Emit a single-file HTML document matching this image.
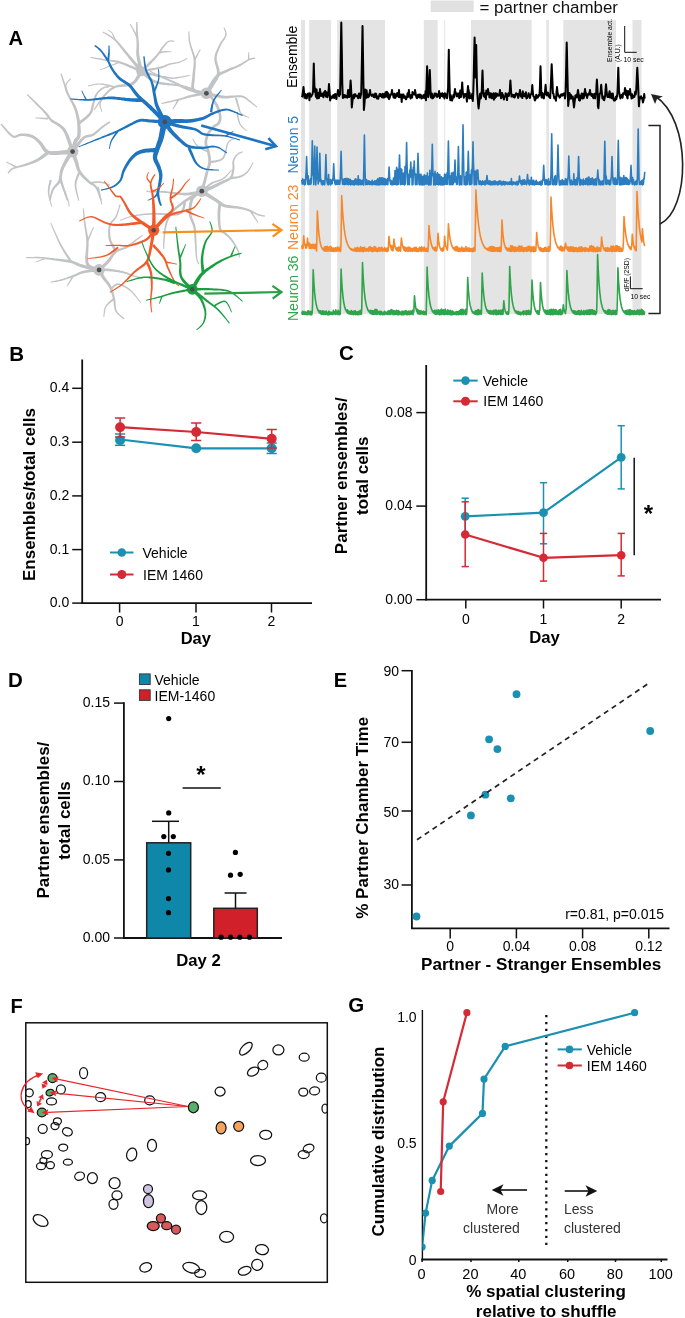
<!DOCTYPE html>
<html><head><meta charset="utf-8"><style>
html,body{margin:0;padding:0;background:#fff;width:685px;height:1318px;overflow:hidden}
svg{display:block;will-change:transform}
text{font-family:"Liberation Sans", sans-serif}
</style></head><body>
<svg width="685" height="1318" viewBox="0 0 685 1318" font-family='"Liberation Sans", sans-serif'>
<rect width="685" height="1318" fill="#fff"/>
<text x="8.6" y="44.9" font-size="20.2" text-anchor="start" font-weight="bold" fill="#000">A</text>
<rect x="301" y="20" width="4.0" height="294" fill="#e4e4e4"/>
<rect x="309.2" y="20" width="21.9" height="294" fill="#e4e4e4"/>
<rect x="337.2" y="20" width="47.9" height="294" fill="#e4e4e4"/>
<rect x="423.8" y="20" width="13.9" height="294" fill="#e4e4e4"/>
<rect x="444.2" y="20" width="1.0" height="294" fill="#e4e4e4"/>
<rect x="471" y="20" width="60.7" height="294" fill="#e4e4e4"/>
<rect x="546.3" y="20" width="2.6" height="294" fill="#e4e4e4"/>
<rect x="563.3" y="20" width="52.7" height="294" fill="#e4e4e4"/>
<rect x="632.5" y="20" width="9.0" height="294" fill="#e4e4e4"/>
<rect x="430.7" y="0.5" width="43" height="11.5" fill="#e1e1e1"/>
<text x="479.5" y="13" font-size="16.9" fill="#111">= partner chamber</text>
<polyline points="301.8,97.3 302.2,96.6 302.7,93.1 303.1,90.5 303.5,87.0 303.6,88.0 304.1,92.5 304.5,97.8 304.9,93.8 305.4,94.5 305.9,98.2 306.3,95.3 306.8,98.4 307.2,96.0 307.6,93.8 308.1,93.5 308.6,94.2 309.0,93.5 309.4,100.2 309.9,93.3 310.4,95.2 310.8,95.8 311.2,96.7 311.7,95.4 312.1,94.8 312.6,93.9 313.1,90.6 313.5,74.3 313.8,63.4 313.9,68.8 314.4,85.1 314.9,92.0 315.3,88.4 315.8,96.3 316.2,97.0 316.6,89.6 317.1,98.4 317.6,96.8 318.0,93.2 318.4,93.1 318.9,98.2 319.4,94.1 319.8,90.6 320.0,89.0 320.2,90.9 320.7,93.7 321.1,96.1 321.6,95.1 322.1,95.5 322.5,93.4 322.9,96.2 323.4,97.3 323.9,93.2 324.3,92.1 324.8,91.3 325.2,90.9 325.6,96.0 326.1,96.7 326.6,92.3 327.0,94.9 327.4,97.2 327.9,95.3 328.4,92.7 328.8,86.7 329.0,84.0 329.2,87.3 329.7,93.3 330.1,100.4 330.6,98.5 331.1,96.6 331.5,98.0 331.9,96.8 332.4,96.2 332.9,97.7 333.3,95.0 333.8,96.1 334.2,97.9 334.6,97.6 335.1,94.0 335.6,97.1 336.0,95.1 336.4,99.1 336.9,94.2 337.4,94.3 337.8,91.3 338.0,90.0 338.2,91.7 338.7,93.8 339.1,96.2 339.6,93.5 340.1,94.5 340.5,71.5 340.9,44.0 341.3,22.6 341.4,28.7 341.9,56.2 342.3,83.8 342.8,97.9 343.2,96.0 343.6,97.7 344.1,95.0 344.6,96.3 345.0,95.2 345.4,97.2 345.9,96.0 346.4,96.7 346.8,95.7 347.2,97.7 347.7,93.5 348.1,89.9 348.6,90.9 349.1,97.1 349.5,96.3 349.9,91.7 350.4,83.9 350.6,80.5 350.9,84.8 351.3,92.6 351.8,107.5 352.2,104.0 352.6,99.5 353.1,97.9 353.6,94.7 354.0,98.2 354.4,96.5 354.9,94.3 355.4,94.2 355.8,96.2 356.2,95.9 356.7,96.3 357.1,96.1 357.6,95.7 358.1,98.2 358.5,96.3 358.9,93.4 359.4,93.7 359.9,97.2 360.3,97.9 360.8,95.0 361.2,94.2 361.6,75.6 362.1,49.3 362.5,26.0 362.6,28.9 363.0,55.2 363.4,81.4 363.9,110.0 364.4,104.7 364.8,99.5 365.2,89.5 365.7,95.8 366.1,98.0 366.6,90.3 367.1,95.5 367.5,97.3 367.9,97.2 368.4,94.5 368.9,96.6 369.3,94.7 369.8,91.7 370.0,90.0 370.2,91.3 370.6,94.3 371.1,94.9 371.6,95.9 372.0,95.5 372.4,94.5 372.9,95.8 373.4,94.6 373.8,97.1 374.2,95.4 374.7,97.3 375.1,93.4 375.6,94.7 376.1,93.9 376.5,97.1 376.9,98.5 377.4,96.5 377.9,96.6 378.3,98.8 378.8,96.0 379.2,96.0 379.6,94.1 380.1,96.0 380.6,93.9 381.0,94.6 381.4,96.0 381.9,97.3 382.4,94.9 382.8,93.9 383.2,97.6 383.7,97.6 384.1,93.9 384.6,97.2 385.1,96.9 385.5,92.3 385.9,94.0 386.4,96.6 386.9,91.7 387.3,96.2 387.8,97.4 388.2,93.3 388.6,97.9 389.1,99.1 389.6,97.9 390.0,96.5 390.4,94.4 390.9,94.9 391.4,94.2 391.8,91.3 392.0,90.0 392.2,91.7 392.7,94.7 393.1,94.9 393.6,97.6 394.1,95.1 394.5,93.7 394.9,97.9 395.4,97.8 395.9,94.6 396.3,95.5 396.8,96.1 397.2,93.1 397.6,94.5 398.1,94.5 398.6,97.1 399.0,90.0 399.4,97.2 399.9,96.7 400.4,96.4 400.8,94.4 401.2,96.3 401.7,101.9 402.1,94.6 402.6,97.6 403.1,94.5 403.5,94.5 403.9,97.8 404.4,97.5 404.9,96.2 405.3,97.7 405.8,99.2 406.2,99.3 406.6,97.8 407.1,96.3 407.6,93.2 408.0,97.0 408.4,95.9 408.9,89.9 409.4,95.0 409.8,95.7 410.2,97.5 410.7,98.4 411.1,95.0 411.6,95.5 412.1,97.6 412.5,91.9 412.9,93.4 413.4,93.5 413.9,93.8 414.3,94.7 414.8,91.7 415.0,90.0 415.2,91.3 415.6,93.5 416.1,96.2 416.6,97.6 417.0,98.2 417.4,97.7 417.9,94.8 418.4,96.3 418.8,96.9 419.2,94.4 419.7,97.6 420.1,94.6 420.6,96.6 421.1,95.3 421.5,98.6 421.9,97.2 422.4,97.5 422.9,97.7 423.3,95.3 423.8,97.7 424.2,94.7 424.6,96.4 425.1,98.3 425.6,91.0 426.0,100.3 426.4,87.7 426.9,72.8 427.1,66.2 427.4,74.5 427.8,89.4 428.2,97.2 428.7,94.1 429.1,88.8 429.6,75.8 429.8,70.0 430.1,77.2 430.5,90.2 430.9,97.5 431.4,96.0 431.9,93.6 432.3,98.4 432.8,95.3 433.2,98.1 433.6,96.6 434.1,96.8 434.6,93.5 435.0,94.5 435.4,94.0 435.9,93.5 436.4,96.3 436.8,94.3 437.2,97.1 437.7,94.6 438.1,94.7 438.6,95.9 439.1,91.1 439.5,94.4 439.9,98.1 440.4,94.0 440.9,93.8 441.3,96.1 441.8,94.6 442.2,93.2 442.6,96.6 443.1,93.7 443.6,94.7 444.0,95.1 444.4,98.5 444.9,93.3 445.4,95.5 445.8,94.3 446.2,94.3 446.7,97.6 447.1,98.2 447.6,92.6 448.1,88.3 448.5,65.1 448.8,49.7 448.9,57.4 449.4,80.6 449.9,96.7 450.3,100.2 450.8,95.3 451.2,97.7 451.6,99.5 452.1,100.6 452.6,98.7 453.0,96.8 453.4,95.0 453.9,97.4 454.4,93.1 454.8,90.6 455.0,89.0 455.2,90.9 455.7,93.2 456.1,93.5 456.6,96.3 457.1,93.6 457.5,95.9 457.9,96.4 458.4,93.5 458.9,93.5 459.3,98.1 459.8,97.0 460.2,90.5 460.6,97.1 461.1,96.7 461.6,92.2 462.0,85.4 462.2,82.4 462.4,86.2 462.9,93.0 463.4,93.8 463.8,97.7 464.2,96.1 464.7,95.6 465.1,93.9 465.6,96.1 466.1,94.2 466.5,97.3 466.9,101.6 467.4,92.7 467.9,87.7 468.0,86.0 468.3,89.3 468.8,90.6 469.2,98.5 469.6,92.8 470.1,98.1 470.6,97.2 471.0,96.3 471.4,98.4 471.9,95.1 472.4,93.6 472.8,101.0 473.2,94.3 473.7,77.4 474.1,57.4 474.6,37.4 475.1,57.4 475.5,77.4 475.9,59.2 476.2,45.0 476.4,56.3 476.9,81.8 477.3,93.1 477.8,99.8 478.2,104.7 478.6,108.5 479.1,103.6 479.6,98.7 480.0,93.9 480.4,93.5 480.9,98.4 481.4,95.6 481.8,90.3 482.2,77.5 482.5,70.4 482.7,76.1 483.1,88.9 483.6,93.5 484.1,96.5 484.5,96.9 484.9,93.4 485.4,96.9 485.9,99.3 486.3,90.4 486.8,93.7 487.2,94.5 487.6,91.7 488.0,89.0 488.1,89.8 488.6,93.3 489.0,92.8 489.4,97.5 489.9,97.6 490.4,94.9 490.8,93.2 491.2,97.6 491.7,94.1 492.1,98.3 492.6,95.7 493.1,98.0 493.5,93.2 493.9,99.8 494.4,96.7 494.9,98.2 495.3,93.4 495.8,93.2 496.2,96.7 496.6,95.9 497.1,93.7 497.6,94.5 498.0,95.5 498.4,95.6 498.9,95.7 499.4,94.3 499.8,91.3 500.0,90.0 500.2,91.7 500.7,94.7 501.1,98.3 501.6,96.3 502.1,92.9 502.5,94.2 502.9,94.8 503.4,97.5 503.9,99.5 504.3,96.8 504.8,96.5 505.2,96.6 505.6,93.2 506.1,93.9 506.6,97.0 507.0,100.1 507.4,94.6 507.9,95.1 508.4,93.3 508.8,96.0 509.2,93.8 509.7,92.6 510.1,84.8 510.4,80.5 510.6,83.9 511.1,91.7 511.5,96.6 511.9,95.6 512.4,96.2 512.9,94.7 513.3,96.9 513.8,96.4 514.2,95.0 514.6,97.5 515.1,96.6 515.5,94.7 516.0,93.2 516.5,93.5 516.9,94.5 517.4,94.0 517.8,96.2 518.2,97.9 518.7,96.5 519.1,93.7 519.6,92.7 520.0,90.0 520.0,90.3 520.5,93.3 521.0,96.5 521.4,96.2 521.9,95.0 522.3,98.1 522.8,91.3 523.2,94.5 523.6,94.6 524.1,96.3 524.5,94.1 525.0,96.3 525.5,93.7 525.9,92.2 526.4,98.5 526.8,95.7 527.2,98.1 527.7,96.0 528.1,95.6 528.6,93.2 529.0,95.7 529.5,97.0 530.0,97.9 530.4,95.2 530.9,94.4 531.3,93.9 531.8,91.7 532.2,86.2 532.3,85.0 532.6,89.3 533.1,94.8 533.5,96.4 534.0,96.8 534.5,98.7 534.9,100.6 535.4,99.5 535.8,97.7 536.2,94.8 536.7,98.0 537.1,96.2 537.6,97.2 538.0,97.4 538.5,95.2 539.0,94.5 539.4,95.6 539.9,87.7 540.3,72.8 540.5,66.2 540.8,74.5 541.2,89.4 541.6,97.4 542.1,93.2 542.5,93.1 543.0,97.6 543.5,96.7 543.9,98.5 544.4,93.9 544.8,94.8 545.2,89.2 545.6,84.8 545.7,86.0 546.1,91.6 546.6,93.7 547.0,95.6 547.5,94.0 548.0,92.6 548.4,94.6 548.9,96.0 549.3,97.2 549.8,95.5 550.2,98.0 550.6,89.5 551.1,78.7 551.5,67.9 551.7,64.3 552.0,71.5 552.5,82.3 552.9,93.1 553.4,93.5 553.8,95.8 554.2,98.2 554.7,96.9 555.1,98.0 555.6,99.3 556.0,100.8 556.5,92.0 557.0,87.5 557.0,87.0 557.4,91.0 557.9,95.5 558.3,94.5 558.8,96.1 559.2,96.8 559.6,97.7 560.1,97.1 560.5,96.6 561.0,94.5 561.5,94.8 561.9,94.2 562.4,95.6 562.8,93.9 563.2,95.1 563.7,94.4 564.1,93.4 564.6,94.6 565.0,98.4 565.5,94.5 566.0,75.9 566.4,55.9 566.7,42.5 566.9,49.2 567.3,69.2 567.8,89.3 568.2,106.0 568.6,101.5 569.1,97.0 569.5,93.1 570.0,97.2 570.5,98.6 570.9,94.8 571.4,98.4 571.8,96.8 572.2,98.0 572.7,96.5 573.1,99.5 573.6,104.0 574.0,107.5 574.5,103.0 575.0,98.8 575.4,95.4 575.9,95.3 576.3,95.3 576.8,97.5 577.2,95.3 577.6,92.3 578.0,90.0 578.1,90.7 578.5,93.7 579.0,100.1 579.5,95.4 579.9,100.7 580.4,97.7 580.8,96.1 581.2,96.0 581.7,93.5 582.1,98.5 582.6,98.6 583.0,93.8 583.5,98.3 584.0,96.9 584.4,93.7 584.9,90.2 585.0,89.0 585.3,91.3 585.8,92.9 586.2,95.7 586.6,95.8 587.1,98.1 587.5,95.8 588.0,94.2 588.5,93.5 588.9,94.7 589.4,94.3 589.8,91.3 590.0,90.0 590.2,91.7 590.7,94.7 591.1,94.5 591.6,96.0 592.0,93.9 592.5,95.4 593.0,97.3 593.4,98.1 593.9,95.8 594.3,93.7 594.8,96.7 595.2,98.4 595.6,94.5 596.1,94.2 596.5,85.9 596.9,79.5 597.0,81.3 597.5,89.6 597.9,106.5 598.4,108.3 598.8,103.0 599.2,97.8 599.7,93.6 600.1,93.7 600.6,92.3 601.0,86.7 601.2,84.8 601.5,88.5 602.0,93.9 602.4,98.4 602.9,96.2 603.3,98.1 603.8,100.0 604.2,100.2 604.6,98.3 605.1,96.0 605.5,90.2 606.0,84.3 606.5,90.2 606.9,93.6 607.4,96.9 607.8,95.6 608.2,96.4 608.7,97.0 609.1,93.5 609.6,91.2 610.0,97.5 610.5,93.3 611.0,93.6 611.4,98.0 611.9,98.3 612.3,97.1 612.8,93.4 613.2,97.7 613.6,99.5 614.1,100.6 614.5,98.7 615.0,100.4 615.5,98.5 615.9,96.7 616.4,99.2 616.8,95.6 617.2,96.8 617.7,86.6 618.1,72.5 618.3,67.8 618.6,77.2 619.0,91.3 619.5,93.9 620.0,96.6 620.4,98.5 620.9,96.0 621.3,96.1 621.8,94.7 622.2,97.3 622.6,97.6 623.1,93.3 623.5,94.0 624.0,93.8 624.5,92.9 624.9,88.9 625.0,88.0 625.4,91.1 625.8,94.9 626.2,90.5 626.7,93.2 627.1,97.1 627.6,98.4 628.0,90.9 628.5,93.4 629.0,94.7 629.4,93.7 629.9,90.2 630.0,89.0 630.3,91.3 630.8,94.8 631.2,96.2 631.6,98.6 632.1,94.2 632.5,97.1 633.0,97.7 633.5,96.2 633.9,95.7 634.4,96.9 634.8,94.4 635.2,91.7 635.7,94.6 636.1,92.4 636.6,82.8 637.0,73.1 637.3,67.8 637.5,72.1 638.0,81.7 638.4,91.3 638.9,106.3 639.3,101.4 639.8,97.5 640.2,97.0 640.6,98.2 641.1,96.2 641.5,97.5 642.0,97.9 642.5,99.8 642.9,102.4 643.4,101.0 643.8,98.3 644.2,94.1 644.7,98.6" fill="none" stroke="#000" stroke-width="2.0" stroke-linejoin="round"/>
<polyline points="301.8,179.9 302.2,184.0 302.6,178.9 303.0,183.9 303.4,181.7 303.8,183.9 304.2,179.7 304.6,184.9 305.0,180.2 305.4,184.3 305.8,176.9 306.2,169.2 306.6,156.5 307.0,169.2 307.4,178.9 307.8,184.3 308.2,175.7 308.6,184.7 309.0,180.8 309.4,184.0 309.8,180.4 310.2,184.4 310.6,178.8 311.0,183.9 311.4,178.5 311.8,165.3 312.2,145.6 312.3,140.7 312.6,155.5 313.0,175.2 313.4,173.7 313.8,184.6 314.2,167.7 314.6,150.3 314.7,146.0 315.0,159.0 315.4,176.3 315.8,185.0 316.2,178.4 316.6,163.9 317.0,147.0 317.4,163.9 317.8,178.8 318.2,183.9 318.6,181.1 319.0,181.5 319.4,167.4 319.8,153.3 320.2,167.4 320.6,181.5 321.0,179.4 321.4,184.0 321.8,181.7 322.2,184.9 322.6,180.7 323.0,183.9 323.4,180.7 323.8,184.3 324.2,180.7 324.6,184.8 325.0,181.5 325.4,171.5 325.8,158.0 325.9,154.6 326.2,164.7 326.6,178.2 327.0,180.9 327.4,184.0 327.8,180.2 328.2,184.9 328.6,174.6 329.0,184.0 329.4,181.2 329.8,183.9 330.2,179.5 330.6,184.9 331.0,180.1 331.4,184.0 331.8,180.6 332.2,183.8 332.6,178.7 333.0,180.3 333.4,170.8 333.7,163.7 333.8,166.1 334.2,175.5 334.6,180.8 335.0,183.8 335.4,180.3 335.8,184.6 336.2,182.0 336.6,184.1 337.0,180.0 337.4,184.1 337.8,180.4 338.2,184.2 338.6,180.3 339.0,184.2 339.4,181.5 339.8,184.1 340.2,180.2 340.6,170.1 341.0,155.1 341.1,151.4 341.4,162.6 341.8,177.5 342.2,180.4 342.6,184.2 343.0,179.2 343.4,184.2 343.8,179.3 344.2,184.6 344.6,178.9 345.0,184.2 345.4,178.5 345.8,184.4 346.2,179.9 346.6,184.0 347.0,178.4 347.4,184.2 347.8,179.1 348.2,184.8 348.6,178.8 349.0,184.2 349.4,180.0 349.8,184.1 350.2,179.2 350.6,185.0 351.0,180.9 351.4,184.2 351.8,180.6 352.2,184.2 352.6,181.2 353.0,184.7 353.4,181.1 353.8,184.6 354.2,180.5 354.6,185.0 355.0,179.4 355.4,184.3 355.8,178.9 356.2,183.9 356.6,181.2 357.0,184.7 357.4,179.9 357.8,184.0 358.2,175.9 358.6,184.9 359.0,180.3 359.4,184.3 359.8,179.5 360.2,184.5 360.6,180.3 361.0,184.6 361.4,182.2 361.8,184.3 362.2,180.2 362.6,184.3 363.0,181.7 363.4,185.0 363.8,168.3 364.2,146.1 364.4,135.0 364.6,146.1 365.0,168.3 365.4,184.7 365.8,181.4 366.2,184.5 366.6,179.5 367.0,184.3 367.4,181.4 367.8,184.4 368.2,181.0 368.6,183.8 369.0,180.8 369.4,184.4 369.8,181.9 370.2,184.5 370.6,181.6 371.0,184.0 371.4,182.4 371.8,184.7 372.2,180.2 372.6,184.7 373.0,181.9 373.4,183.8 373.8,181.9 374.2,184.4 374.6,180.9 375.0,184.1 375.4,182.0 375.8,184.6 376.2,180.5 376.6,184.6 377.0,180.1 377.4,184.6 377.8,178.9 378.2,185.0 378.6,180.3 379.0,183.9 379.4,177.7 379.8,185.0 380.2,178.1 380.6,184.3 381.0,178.4 381.4,184.4 381.8,177.7 382.2,184.5 382.6,178.0 383.0,184.6 383.4,178.2 383.8,184.0 384.2,178.8 384.6,184.7 385.0,178.5 385.4,184.8 385.8,179.6 386.2,184.4 386.6,180.2 387.0,184.3 387.4,178.8 387.8,184.7 388.2,179.2 388.6,177.0 389.0,169.0 389.1,167.0 389.4,173.0 389.8,181.0 390.2,180.3 390.6,184.2 391.0,180.3 391.4,184.8 391.8,182.0 392.2,184.8 392.6,181.1 393.0,184.8 393.4,178.3 393.8,184.5 394.2,177.5 394.6,184.1 395.0,170.5 395.4,184.5 395.8,173.8 396.2,184.4 396.6,167.4 397.0,184.9 397.4,169.1 397.8,184.2 398.2,170.8 398.6,184.3 399.0,169.7 399.4,158.3 399.5,155.0 399.8,165.0 400.2,174.3 400.6,184.6 401.0,168.7 401.4,184.1 401.8,169.5 402.2,184.2 402.6,174.8 403.0,184.3 403.4,173.4 403.8,184.4 404.2,172.6 404.6,185.0 405.0,166.5 405.4,183.9 405.8,169.8 406.2,161.4 406.6,142.6 407.0,161.4 407.4,175.3 407.8,184.6 408.2,174.7 408.6,184.3 409.0,174.0 409.4,184.8 409.8,170.1 410.2,177.3 410.6,167.1 410.8,162.0 411.0,167.1 411.4,177.3 411.8,173.7 412.2,185.0 412.6,169.8 413.0,184.4 413.4,167.0 413.8,171.7 414.2,161.0 414.6,171.7 415.0,176.2 415.4,184.8 415.8,174.1 416.2,183.9 416.6,175.9 417.0,184.7 417.4,174.4 417.8,160.3 418.0,153.3 418.2,160.3 418.6,171.2 419.0,184.2 419.4,175.0 419.8,184.9 420.2,174.3 420.6,184.2 421.0,174.3 421.4,184.8 421.8,178.7 422.2,184.9 422.6,176.4 423.0,184.6 423.4,177.1 423.8,184.7 424.2,174.7 424.6,184.8 425.0,177.8 425.4,183.9 425.8,175.6 426.2,183.8 426.6,179.4 427.0,184.1 427.4,173.0 427.8,183.8 428.2,176.5 428.6,184.9 429.0,178.8 429.4,184.4 429.8,170.3 430.2,184.9 430.6,175.9 431.0,184.7 431.4,175.3 431.8,166.9 432.2,148.7 432.3,144.2 432.6,157.8 433.0,175.9 433.4,176.8 433.8,184.9 434.2,173.3 434.6,184.3 435.0,171.2 435.4,185.0 435.8,174.0 436.2,184.3 436.6,175.7 437.0,184.1 437.4,172.8 437.8,184.5 438.2,174.0 438.6,184.9 439.0,177.4 439.4,184.1 439.8,174.6 440.2,184.8 440.6,178.8 441.0,184.9 441.4,176.7 441.8,184.7 442.2,178.7 442.6,184.9 443.0,177.8 443.4,184.6 443.8,178.3 444.2,184.6 444.6,174.1 445.0,183.9 445.4,174.7 445.8,184.3 446.2,176.0 446.6,184.2 447.0,172.7 447.4,184.2 447.8,170.3 448.2,150.8 448.4,141.0 448.6,150.8 449.0,170.3 449.4,184.7 449.8,178.2 450.2,184.3 450.6,175.9 451.0,184.6 451.4,173.0 451.8,184.3 452.2,177.0 452.6,184.6 453.0,172.2 453.4,184.0 453.8,174.2 454.2,182.2 454.6,171.1 455.0,160.0 455.4,171.1 455.8,182.2 456.2,177.4 456.6,184.4 457.0,176.9 457.4,184.1 457.8,172.2 458.2,155.1 458.4,146.6 458.6,155.1 459.0,170.9 459.4,185.0 459.8,175.5 460.2,183.9 460.6,176.1 461.0,184.7 461.4,176.9 461.8,184.6 462.2,172.6 462.6,151.6 463.0,124.8 463.4,151.6 463.8,171.4 464.2,184.5 464.6,176.6 465.0,184.4 465.4,177.4 465.8,184.9 466.2,172.4 466.6,184.8 467.0,171.9 467.4,184.2 467.8,170.1 468.2,155.1 468.3,151.4 468.6,162.6 469.0,176.4 469.4,184.6 469.8,177.5 470.2,184.5 470.6,174.2 471.0,184.5 471.4,170.1 471.8,183.9 472.2,171.8 472.6,161.1 473.0,141.9 473.4,161.1 473.8,170.8 474.2,184.7 474.6,175.6 475.0,184.6 475.4,171.0 475.8,184.1 476.2,173.4 476.6,184.7 477.0,170.0 477.4,176.7 477.8,170.0 478.2,176.7 478.6,181.0 479.0,184.1 479.4,181.3 479.8,184.4 480.2,180.8 480.6,183.8 481.0,181.7 481.4,185.0 481.8,182.0 482.2,184.2 482.6,180.9 483.0,184.3 483.4,182.0 483.8,184.2 484.2,181.6 484.6,184.6 485.0,180.8 485.4,184.6 485.8,182.1 486.2,183.9 486.6,179.7 487.0,175.5 487.4,179.7 487.8,183.9 488.2,180.8 488.6,184.1 489.0,181.8 489.4,184.4 489.8,180.7 490.2,184.7 490.6,181.4 491.0,184.8 491.4,182.7 491.8,184.3 492.2,181.5 492.6,184.8 493.0,181.6 493.4,184.2 493.8,181.3 494.2,184.4 494.6,181.1 495.0,184.6 495.4,181.0 495.8,183.9 496.2,182.3 496.6,184.0 497.0,181.7 497.4,184.8 497.8,182.4 498.2,184.8 498.6,181.3 499.0,184.1 499.4,181.0 499.8,184.0 500.2,181.0 500.6,183.9 501.0,181.3 501.4,184.9 501.8,182.5 502.2,184.8 502.6,182.0 503.0,184.2 503.4,181.2 503.8,184.5 504.2,181.7 504.6,184.9 505.0,181.7 505.4,184.2 505.8,181.9 506.2,183.9 506.6,182.8 507.0,184.1 507.4,182.4 507.8,184.4 508.2,182.3 508.6,183.9 509.0,182.3 509.4,184.4 509.8,181.8 510.2,184.3 510.6,182.6 511.0,184.0 511.4,178.5 511.8,184.7 512.2,181.9 512.6,184.7 513.0,182.9 513.4,183.8 513.8,181.8 514.2,183.9 514.6,182.5 515.0,184.0 515.4,182.6 515.8,184.6 516.2,182.4 516.6,184.5 517.0,181.3 517.4,184.9 517.8,181.7 518.2,184.5 518.6,181.0 519.0,181.0 519.4,177.0 519.5,176.0 519.8,179.0 520.2,183.0 520.6,181.1 521.0,183.9 521.4,180.5 521.8,185.0 522.2,182.2 522.6,184.5 523.0,179.9 523.4,183.9 523.8,181.2 524.2,184.1 524.6,179.8 525.0,184.1 525.4,181.1 525.8,183.8 526.2,181.7 526.6,184.7 527.0,180.3 527.4,175.7 527.5,174.5 527.8,178.0 528.2,182.2 528.6,183.9 529.0,180.2 529.4,185.0 529.8,180.3 530.2,184.3 530.6,182.1 531.0,183.9 531.4,177.4 531.8,184.5 532.2,181.8 532.6,184.6 533.0,180.6 533.4,184.4 533.8,180.2 534.2,184.9 534.6,182.3 535.0,184.6 535.4,181.7 535.8,184.3 536.2,180.3 536.6,184.3 537.0,182.0 537.4,184.1 537.8,182.4 538.2,184.2 538.6,182.8 539.0,184.5 539.4,181.9 539.8,184.0 540.2,181.8 540.6,185.0 541.0,181.0 541.4,185.0 541.8,181.3 542.2,184.2 542.6,179.5 543.0,180.6 543.4,171.9 543.7,165.4 543.8,167.6 544.2,176.3 544.6,179.6 545.0,184.5 545.4,180.2 545.8,184.5 546.2,179.7 546.6,184.3 547.0,180.0 547.4,184.6 547.8,181.0 548.2,184.8 548.6,178.7 549.0,184.6 549.4,181.9 549.8,184.7 550.2,181.5 550.6,184.1 551.0,173.6 551.4,150.8 551.7,133.7 551.8,139.4 552.2,162.2 552.6,184.5 553.0,179.6 553.4,184.8 553.8,182.0 554.2,184.3 554.6,176.9 555.0,184.4 555.4,175.5 555.8,184.9 556.2,180.4 556.6,184.3 557.0,181.8 557.4,171.7 557.8,153.9 558.0,145.0 558.2,153.9 558.6,171.7 559.0,180.4 559.4,184.9 559.8,181.1 560.2,184.9 560.6,180.7 561.0,184.6 561.4,182.4 561.8,184.4 562.2,179.5 562.6,184.8 563.0,181.2 563.4,183.9 563.8,180.9 564.2,184.6 564.6,181.1 565.0,184.3 565.4,178.8 565.8,184.8 566.2,179.4 566.6,184.5 567.0,179.2 567.4,184.8 567.8,180.4 568.2,175.3 568.6,162.4 568.8,156.0 569.0,162.4 569.4,175.3 569.8,180.8 570.2,184.7 570.6,180.8 571.0,184.7 571.4,180.0 571.8,183.9 572.2,181.6 572.6,184.6 573.0,181.5 573.4,184.0 573.8,173.9 574.2,184.5 574.6,179.4 575.0,184.7 575.4,179.9 575.8,184.9 576.2,181.0 576.6,184.5 577.0,177.7 577.4,184.6 577.8,180.3 578.2,169.2 578.6,156.5 579.0,169.2 579.4,179.6 579.8,185.0 580.2,179.3 580.6,184.9 581.0,179.8 581.4,183.9 581.8,180.2 582.2,184.1 582.6,181.5 583.0,184.9 583.4,179.0 583.8,184.5 584.2,181.1 584.6,183.8 585.0,180.5 585.4,184.4 585.8,178.7 586.2,184.2 586.6,178.2 587.0,184.0 587.4,179.2 587.8,184.9 588.2,177.3 588.6,184.5 589.0,177.1 589.4,184.4 589.8,179.7 590.2,184.7 590.6,178.9 591.0,184.3 591.4,180.3 591.8,184.2 592.2,177.9 592.6,183.8 593.0,180.4 593.4,184.9 593.8,179.2 594.2,184.0 594.6,180.4 595.0,184.9 595.4,178.8 595.8,184.6 596.2,180.9 596.6,184.9 597.0,178.3 597.4,176.7 597.8,170.0 598.2,176.7 598.6,178.9 599.0,184.6 599.4,179.7 599.8,184.5 600.2,181.4 600.6,184.8 601.0,181.2 601.4,184.1 601.8,182.7 602.2,184.6 602.6,180.8 603.0,184.5 603.4,180.7 603.8,184.6 604.2,170.4 604.6,151.0 604.8,141.3 605.0,151.0 605.4,170.4 605.8,184.1 606.2,176.1 606.6,184.4 607.0,182.0 607.4,183.8 607.8,180.1 608.2,184.0 608.6,180.5 609.0,184.2 609.4,181.4 609.8,185.0 610.2,179.8 610.6,184.1 611.0,179.8 611.4,175.5 611.8,162.8 612.0,156.5 612.2,162.8 612.6,175.5 613.0,180.7 613.4,184.0 613.8,178.3 614.2,184.1 614.6,180.5 615.0,184.5 615.4,177.9 615.8,184.4 616.2,181.1 616.6,184.1 617.0,179.2 617.4,184.3 617.8,165.2 618.2,145.4 618.3,140.4 618.6,155.3 619.0,175.1 619.4,184.6 619.8,181.5 620.2,184.9 620.6,177.3 621.0,184.6 621.4,179.2 621.8,184.8 622.2,178.1 622.6,184.2 623.0,180.4 623.4,184.5 623.8,175.6 624.2,184.1 624.6,178.0 625.0,184.2 625.4,177.6 625.8,183.9 626.2,177.5 626.6,184.2 627.0,178.2 627.4,184.1 627.8,179.3 628.2,184.6 628.6,180.4 629.0,184.1 629.4,180.9 629.8,184.0 630.2,180.6 630.6,174.1 631.0,165.4 631.4,174.1 631.8,181.9 632.2,184.5 632.6,177.5 633.0,183.9 633.4,179.6 633.8,183.9 634.2,182.0 634.6,185.0 635.0,182.2 635.4,184.1 635.8,181.2 636.2,184.5 636.6,180.3 637.0,184.4 637.4,178.8 637.8,153.9 638.2,129.0 638.6,153.9 639.0,178.8 639.4,184.4 639.8,181.7 640.2,184.3 640.6,181.8 641.0,184.5 641.4,180.9 641.8,184.1 642.2,180.6 642.6,184.9 643.0,179.7 643.4,184.2 643.8,178.3 644.2,179.1 644.6,173.2 644.7,171.7" fill="none" stroke="#2b7dc0" stroke-width="1.6" stroke-linejoin="round"/>
<polyline points="301.8,245.7 302.2,248.4 302.6,245.0 303.0,248.5 303.4,241.3 303.7,235.7 303.8,236.9 304.2,240.8 304.6,243.6 305.0,245.6 305.4,245.6 305.8,248.1 306.2,244.6 306.6,247.8 307.0,245.3 307.4,239.7 307.5,238.1 307.8,240.9 308.2,243.7 308.6,245.7 309.0,243.3 309.4,248.1 309.8,243.6 310.2,248.3 310.6,245.3 311.0,248.5 311.4,244.9 311.8,247.8 312.2,245.2 312.6,248.0 313.0,244.2 313.4,248.2 313.8,244.5 314.2,248.5 314.6,245.7 315.0,248.4 315.4,244.3 315.8,248.2 316.2,248.2 316.6,251.0 317.0,230.5 317.4,211.1 317.8,218.4 318.2,225.5 318.6,230.0 319.0,234.8 319.4,237.4 319.8,240.7 320.2,242.2 320.6,244.7 321.0,245.2 321.4,247.2 321.8,247.2 322.2,248.6 322.6,248.5 323.0,249.8 323.4,249.0 323.8,250.4 324.2,247.2 324.6,250.9 325.0,246.6 325.4,251.1 325.8,246.8 326.2,251.0 326.6,247.0 327.0,251.1 327.4,246.3 327.8,250.7 328.2,247.2 328.6,250.9 329.0,248.3 329.4,250.9 329.8,246.8 330.2,250.6 330.6,246.3 331.0,251.3 331.4,247.4 331.8,250.9 332.2,248.4 332.6,251.1 333.0,248.1 333.4,251.5 333.8,248.4 334.2,250.8 334.6,248.4 335.0,251.4 335.4,247.9 335.8,250.7 336.2,248.6 336.6,251.2 337.0,247.6 337.4,250.7 337.8,247.0 338.2,250.7 338.6,248.2 339.0,251.2 339.4,248.0 339.8,250.7 340.2,246.7 340.6,251.4 341.0,243.8 341.4,217.0 341.7,195.5 341.8,198.2 342.2,204.5 342.6,211.5 343.0,216.1 343.4,221.4 343.8,224.6 344.2,228.8 344.6,231.1 345.0,234.4 345.4,236.0 345.8,238.7 346.2,239.6 346.6,242.0 347.0,242.4 347.4,244.2 347.8,244.5 348.2,245.9 348.6,246.0 349.0,247.4 349.4,247.3 349.8,248.4 350.2,248.3 350.6,249.3 351.0,249.1 351.4,249.9 351.8,248.9 352.2,250.3 352.6,249.5 353.0,250.6 353.4,249.2 353.8,250.9 354.2,249.2 354.6,250.7 355.0,247.9 355.4,251.2 355.8,248.5 356.2,251.3 356.6,248.3 357.0,251.4 357.4,247.2 357.8,250.6 358.2,248.0 358.6,251.1 359.0,248.7 359.4,251.5 359.8,248.1 360.2,251.3 360.6,246.9 361.0,251.4 361.4,248.7 361.8,250.6 362.2,247.5 362.6,251.5 363.0,247.6 363.4,251.6 363.8,247.8 364.2,250.6 364.6,247.4 365.0,250.9 365.4,248.8 365.8,251.2 366.2,249.1 366.6,250.8 367.0,248.5 367.4,250.8 367.8,248.7 368.2,251.4 368.6,247.5 369.0,250.6 369.4,247.0 369.8,250.8 370.2,246.7 370.6,250.9 371.0,248.0 371.4,251.1 371.8,247.5 372.2,251.6 372.6,248.4 373.0,251.3 373.4,248.0 373.8,250.9 374.2,246.6 374.6,251.2 375.0,247.0 375.4,250.6 375.8,247.2 376.2,251.2 376.6,248.8 377.0,251.4 377.4,248.8 377.8,251.4 378.2,248.0 378.6,250.7 379.0,247.6 379.4,251.1 379.8,247.9 380.2,250.8 380.6,249.0 381.0,250.9 381.4,247.4 381.8,250.8 382.2,247.7 382.6,251.1 383.0,248.9 383.4,250.8 383.8,248.7 384.2,250.8 384.6,247.6 385.0,251.2 385.4,248.7 385.8,250.7 386.2,248.2 386.6,251.4 387.0,249.2 387.4,251.4 387.8,247.7 388.2,250.8 388.6,243.3 389.0,236.4 389.4,240.0 389.8,243.7 390.2,245.2 390.6,247.5 391.0,247.9 391.4,249.6 391.8,245.5 392.2,250.6 392.6,246.8 393.0,250.7 393.4,246.3 393.8,241.2 393.9,239.1 394.2,242.5 394.6,244.2 395.0,246.9 395.4,247.4 395.8,249.0 396.2,247.9 396.6,250.4 397.0,248.2 397.4,250.7 397.8,247.6 398.2,251.1 398.6,247.0 399.0,250.7 399.4,247.4 399.8,250.7 400.2,247.1 400.6,251.1 401.0,243.9 401.4,238.0 401.8,241.0 402.2,244.6 402.6,245.7 403.0,247.8 403.4,248.0 403.8,249.8 404.2,246.7 404.6,250.7 405.0,247.8 405.4,251.1 405.8,247.3 406.2,250.8 406.6,248.4 407.0,251.0 407.4,248.1 407.8,251.3 408.2,247.1 408.6,251.1 409.0,247.8 409.4,250.8 409.8,247.4 410.2,251.2 410.6,248.2 411.0,251.1 411.4,248.6 411.8,250.9 412.2,248.7 412.6,251.1 413.0,248.6 413.4,250.7 413.8,248.0 414.2,250.7 414.6,247.4 415.0,251.3 415.4,248.0 415.8,250.7 416.2,247.4 416.6,251.5 417.0,248.8 417.4,251.2 417.8,248.9 418.2,251.4 418.6,248.9 419.0,250.9 419.4,247.3 419.8,250.7 420.2,248.6 420.6,250.9 421.0,247.4 421.4,251.5 421.8,246.9 422.2,250.6 422.6,248.4 423.0,250.6 423.4,248.1 423.8,251.1 424.2,247.1 424.6,250.8 425.0,248.9 425.4,251.2 425.8,248.3 426.2,251.3 426.6,249.0 427.0,251.3 427.4,248.0 427.8,251.6 428.2,248.0 428.6,238.9 429.0,225.6 429.4,231.3 429.8,234.5 430.2,238.5 430.6,240.3 431.0,243.0 431.4,244.1 431.8,246.0 432.2,246.4 432.6,248.1 433.0,248.0 433.4,249.2 433.8,247.8 434.2,250.2 434.6,247.7 435.0,250.7 435.4,247.1 435.8,251.0 436.2,248.7 436.6,250.7 437.0,247.8 437.4,246.8 437.8,237.1 438.0,233.4 438.2,235.3 438.6,240.4 439.0,242.9 439.4,245.7 439.8,246.6 440.2,248.4 440.6,248.8 441.0,250.1 441.4,249.2 441.8,250.7 442.2,248.4 442.6,251.2 443.0,248.1 443.4,250.7 443.8,248.4 444.2,244.4 444.6,236.3 445.0,241.2 445.4,243.3 445.8,246.3 446.2,246.9 446.6,248.8 447.0,247.6 447.4,250.2 447.8,244.0 448.2,231.4 448.4,223.9 448.6,227.1 449.0,230.3 449.4,234.6 449.8,236.5 450.2,239.8 450.6,240.8 451.0,243.2 451.4,244.0 451.8,245.7 452.2,245.9 452.6,247.6 453.0,247.4 453.4,248.7 453.8,247.9 454.2,249.7 454.6,247.8 455.0,250.3 455.4,246.7 455.8,250.6 456.2,247.4 456.6,250.8 457.0,246.4 457.4,251.0 457.8,247.3 458.2,251.3 458.6,248.3 459.0,251.4 459.4,248.4 459.8,250.9 460.2,248.2 460.6,251.4 461.0,248.7 461.4,250.8 461.8,247.0 462.2,250.9 462.6,248.3 463.0,251.4 463.4,248.2 463.8,251.1 464.2,248.5 464.6,251.2 465.0,248.2 465.4,250.6 465.8,246.6 466.2,251.1 466.6,248.2 467.0,250.6 467.4,248.1 467.8,251.2 468.2,248.8 468.6,251.2 469.0,247.8 469.4,251.1 469.8,248.5 470.2,251.1 470.6,249.0 471.0,251.3 471.4,248.9 471.8,251.2 472.2,249.0 472.6,251.6 473.0,248.4 473.4,251.4 473.8,247.7 474.2,251.1 474.6,247.3 475.0,250.9 475.4,228.0 475.8,198.3 475.9,190.1 476.2,196.3 476.6,202.0 477.0,208.6 477.4,212.8 477.8,217.9 478.2,221.2 478.6,225.3 479.0,227.7 479.4,231.1 479.8,232.8 480.2,235.5 480.6,236.9 481.0,239.1 481.4,239.8 481.8,241.8 482.2,242.2 482.6,243.9 483.0,244.1 483.4,245.5 483.8,245.6 484.2,246.9 484.6,246.8 485.0,248.1 485.4,247.8 485.8,248.7 486.2,248.5 486.6,249.2 487.0,248.5 487.4,249.9 487.8,248.2 488.2,250.3 488.6,248.2 489.0,250.6 489.4,247.1 489.8,250.8 490.2,247.4 490.6,251.0 491.0,246.7 491.4,251.1 491.8,246.4 492.2,251.2 492.6,248.2 493.0,251.3 493.4,246.7 493.8,251.4 494.2,247.0 494.6,250.6 495.0,247.9 495.4,251.2 495.8,248.1 496.2,250.9 496.6,247.7 497.0,251.0 497.4,247.9 497.8,251.5 498.2,248.8 498.6,251.3 499.0,247.3 499.4,251.3 499.8,247.4 500.2,251.6 500.6,248.4 501.0,251.3 501.4,243.1 501.8,228.4 502.0,220.1 502.2,224.5 502.6,229.7 503.0,235.1 503.4,237.9 503.8,241.6 504.2,243.0 504.6,245.5 505.0,246.0 505.4,247.7 505.8,248.0 506.2,249.2 506.6,247.6 507.0,250.3 507.4,248.3 507.8,250.8 508.2,248.6 508.6,250.7 509.0,248.3 509.4,251.0 509.8,248.2 510.2,251.1 510.6,245.8 511.0,251.5 511.4,246.0 511.8,251.1 512.2,245.8 512.6,250.9 513.0,247.6 513.4,250.7 513.8,246.9 514.2,251.6 514.6,248.3 515.0,251.1 515.4,247.1 515.8,251.3 516.2,247.9 516.6,251.3 517.0,247.5 517.4,250.8 517.8,248.3 518.2,250.8 518.6,246.2 519.0,251.5 519.4,246.0 519.8,250.9 520.2,246.2 520.6,251.3 521.0,247.6 521.4,251.2 521.8,246.0 522.2,251.0 522.6,247.6 523.0,251.2 523.4,247.8 523.8,251.6 524.2,248.3 524.6,250.8 525.0,247.8 525.4,250.7 525.8,247.9 526.2,251.3 526.6,247.2 527.0,251.4 527.4,247.6 527.8,250.6 528.2,246.3 528.6,250.8 529.0,247.1 529.4,250.7 529.8,246.4 530.2,251.1 530.6,247.0 531.0,251.6 531.4,247.0 531.8,251.1 532.2,247.0 532.6,251.0 533.0,248.0 533.4,251.6 533.8,246.5 534.2,251.5 534.6,247.5 535.0,251.3 535.4,247.8 535.8,250.9 536.2,243.9 536.6,235.6 536.7,232.5 537.0,237.3 537.4,240.5 537.8,244.2 538.2,245.5 538.6,247.8 539.0,248.0 539.4,249.7 539.8,248.0 540.2,250.6 540.6,247.5 541.0,250.6 541.4,248.5 541.8,251.3 542.2,249.0 542.6,251.5 543.0,248.6 543.4,251.5 543.8,248.7 544.2,251.3 544.6,247.9 545.0,250.7 545.4,247.4 545.8,251.2 546.2,248.0 546.6,251.1 547.0,248.0 547.4,251.3 547.8,248.7 548.2,251.3 548.6,246.5 549.0,251.5 549.4,247.4 549.8,251.0 550.2,246.4 550.6,224.7 551.0,197.0 551.4,205.5 551.8,211.2 552.2,217.6 552.6,221.7 553.0,226.5 553.4,229.4 553.8,233.3 554.2,235.1 554.6,237.9 555.0,239.2 555.4,241.6 555.8,242.2 556.2,244.3 556.6,244.5 557.0,246.0 557.4,246.1 557.8,247.4 558.2,247.1 558.6,248.6 559.0,248.2 559.4,249.4 559.8,247.3 560.2,250.0 560.6,246.0 561.0,250.5 561.4,246.6 561.8,250.8 562.2,247.1 562.6,251.0 563.0,248.2 563.4,250.8 563.8,247.7 564.2,250.7 564.6,246.6 565.0,248.4 565.4,243.5 565.5,243.3 565.8,244.3 566.2,246.8 566.6,247.4 567.0,249.2 567.4,247.0 567.8,250.4 568.2,247.5 568.6,251.0 569.0,247.1 569.4,251.3 569.8,248.0 570.2,251.1 570.6,246.8 571.0,251.0 571.4,247.1 571.8,251.1 572.2,248.5 572.6,251.4 573.0,246.9 573.4,250.9 573.8,248.3 574.2,251.6 574.6,247.9 575.0,250.9 575.4,248.1 575.8,251.3 576.2,247.6 576.6,250.7 577.0,248.6 577.4,251.6 577.8,248.3 578.2,251.2 578.6,247.5 579.0,251.4 579.4,247.3 579.8,250.9 580.2,247.8 580.6,251.4 581.0,246.8 581.4,251.3 581.8,247.1 582.2,251.4 582.6,248.4 583.0,250.8 583.4,248.3 583.8,250.6 584.2,247.9 584.6,251.4 585.0,248.5 585.4,251.2 585.8,247.6 586.2,250.7 586.6,248.7 587.0,251.2 587.4,248.5 587.8,250.6 588.2,248.5 588.6,251.5 589.0,248.5 589.4,251.2 589.8,246.2 590.2,250.7 590.6,246.3 591.0,250.6 591.4,245.6 591.8,251.3 592.2,247.7 592.6,250.7 593.0,246.3 593.4,251.6 593.8,246.8 594.2,251.2 594.6,247.8 595.0,251.3 595.4,248.5 595.8,251.6 596.2,248.4 596.6,251.2 597.0,247.0 597.4,251.5 597.8,247.0 598.2,251.4 598.6,248.4 599.0,250.8 599.4,247.7 599.8,251.2 600.2,249.3 600.6,251.1 601.0,247.3 601.4,241.0 601.6,237.1 601.8,239.8 602.2,242.3 602.6,245.6 603.0,246.4 603.4,248.3 603.8,248.1 604.2,250.0 604.6,249.4 605.0,250.8 605.4,247.7 605.8,251.2 606.2,248.0 606.6,250.7 607.0,248.8 607.4,251.3 607.8,247.5 608.2,251.0 608.6,248.6 609.0,250.9 609.4,248.3 609.8,251.3 610.2,248.7 610.6,250.8 611.0,246.4 611.4,251.0 611.8,246.2 612.2,251.6 612.6,248.0 613.0,251.1 613.4,246.0 613.8,250.6 614.2,247.4 614.6,251.3 615.0,247.1 615.4,251.1 615.8,245.7 616.2,251.4 616.6,246.0 617.0,250.9 617.4,245.9 617.8,250.8 618.2,246.7 618.6,251.3 619.0,247.6 619.4,251.2 619.8,246.7 620.2,251.5 620.6,248.3 621.0,250.8 621.4,248.3 621.8,251.5 622.2,248.8 622.6,251.0 623.0,248.1 623.4,242.6 623.8,224.7 624.0,216.6 624.2,218.8 624.6,224.6 625.0,227.8 625.4,232.1 625.8,234.3 626.2,237.6 626.6,239.0 627.0,241.5 627.4,242.3 627.8,244.3 628.2,244.7 628.6,246.2 629.0,246.4 629.4,247.9 629.8,246.9 630.2,248.9 630.6,247.5 631.0,249.7 631.4,247.1 631.8,245.1 632.2,235.6 632.3,234.2 632.6,237.2 633.0,241.7 633.4,243.8 633.8,246.5 634.2,247.1 634.6,248.8 635.0,247.4 635.4,250.3 635.8,246.5 636.2,250.9 636.6,220.7 637.0,191.6 637.4,199.3 637.8,207.2 638.2,212.9 638.6,218.9 639.0,222.9 639.4,227.7 639.8,230.3 640.2,234.0 640.6,235.7 641.0,238.5 641.4,239.7 641.8,242.0 642.2,233.7 642.4,228.9 642.6,230.9 643.0,236.2 643.4,239.1 643.8,242.7 644.2,243.9 644.6,246.2" fill="none" stroke="#f6882b" stroke-width="1.6" stroke-linejoin="round"/>
<polyline points="301.8,312.1 302.2,314.2 302.6,311.3 303.0,314.3 303.4,311.9 303.8,314.2 304.2,312.4 304.6,314.3 305.0,311.6 305.4,314.0 305.8,312.5 306.2,314.5 306.6,312.5 307.0,314.0 307.4,311.4 307.8,314.8 308.2,310.8 308.6,313.8 309.0,311.3 309.4,314.2 309.8,312.1 310.2,314.8 310.6,311.3 311.0,314.7 311.4,311.9 311.8,314.6 312.2,312.2 312.6,303.5 313.0,280.3 313.2,269.7 313.4,273.4 313.8,281.4 314.2,286.7 314.6,292.4 315.0,295.7 315.4,299.8 315.8,301.7 316.2,304.5 316.6,305.7 317.0,307.9 317.4,308.4 317.8,310.2 318.2,310.2 318.6,311.8 319.0,310.6 319.4,312.7 319.8,310.7 320.2,313.4 320.6,310.8 321.0,313.9 321.4,312.6 321.8,314.2 322.2,311.0 322.6,314.3 323.0,310.9 323.4,314.4 323.8,312.5 324.2,314.2 324.6,311.3 325.0,314.5 325.4,312.5 325.8,314.5 326.2,311.0 326.6,314.0 327.0,312.5 327.4,314.6 327.8,312.5 328.2,314.7 328.6,311.2 329.0,314.6 329.4,311.6 329.8,314.4 330.2,312.2 330.6,314.1 331.0,312.3 331.4,314.2 331.8,312.3 332.2,314.4 332.6,312.1 333.0,314.5 333.4,310.4 333.8,314.0 334.2,311.5 334.6,313.9 335.0,311.5 335.4,314.4 335.8,309.8 336.2,314.2 336.6,311.6 337.0,313.8 337.4,311.3 337.8,314.5 338.2,310.2 338.6,314.5 339.0,311.5 339.4,314.7 339.8,312.2 340.2,314.2 340.6,297.2 341.0,275.4 341.1,269.1 341.4,276.1 341.8,282.3 342.2,288.8 342.6,292.7 343.0,297.2 343.4,299.8 343.8,303.1 344.2,304.4 344.6,306.8 345.0,307.5 345.4,309.5 345.8,309.6 346.2,311.0 346.6,311.0 347.0,312.2 347.4,309.7 347.8,313.2 348.2,310.8 348.6,313.7 349.0,311.8 349.4,313.8 349.8,311.3 350.2,314.1 350.6,311.3 351.0,314.0 351.4,310.6 351.8,314.5 352.2,311.5 352.6,314.1 353.0,311.9 353.4,314.6 353.8,311.0 354.2,313.9 354.6,311.1 355.0,314.5 355.4,310.8 355.8,314.6 356.2,312.6 356.6,314.5 357.0,311.8 357.4,314.7 357.8,312.3 358.2,314.4 358.6,311.4 359.0,314.7 359.4,311.6 359.8,313.9 360.2,310.2 360.6,314.1 361.0,310.6 361.4,314.2 361.8,307.5 362.2,282.6 362.5,262.5 362.6,265.3 363.0,272.9 363.4,280.3 363.8,285.5 364.2,290.8 364.6,294.1 365.0,298.1 365.4,300.1 365.8,303.0 366.2,304.4 366.6,306.6 367.0,307.2 367.4,309.0 367.8,309.3 368.2,310.7 368.6,310.6 369.0,311.8 369.4,311.5 369.8,312.9 370.2,310.4 370.6,313.5 371.0,311.4 371.4,313.9 371.8,310.5 372.2,314.2 372.6,310.9 373.0,314.4 373.4,310.8 373.8,314.2 374.2,311.7 374.6,314.2 375.0,309.2 375.4,313.9 375.8,309.7 376.2,314.4 376.6,309.5 377.0,314.2 377.4,310.4 377.8,314.0 378.2,311.5 378.6,314.0 379.0,311.9 379.4,314.2 379.8,311.3 380.2,314.6 380.6,311.2 381.0,314.3 381.4,311.6 381.8,313.9 382.2,312.3 382.6,314.8 383.0,312.2 383.4,314.1 383.8,312.4 384.2,314.6 384.6,311.2 385.0,314.1 385.4,312.0 385.8,313.9 386.2,312.3 386.6,314.1 387.0,312.5 387.4,314.4 387.8,311.3 388.2,313.9 388.6,310.7 389.0,314.4 389.4,310.9 389.8,314.5 390.2,311.5 390.6,314.3 391.0,309.5 391.4,314.0 391.8,309.7 392.2,313.8 392.6,310.9 393.0,314.6 393.4,310.6 393.8,314.5 394.2,311.4 394.6,314.4 395.0,310.7 395.4,314.3 395.8,311.6 396.2,314.0 396.6,310.3 397.0,314.3 397.4,312.1 397.8,314.8 398.2,310.6 398.6,314.8 399.0,311.0 399.4,314.2 399.8,311.9 400.2,314.0 400.6,312.5 401.0,314.7 401.4,311.7 401.8,314.8 402.2,311.0 402.6,314.6 403.0,312.3 403.4,314.8 403.8,311.3 404.2,314.4 404.6,311.2 405.0,314.1 405.4,310.8 405.8,313.8 406.2,311.0 406.6,314.6 407.0,311.4 407.4,314.6 407.8,312.4 408.2,314.3 408.6,311.0 409.0,314.6 409.4,311.8 409.8,314.5 410.2,311.0 410.6,314.3 411.0,311.1 411.4,314.0 411.8,311.5 412.2,314.0 412.6,310.4 413.0,314.7 413.4,310.1 413.8,312.2 414.2,302.2 414.5,295.9 414.6,296.6 415.0,302.1 415.4,305.0 415.8,308.3 416.2,309.3 416.6,311.3 417.0,309.1 417.4,313.1 417.8,310.0 418.2,313.9 418.6,310.1 419.0,314.0 419.4,310.7 419.8,314.1 420.2,311.9 420.6,313.9 421.0,310.6 421.4,313.8 421.8,311.6 422.2,314.0 422.6,311.9 423.0,313.9 423.4,311.0 423.8,314.5 424.2,312.4 424.6,314.4 425.0,311.5 425.4,314.0 425.8,311.6 426.2,314.8 426.6,296.4 427.0,273.8 427.1,267.1 427.4,274.5 427.8,280.9 428.2,287.6 428.6,291.9 429.0,296.7 429.4,299.1 429.8,302.5 430.2,304.0 430.6,306.5 431.0,307.2 431.4,309.2 431.8,309.4 432.2,311.1 432.6,310.9 433.0,312.2 433.4,311.4 433.8,313.2 434.2,310.6 434.6,313.7 435.0,310.2 435.4,314.1 435.8,311.4 436.2,314.3 436.6,310.2 437.0,313.9 437.4,311.6 437.8,313.9 438.2,309.8 438.6,314.3 439.0,310.5 439.4,314.6 439.8,310.4 440.2,314.3 440.6,310.1 441.0,314.8 441.4,309.0 441.8,314.3 442.2,310.5 442.6,314.0 443.0,310.1 443.4,314.3 443.8,309.8 444.2,314.7 444.6,310.3 445.0,314.4 445.4,309.2 445.8,313.9 446.2,311.0 446.6,314.3 447.0,311.4 447.4,314.4 447.8,309.8 448.2,313.9 448.6,310.8 449.0,314.5 449.4,311.6 449.8,314.2 450.2,310.2 450.6,314.7 451.0,310.7 451.4,314.8 451.8,312.0 452.2,314.6 452.6,311.0 453.0,314.5 453.4,311.7 453.8,314.2 454.2,312.2 454.6,314.1 455.0,312.3 455.4,314.3 455.8,312.1 456.2,314.6 456.6,311.6 457.0,314.4 457.4,311.8 457.8,314.4 458.2,311.4 458.6,314.6 459.0,311.8 459.4,314.2 459.8,310.5 460.2,314.3 460.6,309.8 461.0,314.2 461.4,309.6 461.8,314.6 462.2,309.8 462.6,314.0 463.0,309.4 463.4,314.5 463.8,310.8 464.2,313.9 464.6,311.0 465.0,313.8 465.4,309.2 465.8,314.7 466.2,310.9 466.6,314.1 467.0,309.4 467.4,292.1 467.7,277.6 467.8,280.3 468.2,286.4 468.6,292.7 469.0,296.3 469.4,300.5 469.8,302.7 470.2,305.7 470.6,306.7 471.0,308.7 471.4,309.3 471.8,311.0 472.2,311.0 472.6,312.2 473.0,311.8 473.4,313.3 473.8,312.1 474.2,313.8 474.6,312.0 475.0,314.2 475.4,310.8 475.8,314.3 476.2,310.5 476.6,314.5 477.0,311.4 477.4,314.6 477.8,309.8 478.2,313.8 478.6,309.5 479.0,314.7 479.4,311.6 479.8,313.8 480.2,310.5 480.6,314.0 481.0,310.9 481.4,314.3 481.8,293.0 482.2,273.0 482.6,279.8 483.0,286.8 483.4,291.0 483.8,295.8 484.2,298.6 484.6,302.1 485.0,303.6 485.4,306.3 485.8,307.0 486.2,309.1 486.6,309.3 487.0,311.0 487.4,309.9 487.8,312.0 488.2,310.5 488.6,313.1 489.0,310.8 489.4,313.7 489.8,311.1 490.2,314.0 490.6,310.6 491.0,314.0 491.4,312.0 491.8,313.9 492.2,311.1 492.6,314.0 493.0,310.8 493.4,314.4 493.8,310.4 494.2,313.9 494.6,310.5 495.0,314.0 495.4,310.1 495.8,314.4 496.2,310.0 496.6,314.7 497.0,310.9 497.4,314.3 497.8,311.8 498.2,314.4 498.6,310.2 499.0,314.2 499.4,311.2 499.8,313.9 500.2,310.2 500.6,314.5 501.0,310.3 501.4,314.2 501.8,310.6 502.2,314.4 502.6,309.5 503.0,314.2 503.4,307.0 503.8,300.7 504.2,304.6 504.6,308.5 505.0,309.7 505.4,311.8 505.8,312.0 506.2,313.5 506.6,312.5 507.0,314.2 507.4,311.8 507.8,314.5 508.2,312.0 508.6,313.9 509.0,308.0 509.4,285.1 509.7,266.6 509.8,269.6 510.2,277.1 510.6,284.4 511.0,289.2 511.4,294.6 511.8,297.3 512.2,301.0 512.6,302.8 513.0,305.4 513.4,306.5 513.8,308.6 514.2,308.9 514.6,310.6 515.0,310.6 515.4,312.0 515.8,310.7 516.2,313.0 516.6,311.5 517.0,313.6 517.4,311.9 517.8,314.0 518.2,311.4 518.6,314.2 519.0,312.1 519.4,314.1 519.8,312.2 520.2,314.6 520.6,312.3 521.0,314.6 521.4,312.5 521.8,314.0 522.2,312.1 522.6,313.9 523.0,311.4 523.4,314.7 523.8,310.9 524.2,313.9 524.6,312.4 525.0,313.9 525.4,311.6 525.8,314.3 526.2,310.5 526.6,314.6 527.0,311.3 527.4,313.9 527.8,310.9 528.2,314.3 528.6,310.4 529.0,314.0 529.4,311.2 529.8,314.7 530.2,311.1 530.6,314.3 531.0,312.0 531.4,306.1 531.8,287.8 532.0,280.0 532.2,283.2 532.6,290.7 533.0,295.3 533.4,300.2 533.8,302.6 534.2,305.9 534.6,307.0 535.0,309.3 535.4,309.7 535.8,311.3 536.2,310.8 536.6,312.8 537.0,312.1 537.4,313.6 537.8,310.6 538.2,314.1 538.6,311.4 539.0,314.4 539.4,310.6 539.8,310.6 540.2,293.9 540.5,282.6 540.6,283.8 541.0,291.3 541.4,295.7 541.8,300.3 542.2,302.8 542.6,305.9 543.0,307.2 543.4,309.6 543.8,309.8 544.2,311.5 544.6,310.3 545.0,312.9 545.4,310.4 545.8,313.6 546.2,311.5 546.6,314.1 547.0,310.3 547.4,314.2 547.8,310.8 548.2,314.3 548.6,311.1 549.0,314.5 549.4,309.7 549.8,314.0 550.2,311.4 550.6,314.7 551.0,309.4 551.4,314.2 551.8,309.5 552.2,314.6 552.6,310.4 553.0,314.5 553.4,309.4 553.8,314.4 554.2,309.8 554.6,313.8 555.0,310.7 555.4,314.3 555.8,309.5 556.2,313.9 556.6,310.4 557.0,314.4 557.4,311.3 557.8,313.9 558.2,311.3 558.6,314.7 559.0,310.0 559.4,314.3 559.8,309.7 560.2,314.5 560.6,309.4 561.0,314.7 561.4,310.9 561.8,314.1 562.2,311.3 562.6,313.6 563.0,307.8 563.3,304.8 563.4,305.0 563.8,308.8 564.2,309.9 564.6,311.9 565.0,310.8 565.4,313.6 565.8,310.0 566.2,309.1 566.6,286.5 566.9,270.6 567.0,272.1 567.4,280.5 567.8,285.9 568.2,291.8 568.6,295.1 569.0,299.3 569.4,301.3 569.8,304.2 570.2,305.5 570.6,307.8 571.0,308.2 571.4,310.1 571.8,310.1 572.2,311.6 572.6,311.4 573.0,312.6 573.4,310.9 573.8,313.4 574.2,310.9 574.6,313.9 575.0,312.2 575.4,314.0 575.8,311.0 576.2,314.4 576.6,312.5 577.0,314.3 577.4,311.6 577.8,314.2 578.2,310.6 578.6,314.1 579.0,310.7 579.4,314.7 579.8,311.0 580.2,314.0 580.6,311.9 581.0,314.7 581.4,310.3 581.8,313.9 582.2,311.8 582.6,314.2 583.0,311.7 583.4,314.1 583.8,310.6 584.2,314.6 584.6,311.6 585.0,314.0 585.4,310.9 585.8,314.0 586.2,311.2 586.6,314.5 587.0,310.0 587.4,314.1 587.8,311.0 588.2,314.3 588.6,310.4 589.0,314.1 589.4,309.9 589.8,314.4 590.2,310.1 590.6,314.1 591.0,309.9 591.4,314.0 591.8,310.0 592.2,313.9 592.6,309.8 593.0,314.2 593.4,311.0 593.8,314.1 594.2,310.6 594.6,314.4 595.0,311.7 595.4,314.7 595.8,311.3 596.2,313.8 596.6,312.0 597.0,299.7 597.4,269.0 597.6,254.6 597.8,259.1 598.2,268.8 598.6,276.0 599.0,282.9 599.4,287.6 599.8,292.5 600.2,295.5 600.6,299.4 601.0,301.3 601.4,304.0 601.8,305.0 602.2,307.1 602.6,307.9 603.0,309.6 603.4,309.6 603.8,311.1 604.2,310.9 604.6,312.1 605.0,310.5 605.4,313.1 605.8,311.2 606.2,313.6 606.6,311.2 607.0,314.0 607.4,310.8 607.8,314.2 608.2,309.6 608.6,314.3 609.0,311.1 609.4,313.9 609.8,309.7 610.2,314.5 610.6,310.7 611.0,313.8 611.4,310.9 611.8,314.6 612.2,311.9 612.6,313.9 613.0,310.2 613.4,314.4 613.8,310.8 614.2,314.3 614.6,311.3 615.0,313.8 615.4,310.4 615.8,314.6 616.2,311.9 616.6,314.3 617.0,311.0 617.4,297.0 617.8,273.0 617.9,267.8 618.2,273.6 618.6,281.8 619.0,286.9 619.4,292.6 619.8,295.8 620.2,299.8 620.6,301.8 621.0,304.6 621.4,305.9 621.8,308.0 622.2,308.6 622.6,310.1 623.0,310.5 623.4,311.6 623.8,311.0 624.2,312.5 624.6,312.3 625.0,313.5 625.4,310.9 625.8,313.9 626.2,311.3 626.6,314.2 627.0,310.3 627.4,314.2 627.8,310.4 628.2,314.5 628.6,310.4 629.0,314.4 629.4,309.8 629.8,314.7 630.2,309.7 630.6,314.6 631.0,310.3 631.4,314.3 631.8,311.2 632.2,314.0 632.6,310.8 633.0,314.5 633.4,311.5 633.8,314.5 634.2,310.6 634.6,314.1 635.0,311.0 635.4,314.1 635.8,311.7 636.2,314.4 636.6,310.9 637.0,313.8 637.4,310.0 637.8,314.1 638.2,311.9 638.6,314.4 639.0,310.0 639.4,314.6 639.8,310.2 640.2,314.3 640.6,311.5 641.0,313.8 641.4,309.4 641.8,314.6 642.2,309.9 642.6,314.5 643.0,310.7 643.4,314.3 643.8,311.2 644.2,314.5 644.6,311.3" fill="none" stroke="#2fa44a" stroke-width="1.6" stroke-linejoin="round"/>
<path d="M143.1,70.9 L142.9,70.0 L142.6,68.8 L142.3,67.4 L141.9,65.9 L141.4,64.3 L141.0,62.5 L140.6,60.8 L140.1,59.1 L139.8,57.5 L139.5,56.1 L139.3,54.8 L139.0,52.9 L139.0,51.4 L139.0,50.0 L139.0,48.5 L139.1,46.9 L139.0,45.0 L138.9,43.6 L138.8,42.1 L138.7,40.6 L138.5,39.0 L138.4,37.3 L138.2,35.7 L138.1,34.1 L138.0,32.6 L137.8,31.2 L137.8,30.0 L137.6,27.8 L137.6,25.9 L137.6,24.2 L137.6,22.9 L137.6,21.9 L136.2,21.9 L136.2,22.9 L136.1,24.2 L136.1,25.9 L136.0,27.8 L136.0,30.0 L136.1,31.3 L136.1,32.7 L136.2,34.2 L136.2,35.8 L136.3,37.5 L136.4,39.1 L136.4,40.7 L136.5,42.3 L136.5,43.7 L136.6,45.0 L136.5,46.9 L136.4,48.4 L136.3,49.8 L136.2,51.4 L136.2,53.1 L136.3,55.2 L136.5,56.6 L136.8,58.1 L137.0,59.8 L137.4,61.5 L137.7,63.3 L138.1,65.0 L138.4,66.7 L138.8,68.3 L139.0,69.7 L139.3,70.8 L139.5,71.7Z" fill="#c2c3c5"/>
<path d="M138.3,37.6 L137.8,36.7 L137.1,35.3 L136.3,33.8 L135.4,32.1 L134.5,30.4 L133.7,28.9 L133.0,27.7 L131.8,25.8 L131.0,24.5 L130.4,23.7 L129.6,24.3 L130.1,25.1 L130.9,26.4 L132.0,28.3 L132.6,29.5 L133.3,31.0 L134.1,32.7 L134.9,34.4 L135.6,36.1 L136.3,37.4 L136.7,38.4Z" fill="#c2c3c5"/>
<path d="M142.6,70.2 L142.1,69.5 L141.4,68.7 L140.6,67.8 L139.7,66.7 L138.7,65.6 L137.6,64.3 L136.5,63.0 L135.3,61.7 L134.2,60.3 L133.0,59.0 L131.8,57.6 L130.6,56.2 L129.5,54.9 L128.4,53.7 L127.4,52.5 L126.5,51.4 L125.6,50.4 L124.2,48.8 L123.0,47.3 L121.9,46.0 L120.9,44.7 L119.9,43.5 L118.9,42.4 L117.9,41.3 L116.8,40.2 L115.6,39.1 L114.2,38.1 L112.7,37.0 L111.1,36.0 L109.5,35.0 L107.9,34.1 L106.4,33.3 L105.0,32.5 L103.9,31.9 L103.1,31.4 L102.5,32.4 L103.3,32.9 L104.4,33.6 L105.7,34.4 L107.2,35.3 L108.7,36.2 L110.3,37.3 L111.8,38.3 L113.2,39.4 L114.4,40.5 L115.5,41.5 L116.5,42.6 L117.4,43.7 L118.3,44.8 L119.2,46.0 L120.2,47.3 L121.3,48.7 L122.4,50.3 L123.8,52.0 L124.6,53.0 L125.5,54.1 L126.4,55.3 L127.5,56.6 L128.5,57.9 L129.6,59.3 L130.8,60.8 L131.9,62.2 L133.0,63.6 L134.1,65.0 L135.2,66.3 L136.2,67.6 L137.1,68.8 L138.0,69.9 L138.8,70.9 L139.4,71.7 L140.0,72.4Z" fill="#c2c3c5"/>
<path d="M115.7,39.5 L115.1,38.2 L114.3,36.3 L113.4,34.3 L112.4,32.7 L110.9,31.2 L109.3,30.3 L108.2,29.7 L107.8,30.3 L108.9,31.0 L110.3,32.0 L111.6,33.3 L112.4,34.8 L113.2,36.8 L113.8,38.7 L114.3,40.1Z" fill="#c2c3c5"/>
<path d="M141.9,70.0 L141.1,69.6 L140.1,69.2 L138.9,68.7 L137.6,68.2 L136.2,67.6 L134.7,66.9 L133.1,66.2 L131.4,65.5 L129.8,64.9 L128.1,64.2 L126.5,63.5 L124.9,62.9 L123.4,62.4 L121.9,61.9 L120.6,61.5 L118.8,61.0 L117.1,60.6 L115.4,60.3 L113.9,60.1 L112.4,59.9 L110.9,59.8 L109.4,59.7 L108.0,59.6 L106.6,59.4 L105.1,59.2 L103.4,58.9 L101.6,58.6 L99.7,58.3 L97.8,58.0 L96.0,57.7 L94.3,57.4 L92.8,57.1 L91.6,56.9 L90.6,56.7 L90.4,57.9 L91.4,58.1 L92.6,58.3 L94.1,58.6 L95.8,59.0 L97.6,59.3 L99.4,59.7 L101.3,60.1 L103.1,60.5 L104.9,60.8 L106.4,61.1 L107.8,61.3 L109.3,61.4 L110.7,61.6 L112.1,61.8 L113.6,62.0 L115.1,62.3 L116.7,62.6 L118.3,63.0 L120.0,63.5 L121.2,64.0 L122.6,64.5 L124.1,65.1 L125.6,65.7 L127.2,66.4 L128.8,67.1 L130.4,67.9 L132.0,68.6 L133.6,69.3 L135.1,70.0 L136.5,70.7 L137.8,71.3 L138.9,71.8 L139.9,72.3 L140.7,72.6Z" fill="#c2c3c5"/>
<path d="M142.3,72.4 L143.0,71.7 L143.8,70.9 L144.9,69.8 L146.1,68.7 L147.3,67.5 L148.5,66.2 L149.8,65.0 L150.9,63.9 L151.9,62.7 L153.0,61.6 L154.1,60.4 L155.2,59.2 L156.3,58.0 L157.3,56.8 L158.2,55.7 L159.1,54.6 L160.2,53.0 L161.2,51.5 L162.0,50.1 L162.8,48.8 L163.6,47.5 L164.7,46.2 L165.8,44.9 L167.0,43.6 L168.1,42.6 L169.0,41.9 L170.8,41.5 L172.7,41.7 L174.0,41.9 L174.2,40.7 L172.8,40.5 L170.8,40.2 L168.6,40.7 L167.2,41.5 L166.0,42.6 L164.7,43.8 L163.5,45.2 L162.4,46.5 L161.3,47.8 L160.5,49.1 L159.6,50.5 L158.7,51.9 L157.5,53.4 L156.7,54.4 L155.7,55.4 L154.7,56.5 L153.6,57.7 L152.5,58.8 L151.4,59.9 L150.2,61.1 L149.1,62.1 L148.0,63.2 L146.8,64.4 L145.5,65.6 L144.2,66.7 L143.0,67.8 L141.9,68.8 L141.0,69.6 L140.3,70.2Z" fill="#c2c3c5"/>
<path d="M159.2,53.8 L160.4,53.4 L162.1,52.9 L164.1,52.5 L165.5,52.4 L167.2,52.3 L168.9,52.3 L170.4,52.3 L171.5,52.3 L171.5,51.3 L170.5,51.3 L168.9,51.2 L167.2,51.1 L165.4,51.1 L163.9,51.1 L161.8,51.4 L160.0,51.8 L158.8,52.2Z" fill="#c2c3c5"/>
<path d="M141.5,72.6 L142.4,72.4 L143.6,72.2 L144.9,71.9 L146.4,71.6 L148.1,71.3 L149.8,70.9 L151.6,70.6 L153.4,70.2 L155.2,69.8 L156.9,69.4 L158.5,69.1 L159.9,68.7 L161.2,68.4 L163.3,67.8 L165.0,67.1 L166.5,66.4 L167.7,65.8 L168.9,65.2 L170.2,64.8 L171.7,64.4 L173.2,64.1 L174.8,63.9 L176.4,63.6 L178.0,63.3 L179.5,62.9 L181.3,62.1 L183.2,61.2 L184.9,60.2 L186.4,59.4 L187.4,58.8 L187.0,58.0 L185.9,58.5 L184.4,59.3 L182.7,60.2 L180.9,61.1 L179.1,61.7 L177.7,62.1 L176.2,62.3 L174.6,62.5 L173.0,62.7 L171.4,62.9 L169.8,63.2 L168.3,63.7 L167.0,64.3 L165.7,64.8 L164.4,65.4 L162.7,66.0 L160.6,66.6 L159.5,66.8 L158.1,67.1 L156.5,67.4 L154.8,67.7 L153.0,68.0 L151.2,68.3 L149.4,68.6 L147.7,68.9 L146.0,69.2 L144.5,69.5 L143.1,69.7 L142.0,69.9 L141.1,70.0Z" fill="#c2c3c5"/>
<path d="M140.9,72.6 L141.9,72.8 L143.3,73.2 L144.9,73.6 L146.7,74.1 L148.5,74.7 L150.4,75.2 L152.3,75.6 L154.0,76.1 L155.5,76.4 L157.3,76.8 L159.0,77.1 L160.5,77.3 L162.0,77.5 L163.4,77.7 L164.9,77.9 L166.3,78.1 L167.6,78.4 L169.0,78.6 L170.5,78.8 L172.2,78.9 L174.1,78.8 L175.6,78.7 L177.2,78.4 L178.9,78.1 L180.8,77.8 L182.6,77.4 L184.4,77.0 L186.1,76.7 L187.7,76.3 L188.9,76.1 L189.9,75.9 L189.7,74.9 L188.7,75.1 L187.5,75.3 L185.9,75.6 L184.2,75.9 L182.4,76.2 L180.5,76.5 L178.7,76.8 L177.0,77.1 L175.4,77.3 L174.1,77.4 L172.2,77.4 L170.7,77.2 L169.3,77.0 L168.0,76.7 L166.6,76.4 L165.1,76.1 L163.6,75.9 L162.2,75.7 L160.8,75.4 L159.4,75.2 L157.8,74.8 L155.9,74.4 L154.5,74.0 L152.9,73.5 L151.1,73.0 L149.2,72.4 L147.3,71.8 L145.6,71.3 L144.0,70.8 L142.7,70.4 L141.7,70.0Z" fill="#c2c3c5"/>
<path d="M140.3,72.5 L141.0,73.1 L141.8,73.8 L142.8,74.7 L144.0,75.8 L145.2,76.9 L146.6,78.0 L148.1,79.2 L149.7,80.3 L151.3,81.3 L153.1,82.3 L154.8,83.0 L156.2,83.5 L157.7,83.9 L159.2,84.2 L160.8,84.5 L162.4,84.7 L164.1,84.9 L165.8,85.1 L167.5,85.2 L169.2,85.4 L170.8,85.5 L172.4,85.6 L173.9,85.8 L175.3,85.9 L176.6,86.1 L177.8,86.2 L179.9,86.6 L181.6,86.9 L183.2,87.1 L184.6,87.4 L185.9,87.7 L187.2,88.0 L188.5,88.3 L189.8,88.7 L191.4,89.2 L193.0,89.9 L194.7,90.6 L196.3,91.2 L197.7,91.9 L198.9,92.4 L199.8,92.8 L200.2,91.8 L199.4,91.4 L198.2,90.8 L196.8,90.1 L195.2,89.4 L193.6,88.6 L191.9,87.9 L190.2,87.3 L188.9,86.9 L187.6,86.5 L186.3,86.1 L185.0,85.8 L183.5,85.5 L182.0,85.1 L180.2,84.8 L178.2,84.4 L176.9,84.2 L175.6,84.0 L174.1,83.8 L172.6,83.6 L171.0,83.4 L169.4,83.2 L167.7,83.0 L166.1,82.8 L164.4,82.6 L162.8,82.3 L161.2,82.1 L159.7,81.7 L158.3,81.4 L157.0,81.0 L155.8,80.6 L154.2,79.9 L152.7,79.0 L151.3,78.0 L149.9,76.9 L148.5,75.8 L147.2,74.6 L146.0,73.5 L144.9,72.5 L143.9,71.5 L143.0,70.7 L142.3,70.1Z" fill="#c2c3c5"/>
<path d="M139.8,70.4 L139.3,71.2 L138.7,72.3 L138.1,73.5 L137.4,74.9 L136.6,76.3 L135.7,77.8 L134.8,79.2 L133.8,80.4 L132.8,81.4 L131.7,82.2 L130.7,82.8 L129.4,83.2 L127.9,83.6 L126.3,83.8 L124.6,84.1 L122.9,84.2 L121.1,84.4 L119.4,84.7 L117.7,85.0 L116.1,85.4 L114.6,86.0 L113.0,86.8 L111.5,87.6 L110.2,88.6 L109.0,89.6 L107.8,90.6 L106.7,91.7 L105.6,92.9 L104.5,94.1 L103.3,95.4 L102.4,96.6 L101.3,97.9 L100.3,99.4 L99.3,100.9 L98.2,102.4 L97.2,103.9 L96.3,105.4 L95.5,106.7 L94.7,107.9 L94.0,108.9 L93.5,109.7 L94.5,110.3 L95.0,109.6 L95.7,108.6 L96.5,107.4 L97.4,106.1 L98.4,104.7 L99.4,103.2 L100.5,101.7 L101.6,100.3 L102.6,98.9 L103.7,97.7 L104.7,96.6 L105.8,95.4 L106.9,94.2 L108.0,93.1 L109.1,92.1 L110.3,91.1 L111.4,90.3 L112.7,89.4 L114.0,88.7 L115.4,88.0 L116.7,87.6 L118.1,87.3 L119.7,87.1 L121.4,86.9 L123.1,86.8 L124.9,86.7 L126.7,86.5 L128.4,86.3 L130.1,86.0 L131.7,85.5 L133.3,84.8 L134.7,83.7 L136.1,82.5 L137.3,81.0 L138.4,79.5 L139.4,78.0 L140.3,76.5 L141.1,75.1 L141.7,73.9 L142.3,72.9 L142.8,72.2Z" fill="#c2c3c5"/>
<path d="M115.2,86.2 L114.3,86.0 L113.1,85.7 L111.7,85.4 L110.1,85.0 L108.4,84.6 L106.7,84.3 L104.9,83.9 L103.2,83.6 L101.5,83.4 L100.0,83.4 L98.2,83.4 L96.4,83.6 L94.7,83.9 L92.9,84.3 L91.4,84.7 L90.0,85.0 L88.8,85.3 L87.9,85.5 L88.1,86.5 L89.0,86.3 L90.2,86.0 L91.6,85.7 L93.2,85.3 L94.9,85.0 L96.6,84.8 L98.3,84.6 L100.0,84.6 L101.4,84.8 L102.9,85.0 L104.6,85.3 L106.3,85.7 L108.1,86.1 L109.7,86.5 L111.3,87.0 L112.7,87.3 L113.9,87.6 L114.8,87.8Z" fill="#c2c3c5"/>
<path d="M103.3,95.6 L102.6,96.7 L101.7,98.2 L100.7,100.1 L99.8,102.0 L99.3,103.9 L99.4,105.8 L99.9,107.7 L100.6,109.6 L101.2,111.1 L101.6,112.2 L102.4,111.8 L102.1,110.7 L101.6,109.2 L101.0,107.4 L100.7,105.6 L100.7,104.1 L101.1,102.5 L102.0,100.8 L103.1,99.0 L104.1,97.5 L104.7,96.4Z" fill="#c2c3c5"/>
<path d="M119.7,61.3 L118.8,61.7 L117.6,62.2 L116.2,62.8 L114.6,63.5 L112.9,64.2 L111.3,64.9 L109.8,65.5 L108.3,66.1 L106.7,66.8 L105.0,67.5 L103.4,68.2 L102.0,68.8 L100.8,69.3 L99.9,69.6 L100.1,70.4 L101.0,70.0 L102.3,69.5 L103.7,69.0 L105.4,68.4 L107.0,67.7 L108.7,67.1 L110.2,66.5 L111.7,65.9 L113.4,65.3 L115.0,64.7 L116.7,64.0 L118.1,63.5 L119.4,63.0 L120.3,62.7Z" fill="#c2c3c5"/>
<circle cx="141.3" cy="71.3" r="5.0" fill="#c2c3c5"/>
<path d="M208.0,94.3 L208.5,93.4 L209.1,92.3 L209.8,91.0 L210.6,89.5 L211.4,87.9 L212.3,86.3 L213.2,84.7 L214.1,83.0 L215.0,81.5 L215.9,80.1 L216.8,78.9 L217.5,77.9 L218.7,76.6 L219.9,75.7 L221.0,74.9 L222.2,74.3 L223.4,73.8 L224.9,73.1 L226.4,72.4 L227.8,71.7 L229.2,71.1 L230.6,70.4 L232.2,69.7 L233.8,69.1 L235.3,68.4 L236.8,67.7 L238.3,67.1 L239.7,66.4 L241.3,65.5 L242.8,64.6 L244.2,63.6 L245.5,62.7 L246.8,61.9 L247.9,61.1 L249.0,60.5 L250.9,59.7 L252.8,59.2 L254.3,58.9 L255.4,58.6 L255.2,57.4 L254.0,57.6 L252.4,57.8 L250.5,58.3 L248.4,59.1 L247.1,59.7 L245.9,60.4 L244.6,61.2 L243.2,62.1 L241.8,63.0 L240.3,63.8 L238.7,64.6 L237.4,65.2 L236.0,65.8 L234.5,66.4 L232.9,67.0 L231.3,67.6 L229.7,68.2 L228.2,68.8 L226.7,69.4 L225.4,70.0 L223.8,70.7 L222.4,71.3 L221.0,71.8 L219.6,72.5 L218.2,73.3 L216.8,74.4 L215.3,75.9 L214.3,77.0 L213.4,78.3 L212.4,79.8 L211.3,81.3 L210.3,83.0 L209.3,84.6 L208.4,86.2 L207.5,87.8 L206.6,89.2 L205.9,90.5 L205.3,91.5 L204.8,92.3Z" fill="#c2c3c5"/>
<path d="M249.6,59.8 L249.5,58.7 L249.4,57.0 L249.3,55.1 L249.2,53.4 L249.2,52.3 L248.2,52.3 L248.2,53.4 L248.1,55.1 L248.0,57.0 L247.9,58.7 L247.8,59.8Z" fill="#c2c3c5"/>
<path d="M207.9,94.4 L208.5,93.6 L209.2,92.6 L210.1,91.4 L211.1,90.0 L212.1,88.5 L213.1,86.9 L214.0,85.4 L214.8,84.1 L215.6,82.8 L216.5,81.4 L217.4,80.0 L218.2,78.5 L218.9,76.8 L219.4,75.1 L219.7,73.3 L219.8,71.7 L219.5,70.1 L219.2,68.5 L218.7,66.9 L218.2,65.3 L217.7,63.7 L217.3,62.2 L216.9,60.8 L216.7,59.4 L216.7,58.1 L216.8,56.6 L217.1,55.1 L217.5,53.6 L218.0,52.1 L218.6,50.7 L219.2,49.2 L219.8,47.8 L220.4,46.4 L221.0,45.1 L221.8,43.6 L222.7,42.1 L223.6,40.7 L224.6,39.4 L225.4,38.1 L226.1,36.7 L226.6,35.3 L226.7,33.4 L226.2,31.5 L225.6,29.8 L224.9,28.4 L224.5,27.4 L223.5,27.8 L223.8,28.8 L224.4,30.2 L225.0,31.8 L225.3,33.5 L225.2,35.1 L224.8,36.1 L224.1,37.3 L223.3,38.5 L222.3,39.8 L221.3,41.2 L220.3,42.7 L219.4,44.3 L218.7,45.6 L218.1,47.0 L217.4,48.4 L216.7,49.9 L216.0,51.4 L215.4,53.0 L214.9,54.6 L214.6,56.2 L214.3,57.9 L214.3,59.5 L214.5,61.2 L214.8,62.8 L215.3,64.4 L215.7,66.0 L216.1,67.6 L216.5,69.1 L216.8,70.5 L216.9,71.8 L216.9,72.9 L216.6,74.4 L216.1,75.7 L215.4,77.1 L214.7,78.4 L213.8,79.7 L212.9,81.0 L212.0,82.3 L211.2,83.6 L210.2,85.0 L209.2,86.5 L208.2,87.9 L207.2,89.2 L206.3,90.4 L205.5,91.4 L204.9,92.2Z" fill="#c2c3c5"/>
<path d="M206.7,91.6 L205.5,91.4 L204.0,91.3 L202.2,91.2 L200.2,91.0 L198.4,90.7 L196.7,90.3 L195.5,89.8 L194.8,89.2 L194.4,88.5 L194.1,87.5 L194.1,86.2 L194.2,84.6 L194.4,82.8 L194.6,80.9 L194.8,78.9 L194.9,77.0 L195.0,75.6 L195.1,74.1 L195.2,72.6 L195.3,71.1 L195.5,69.5 L195.6,67.9 L195.8,66.3 L195.8,64.6 L195.8,63.0 L195.8,61.3 L195.6,59.7 L195.4,58.1 L195.0,56.4 L194.5,54.7 L194.0,53.1 L193.4,51.5 L192.9,49.9 L192.3,48.3 L191.8,46.8 L191.3,45.3 L190.9,43.9 L190.5,42.7 L190.2,40.7 L189.9,38.7 L189.7,36.9 L189.6,35.2 L189.6,33.6 L189.5,32.4 L189.5,31.4 L188.3,31.4 L188.4,32.4 L188.4,33.7 L188.4,35.2 L188.4,37.0 L188.6,38.9 L188.7,40.9 L189.1,42.9 L189.4,44.3 L189.8,45.8 L190.2,47.3 L190.7,48.8 L191.2,50.4 L191.7,52.0 L192.2,53.7 L192.7,55.3 L193.1,56.9 L193.4,58.4 L193.6,59.9 L193.7,61.4 L193.7,63.0 L193.6,64.5 L193.5,66.1 L193.3,67.7 L193.1,69.2 L192.9,70.8 L192.7,72.4 L192.5,73.9 L192.4,75.4 L192.3,76.8 L192.1,78.7 L191.9,80.6 L191.6,82.4 L191.3,84.3 L191.2,86.1 L191.2,87.9 L191.6,89.6 L192.4,91.2 L193.9,92.4 L195.7,93.3 L197.7,93.8 L199.8,94.2 L201.8,94.5 L203.6,94.7 L205.1,94.8 L206.1,95.0Z" fill="#c2c3c5"/>
<path d="M195.4,60.2 L195.9,59.2 L196.7,57.7 L197.6,55.9 L198.5,54.0 L199.4,52.2 L200.2,50.7 L200.7,49.6 L199.9,49.2 L199.3,50.2 L198.4,51.6 L197.4,53.4 L196.3,55.2 L195.3,56.9 L194.4,58.4 L193.8,59.4Z" fill="#c2c3c5"/>
<path d="M206.7,91.7 L205.8,91.6 L204.6,91.4 L203.3,91.1 L201.7,90.9 L200.1,90.6 L198.3,90.3 L196.5,90.0 L194.7,89.6 L193.0,89.3 L191.3,88.9 L189.8,88.5 L188.4,88.1 L186.8,87.5 L185.2,86.9 L183.7,86.2 L182.3,85.4 L180.9,84.7 L179.5,83.9 L178.1,83.1 L176.6,82.4 L175.1,81.7 L173.6,81.0 L172.1,80.4 L170.6,79.8 L169.0,79.2 L167.5,78.6 L166.0,78.0 L164.6,77.4 L163.1,76.8 L161.7,76.2 L160.1,75.5 L158.5,74.7 L156.8,73.9 L155.2,73.1 L153.6,72.4 L152.3,71.7 L151.1,71.1 L150.3,70.7 L149.7,71.7 L150.6,72.2 L151.7,72.8 L153.1,73.5 L154.6,74.3 L156.2,75.1 L157.8,76.0 L159.5,76.8 L161.1,77.6 L162.5,78.3 L163.9,78.9 L165.4,79.6 L166.8,80.2 L168.3,80.8 L169.8,81.5 L171.3,82.2 L172.8,82.8 L174.3,83.5 L175.7,84.3 L177.0,85.0 L178.4,85.8 L179.8,86.6 L181.2,87.5 L182.6,88.3 L184.2,89.1 L185.8,89.8 L187.6,90.5 L189.0,91.0 L190.7,91.5 L192.4,91.9 L194.1,92.3 L196.0,92.8 L197.8,93.1 L199.5,93.5 L201.2,93.8 L202.7,94.2 L204.1,94.4 L205.2,94.7 L206.1,94.9Z" fill="#c2c3c5"/>
<path d="M206.2,91.9 L205.2,92.1 L203.9,92.3 L202.3,92.6 L200.6,92.9 L198.7,93.2 L196.8,93.6 L194.9,94.0 L193.1,94.4 L191.4,94.8 L189.9,95.2 L188.4,95.6 L187.0,96.0 L185.6,96.5 L184.2,97.0 L182.8,97.4 L181.4,97.9 L179.9,98.4 L178.3,98.8 L176.8,99.2 L175.2,99.6 L173.5,100.1 L171.7,100.5 L169.9,100.9 L168.1,101.3 L166.4,101.7 L164.8,102.1 L163.4,102.4 L162.2,102.7 L161.3,102.9 L161.5,104.1 L162.5,103.9 L163.6,103.6 L165.1,103.4 L166.7,103.0 L168.4,102.7 L170.2,102.4 L172.0,102.0 L173.8,101.6 L175.6,101.3 L177.2,100.9 L178.7,100.6 L180.4,100.2 L181.9,99.8 L183.4,99.3 L184.9,98.9 L186.3,98.5 L187.6,98.1 L189.0,97.7 L190.5,97.4 L192.0,97.0 L193.6,96.7 L195.4,96.4 L197.3,96.1 L199.2,95.8 L201.0,95.5 L202.8,95.3 L204.3,95.1 L205.6,94.9 L206.6,94.7Z" fill="#c2c3c5"/>
<path d="M177.8,99.3 L177.2,100.2 L176.5,101.6 L175.6,103.2 L174.6,105.0 L173.7,106.6 L172.9,108.0 L172.4,109.0 L173.2,109.4 L173.8,108.5 L174.7,107.2 L175.7,105.6 L176.8,104.0 L177.8,102.4 L178.6,101.1 L179.2,100.1Z" fill="#c2c3c5"/>
<path d="M206.0,95.0 L206.9,95.2 L208.1,95.4 L209.5,95.8 L211.0,96.1 L212.7,96.5 L214.5,96.9 L216.3,97.3 L218.1,97.6 L219.8,97.9 L221.3,98.2 L222.7,98.4 L224.7,98.5 L226.4,98.5 L228.0,98.4 L229.4,98.2 L230.8,98.0 L232.1,97.8 L233.5,97.7 L235.1,97.6 L236.7,97.5 L238.2,97.3 L239.7,97.2 L241.0,97.3 L242.3,97.5 L243.6,98.0 L244.9,98.7 L246.2,99.6 L247.4,100.5 L248.7,101.5 L249.9,102.4 L251.5,103.5 L253.0,104.7 L254.5,105.8 L255.7,106.8 L256.6,107.5 L257.4,106.7 L256.5,105.9 L255.3,104.9 L253.9,103.7 L252.3,102.4 L250.9,101.2 L249.7,100.3 L248.4,99.2 L247.2,98.2 L245.8,97.2 L244.4,96.3 L242.9,95.7 L241.3,95.3 L239.7,95.2 L238.1,95.2 L236.5,95.3 L234.9,95.4 L233.3,95.5 L231.9,95.5 L230.5,95.6 L229.2,95.7 L227.8,95.8 L226.4,95.9 L224.8,95.8 L223.1,95.6 L221.8,95.4 L220.3,95.1 L218.7,94.7 L217.0,94.3 L215.2,93.9 L213.5,93.4 L211.8,93.0 L210.3,92.5 L208.9,92.2 L207.7,91.8 L206.8,91.6Z" fill="#c2c3c5"/>
<path d="M235.0,98.3 L235.3,99.3 L235.7,100.7 L236.2,102.4 L236.8,104.2 L237.3,105.9 L237.8,107.3 L238.4,109.2 L238.9,110.9 L239.6,112.6 L240.7,114.2 L242.2,115.2 L244.1,116.2 L246.1,116.9 L247.8,117.6 L248.9,118.0 L249.3,117.2 L248.1,116.7 L246.5,116.0 L244.6,115.1 L242.9,114.2 L241.7,113.2 L240.8,112.0 L240.3,110.5 L239.9,108.8 L239.4,106.9 L238.9,105.4 L238.5,103.7 L238.0,101.9 L237.6,100.2 L237.2,98.8 L237.0,97.7Z" fill="#c2c3c5"/>
<path d="M236.1,112.2 L236.4,113.1 L236.6,114.5 L237.0,116.1 L237.3,117.8 L237.8,119.7 L238.3,121.5 L238.8,123.1 L239.4,124.5 L240.5,126.1 L241.7,127.4 L243.1,128.6 L244.4,129.6 L245.4,130.4 L246.2,131.1 L246.8,130.3 L246.1,129.7 L245.0,128.8 L243.8,127.8 L242.6,126.6 L241.4,125.3 L240.6,123.9 L240.1,122.6 L239.6,121.1 L239.2,119.3 L238.8,117.5 L238.5,115.8 L238.3,114.2 L238.0,112.8 L237.9,111.8Z" fill="#c2c3c5"/>
<path d="M205.8,94.5 L207.1,95.1 L208.9,96.3 L209.7,97.2 L210.6,98.4 L211.6,99.8 L212.6,101.2 L213.4,102.4 L214.2,103.6 L215.0,104.9 L215.7,106.2 L216.4,107.6 L216.9,109.0 L217.5,110.5 L218.0,112.1 L218.4,113.6 L218.7,115.1 L218.9,116.4 L218.9,118.1 L218.7,119.7 L218.3,121.0 L217.8,122.1 L217.0,123.0 L215.9,123.7 L214.3,124.6 L212.8,125.8 L211.6,127.0 L210.5,128.2 L209.3,129.6 L208.2,131.1 L207.2,132.8 L206.5,134.2 L205.9,135.8 L205.3,137.4 L204.9,139.1 L204.5,140.9 L204.4,142.6 L204.6,144.4 L205.0,146.0 L205.6,147.6 L206.2,149.1 L206.7,150.6 L207.1,152.1 L207.3,153.5 L207.6,155.0 L207.9,156.5 L208.1,158.0 L208.3,159.5 L208.3,160.9 L208.3,162.2 L208.1,163.6 L207.8,165.0 L207.3,166.5 L206.8,167.9 L206.3,169.5 L205.8,171.1 L205.4,172.6 L205.0,174.1 L204.6,175.7 L204.3,177.2 L203.9,178.7 L203.5,180.2 L203.1,181.6 L202.7,183.3 L202.2,185.1 L201.6,186.9 L201.2,188.5 L200.7,189.8 L200.4,190.8 L203.2,191.6 L203.4,190.6 L203.9,189.3 L204.3,187.7 L204.9,185.9 L205.4,184.1 L205.9,182.4 L206.2,180.9 L206.6,179.4 L207.0,177.9 L207.4,176.3 L207.7,174.8 L208.1,173.3 L208.4,171.9 L208.9,170.3 L209.4,168.8 L210.0,167.3 L210.5,165.8 L210.9,164.1 L211.1,162.4 L211.1,160.8 L211.0,159.2 L210.9,157.6 L210.6,156.1 L210.3,154.5 L210.0,153.0 L209.7,151.5 L209.3,149.8 L208.7,148.2 L208.1,146.6 L207.6,145.2 L207.3,143.9 L207.2,142.6 L207.3,141.2 L207.5,139.7 L207.9,138.2 L208.4,136.8 L209.0,135.3 L209.6,134.0 L210.4,132.6 L211.4,131.3 L212.5,130.0 L213.6,128.8 L214.6,127.8 L215.9,126.8 L217.2,126.0 L218.7,125.0 L220.0,123.7 L220.8,122.0 L221.3,120.2 L221.6,118.3 L221.5,116.2 L221.3,114.7 L221.0,113.0 L220.5,111.3 L220.0,109.6 L219.4,108.1 L218.8,106.6 L218.1,105.0 L217.3,103.5 L216.4,102.2 L215.6,101.0 L214.8,99.8 L213.8,98.3 L212.7,96.8 L211.7,95.5 L210.5,94.3 L208.5,92.9 L207.0,92.1Z" fill="#c2c3c5"/>
<path d="M208.8,150.9 L207.8,150.4 L206.4,149.9 L204.7,149.2 L203.0,148.5 L201.2,147.6 L199.6,146.8 L198.4,146.0 L197.2,144.8 L196.1,143.4 L195.1,141.9 L194.3,140.5 L193.6,139.2 L193.0,138.4 L192.2,138.8 L192.7,139.7 L193.3,141.0 L194.1,142.5 L195.0,144.1 L196.1,145.7 L197.4,147.0 L198.8,148.1 L200.4,149.1 L202.2,150.0 L204.0,150.9 L205.6,151.6 L207.0,152.2 L208.0,152.7Z" fill="#c2c3c5"/>
<path d="M209.9,163.4 L210.8,163.2 L212.1,163.0 L213.6,162.8 L215.3,162.5 L217.1,162.1 L218.9,161.6 L220.6,160.9 L222.2,160.1 L223.6,158.9 L224.4,157.7 L225.1,156.3 L225.6,154.8 L226.1,153.2 L226.5,151.5 L226.8,149.8 L227.1,148.1 L227.5,146.5 L227.8,145.1 L228.2,143.9 L228.6,142.9 L229.8,141.4 L231.2,140.4 L232.6,139.8 L233.9,139.4 L234.9,139.0 L234.5,138.2 L233.6,138.5 L232.3,138.9 L230.7,139.5 L229.0,140.6 L227.6,142.3 L227.0,143.4 L226.5,144.7 L226.1,146.2 L225.7,147.8 L225.4,149.4 L225.0,151.1 L224.5,152.8 L224.1,154.3 L223.5,155.7 L222.9,156.8 L222.2,157.7 L221.2,158.5 L219.9,159.2 L218.3,159.7 L216.6,160.1 L214.9,160.4 L213.3,160.6 L211.7,160.8 L210.4,161.0 L209.5,161.2Z" fill="#c2c3c5"/>
<circle cx="206.4" cy="93.3" r="5.8" fill="#c2c3c5"/>
<circle cx="206.4" cy="93.3" r="2.4" fill="#4d4d4f"/>
<path d="M72.3,149.3 L71.3,149.4 L69.9,149.6 L68.3,149.9 L66.3,150.1 L64.1,150.2 L62.7,150.3 L61.2,150.5 L59.5,150.7 L57.8,150.9 L56.1,151.0 L54.4,151.1 L52.7,151.2 L51.2,151.1 L49.9,150.9 L48.9,150.7 L47.9,150.1 L46.9,149.3 L46.0,148.3 L45.1,147.1 L44.2,145.7 L43.3,144.3 L42.4,142.9 L41.3,141.7 L39.9,140.4 L38.6,139.1 L37.3,137.9 L35.9,136.9 L34.4,135.9 L32.7,135.1 L31.1,134.5 L29.3,134.1 L27.6,133.8 L25.8,133.6 L24.1,133.5 L22.4,133.5 L20.8,133.5 L18.8,133.9 L17.1,134.8 L15.8,135.5 L14.7,135.8 L13.2,135.4 L12.5,134.9 L11.4,134.1 L10.2,133.0 L9.0,131.8 L7.7,130.4 L6.4,129.0 L5.2,127.6 L4.1,126.3 L3.1,125.2 L2.2,124.2 L1.6,123.5 L0.4,124.5 L1.1,125.2 L1.9,126.2 L2.8,127.4 L3.9,128.7 L5.1,130.2 L6.3,131.6 L7.6,133.1 L8.8,134.4 L10.0,135.6 L11.2,136.6 L12.4,137.4 L14.6,138.0 L16.5,137.6 L18.1,136.8 L19.5,136.2 L21.0,135.9 L22.3,136.0 L23.9,136.1 L25.5,136.3 L27.2,136.5 L28.7,136.8 L30.2,137.2 L31.5,137.7 L32.9,138.4 L34.1,139.3 L35.3,140.3 L36.5,141.4 L37.7,142.6 L38.9,143.9 L39.7,144.9 L40.5,146.1 L41.3,147.5 L42.2,148.9 L43.2,150.4 L44.3,151.9 L45.8,153.1 L47.5,154.1 L49.1,154.6 L50.8,154.9 L52.6,155.1 L54.4,155.1 L56.3,155.1 L58.1,155.0 L59.9,154.8 L61.5,154.7 L63.0,154.6 L64.3,154.6 L66.7,154.5 L68.7,154.3 L70.5,154.2 L71.9,154.0 L72.9,153.9Z" fill="#c2c3c5"/>
<path d="M47.2,151.0 L46.4,151.6 L45.4,152.4 L44.3,153.3 L43.1,154.3 L41.7,155.3 L40.3,156.4 L38.9,157.4 L37.5,158.4 L36.2,159.2 L34.9,159.8 L33.6,160.5 L32.2,161.1 L30.8,161.7 L29.4,162.2 L27.9,162.8 L26.5,163.3 L25.1,163.8 L23.8,164.3 L22.1,164.8 L20.3,165.3 L18.6,165.8 L16.9,166.2 L15.3,166.7 L13.8,167.2 L12.4,167.8 L10.5,169.1 L9.1,170.6 L8.2,172.0 L7.5,172.9 L8.5,173.7 L9.3,172.8 L10.2,171.6 L11.5,170.3 L13.2,169.2 L14.4,168.8 L15.8,168.4 L17.3,168.0 L19.0,167.6 L20.8,167.3 L22.6,166.8 L24.4,166.3 L25.8,165.9 L27.2,165.5 L28.7,165.0 L30.2,164.6 L31.7,164.1 L33.2,163.5 L34.7,163.0 L36.1,162.3 L37.6,161.6 L39.0,160.8 L40.6,159.9 L42.1,158.9 L43.6,157.9 L45.0,156.9 L46.3,155.9 L47.5,155.0 L48.5,154.3 L49.2,153.8Z" fill="#c2c3c5"/>
<path d="M16.4,166.2 L15.4,165.8 L14.0,165.1 L12.4,164.3 L10.6,163.5 L9.0,162.7 L7.6,162.0 L6.6,161.6 L6.2,162.4 L7.1,162.9 L8.5,163.7 L10.1,164.6 L11.7,165.6 L13.3,166.5 L14.7,167.2 L15.6,167.8Z" fill="#c2c3c5"/>
<path d="M74.6,152.1 L74.8,151.1 L75.1,149.6 L75.5,148.0 L75.9,146.2 L76.4,144.4 L76.8,142.9 L77.1,141.9 L78.0,140.5 L79.3,139.3 L80.4,136.9 L80.6,135.4 L80.7,133.9 L80.8,132.3 L80.8,130.6 L80.7,128.8 L80.6,126.9 L80.4,125.1 L80.2,123.3 L80.0,121.8 L79.8,120.2 L79.5,118.6 L79.2,117.0 L78.8,115.3 L78.4,113.7 L77.9,112.0 L77.3,110.3 L76.7,108.5 L76.1,107.1 L75.4,105.6 L74.6,104.0 L73.8,102.5 L72.9,100.9 L72.0,99.4 L71.2,97.9 L70.3,96.4 L69.6,95.1 L68.9,93.8 L68.3,92.6 L67.5,90.7 L66.9,89.0 L66.4,87.5 L65.9,86.1 L65.5,84.7 L65.0,83.1 L64.4,81.4 L63.7,79.6 L63.1,77.7 L62.5,76.0 L62.0,74.5 L61.6,73.5 L60.4,73.9 L60.7,75.0 L61.2,76.4 L61.7,78.2 L62.3,80.1 L62.9,81.9 L63.4,83.7 L63.9,85.2 L64.2,86.6 L64.6,88.1 L65.1,89.6 L65.7,91.4 L66.5,93.4 L67.1,94.7 L67.7,96.0 L68.4,97.5 L69.2,98.9 L70.0,100.5 L70.9,102.0 L71.7,103.6 L72.4,105.1 L73.1,106.6 L73.8,108.1 L74.3,109.5 L74.8,111.1 L75.3,112.7 L75.7,114.3 L76.1,115.9 L76.4,117.5 L76.6,119.1 L76.8,120.6 L77.0,122.2 L77.2,123.7 L77.3,125.4 L77.4,127.1 L77.4,128.9 L77.4,130.6 L77.4,132.2 L77.3,133.7 L77.2,135.0 L77.0,135.9 L76.4,137.3 L75.3,138.1 L73.9,140.1 L73.3,141.7 L72.7,143.4 L72.2,145.2 L71.7,147.0 L71.3,148.7 L70.9,150.1 L70.6,151.1Z" fill="#c2c3c5"/>
<path d="M68.2,92.8 L67.9,91.6 L67.3,90.1 L66.8,88.3 L66.4,86.6 L66.5,85.1 L67.0,83.8 L68.0,82.3 L69.2,80.9 L70.3,79.7 L71.1,78.8 L70.3,78.2 L69.6,79.0 L68.4,80.2 L67.1,81.6 L65.9,83.2 L65.1,84.9 L65.0,86.7 L65.3,88.6 L65.8,90.5 L66.3,92.1 L66.6,93.2Z" fill="#c2c3c5"/>
<path d="M79.6,124.6 L80.4,124.0 L81.4,123.1 L82.7,122.1 L84.2,121.0 L85.7,119.7 L87.2,118.4 L88.6,117.2 L89.9,115.9 L90.9,114.6 L92.0,112.8 L92.7,111.0 L93.1,109.3 L93.4,107.7 L93.7,106.1 L94.1,104.5 L94.6,102.8 L95.0,101.1 L95.5,99.5 L96.0,97.9 L96.5,96.4 L97.2,95.1 L98.0,93.8 L98.9,92.6 L100.0,91.5 L101.1,90.5 L102.2,89.6 L103.2,88.9 L104.8,88.1 L106.5,87.7 L108.1,87.4 L109.3,87.3 L109.1,85.9 L108.0,86.1 L106.3,86.3 L104.3,86.7 L102.4,87.5 L101.2,88.3 L100.0,89.2 L98.8,90.3 L97.7,91.5 L96.6,92.8 L95.6,94.1 L94.8,95.6 L94.2,97.2 L93.6,98.9 L93.1,100.6 L92.6,102.3 L92.1,103.9 L91.6,105.6 L91.2,107.2 L90.9,108.8 L90.5,110.3 L89.8,111.7 L88.9,113.2 L88.0,114.2 L86.9,115.3 L85.5,116.5 L84.0,117.7 L82.5,118.8 L81.1,119.9 L79.7,120.9 L78.6,121.7 L77.8,122.4Z" fill="#c2c3c5"/>
<path d="M74.4,151.0 L74.1,150.1 L73.7,149.1 L73.3,147.9 L72.8,146.5 L72.3,145.0 L71.7,143.4 L71.1,141.7 L70.5,140.0 L69.8,138.2 L69.2,136.5 L68.5,134.9 L67.7,133.3 L67.0,131.8 L66.2,130.4 L65.4,129.1 L64.2,127.6 L62.8,126.2 L61.3,125.0 L59.9,124.0 L58.4,123.1 L56.9,122.3 L55.6,121.6 L54.3,120.9 L53.2,120.1 L52.2,119.4 L51.0,118.2 L50.2,117.2 L49.5,116.2 L48.7,115.0 L47.5,113.5 L45.8,111.6 L44.9,110.7 L43.9,109.7 L42.8,108.6 L41.6,107.5 L40.4,106.2 L39.1,104.9 L37.7,103.6 L36.4,102.3 L35.0,101.1 L33.7,99.8 L32.4,98.6 L31.3,97.5 L30.2,96.5 L29.2,95.5 L28.4,94.8 L27.8,94.1 L26.8,95.1 L27.5,95.7 L28.3,96.5 L29.2,97.5 L30.2,98.5 L31.4,99.7 L32.6,100.9 L33.8,102.2 L35.1,103.6 L36.5,104.9 L37.8,106.2 L39.0,107.6 L40.3,108.8 L41.4,110.0 L42.5,111.1 L43.4,112.2 L44.2,113.0 L45.8,114.9 L46.8,116.3 L47.5,117.4 L48.3,118.6 L49.2,119.8 L50.6,121.2 L51.7,122.2 L52.9,123.0 L54.2,123.8 L55.6,124.6 L57.0,125.5 L58.3,126.3 L59.6,127.3 L60.8,128.3 L62.0,129.5 L63.0,130.9 L63.6,131.9 L64.2,133.1 L64.9,134.6 L65.5,136.1 L66.1,137.7 L66.7,139.4 L67.3,141.1 L67.9,142.8 L68.4,144.5 L68.9,146.1 L69.4,147.6 L69.8,149.0 L70.2,150.3 L70.5,151.4 L70.8,152.2Z" fill="#c2c3c5"/>
<path d="M48.3,117.8 L47.2,117.8 L45.6,117.8 L43.8,117.7 L41.8,117.6 L39.8,117.6 L38.0,117.5 L36.4,117.5 L35.3,117.4 L35.3,118.4 L36.4,118.5 L37.9,118.6 L39.7,118.8 L41.7,119.0 L43.7,119.2 L45.5,119.3 L47.1,119.5 L48.1,119.6Z" fill="#c2c3c5"/>
<path d="M74.0,152.7 L74.6,151.9 L75.3,150.8 L76.2,149.6 L77.1,148.2 L78.2,146.7 L79.3,145.2 L80.4,143.7 L81.5,142.3 L82.5,141.0 L83.5,139.9 L84.3,139.1 L85.8,138.1 L87.2,137.6 L88.6,137.3 L90.2,137.0 L91.9,136.6 L93.7,135.7 L95.0,134.8 L96.3,133.8 L97.5,132.7 L98.8,131.6 L100.0,130.4 L101.2,129.3 L102.3,128.3 L103.4,127.4 L105.0,126.2 L106.7,125.0 L108.2,124.0 L109.5,123.2 L110.4,122.5 L109.6,121.3 L108.6,121.8 L107.3,122.6 L105.7,123.6 L104.0,124.7 L102.2,126.0 L101.1,126.8 L99.9,127.8 L98.7,128.9 L97.4,130.0 L96.1,131.1 L94.9,132.1 L93.7,133.0 L92.5,133.7 L91.1,134.2 L89.7,134.5 L88.2,134.7 L86.4,135.0 L84.6,135.7 L82.7,136.9 L81.5,137.9 L80.4,139.1 L79.2,140.4 L78.0,141.8 L76.8,143.3 L75.6,144.8 L74.5,146.3 L73.5,147.6 L72.6,148.8 L71.8,149.8 L71.2,150.5Z" fill="#c2c3c5"/>
<path d="M71.0,150.4 L70.3,151.3 L69.4,152.6 L68.2,154.1 L67.0,155.9 L65.8,157.8 L65.1,159.1 L64.4,160.5 L63.7,161.9 L62.9,163.4 L62.2,164.9 L61.5,166.4 L60.9,168.0 L60.3,169.5 L59.9,171.3 L59.6,173.1 L59.4,174.8 L59.2,176.5 L59.0,178.1 L58.7,179.5 L58.3,180.8 L57.5,182.1 L56.6,183.3 L55.4,184.5 L54.2,185.8 L53.1,187.2 L52.1,188.8 L51.4,190.5 L50.9,192.3 L50.4,194.3 L49.9,196.2 L49.6,197.9 L49.3,199.4 L49.1,200.4 L50.5,200.8 L50.8,199.7 L51.2,198.3 L51.6,196.6 L52.1,194.7 L52.7,192.9 L53.3,191.2 L53.9,189.8 L54.8,188.4 L55.9,187.3 L57.1,186.1 L58.3,184.9 L59.5,183.5 L60.5,181.8 L61.2,180.2 L61.6,178.6 L61.9,176.9 L62.2,175.2 L62.4,173.6 L62.8,172.0 L63.3,170.5 L63.8,169.2 L64.4,167.8 L65.2,166.3 L65.9,164.9 L66.7,163.5 L67.5,162.2 L68.3,160.9 L69.0,159.8 L70.1,158.0 L71.3,156.4 L72.5,155.0 L73.5,153.7 L74.2,152.8Z" fill="#c2c3c5"/>
<path d="M59.4,178.3 L59.7,179.2 L60.0,180.4 L60.4,181.8 L60.9,183.3 L61.4,185.0 L62.0,186.7 L62.5,188.3 L63.0,189.9 L63.4,191.2 L64.1,193.1 L64.7,195.0 L65.4,196.8 L66.0,198.4 L66.5,199.8 L66.9,200.8 L67.9,200.4 L67.6,199.4 L67.2,198.0 L66.7,196.4 L66.1,194.6 L65.5,192.7 L65.0,190.8 L64.6,189.4 L64.2,187.8 L63.8,186.2 L63.3,184.5 L62.9,182.8 L62.5,181.2 L62.1,179.8 L61.8,178.6 L61.6,177.7Z" fill="#c2c3c5"/>
<path d="M70.7,152.3 L71.0,153.2 L71.5,154.5 L72.1,156.0 L72.8,157.7 L73.4,159.4 L74.0,161.1 L74.6,162.5 L75.1,164.1 L75.5,165.7 L76.0,167.3 L76.5,169.0 L77.2,170.8 L78.2,172.5 L79.1,173.8 L80.2,175.1 L81.3,176.4 L82.6,177.7 L83.8,178.9 L85.1,180.1 L86.3,181.2 L87.5,182.3 L89.0,183.5 L90.5,184.4 L92.0,185.3 L93.3,186.1 L94.5,187.1 L95.5,188.3 L96.2,189.4 L96.9,190.8 L97.5,192.3 L98.2,194.0 L98.7,195.7 L99.3,197.3 L99.8,198.7 L100.2,199.9 L100.5,200.8 L101.9,200.4 L101.6,199.5 L101.3,198.2 L100.9,196.8 L100.4,195.1 L99.9,193.4 L99.3,191.7 L98.7,190.0 L98.0,188.4 L97.3,187.1 L96.0,185.5 L94.7,184.3 L93.2,183.3 L91.8,182.4 L90.5,181.5 L89.1,180.3 L88.1,179.3 L87.0,178.2 L85.8,177.0 L84.6,175.7 L83.5,174.5 L82.5,173.2 L81.6,172.0 L80.8,170.9 L80.1,169.4 L79.6,168.0 L79.2,166.5 L78.9,164.9 L78.5,163.2 L78.0,161.5 L77.5,159.9 L76.9,158.2 L76.3,156.4 L75.8,154.7 L75.3,153.2 L74.8,151.9 L74.5,150.9Z" fill="#c2c3c5"/>
<path d="M77.9,172.6 L77.6,173.4 L77.2,174.5 L76.6,175.8 L76.1,177.4 L75.5,179.0 L75.0,180.8 L74.7,182.6 L74.6,184.5 L74.7,186.1 L74.9,187.8 L75.3,189.6 L75.7,191.5 L76.2,193.4 L76.7,195.3 L77.1,197.0 L77.6,198.5 L77.9,199.8 L78.1,200.7 L79.3,200.5 L79.0,199.5 L78.8,198.2 L78.4,196.6 L78.0,194.9 L77.6,193.1 L77.2,191.2 L76.9,189.4 L76.6,187.6 L76.4,185.9 L76.4,184.5 L76.6,182.9 L76.9,181.3 L77.4,179.7 L78.0,178.1 L78.7,176.7 L79.2,175.4 L79.7,174.3 L80.1,173.4Z" fill="#c2c3c5"/>
<path d="M90.1,184.0 L91.2,183.8 L92.6,183.6 L94.3,183.3 L96.1,183.0 L97.9,182.8 L99.5,182.9 L101.0,183.0 L102.6,183.4 L104.4,183.8 L106.1,184.3 L107.6,184.8 L108.9,185.2 L109.9,185.4 L110.1,184.6 L109.2,184.2 L107.9,183.8 L106.4,183.2 L104.7,182.6 L103.0,182.1 L101.3,181.6 L99.7,181.3 L97.8,181.2 L95.9,181.3 L94.0,181.5 L92.3,181.7 L90.9,181.9 L89.9,182.0Z" fill="#c2c3c5"/>
<path d="M49.6,179.8 L49.5,180.7 L49.2,181.9 L48.9,183.4 L48.5,185.0 L48.2,186.8 L47.9,188.7 L47.8,190.5 L47.8,192.3 L48.0,194.0 L48.3,195.7 L48.7,197.6 L49.2,199.5 L49.7,201.3 L50.2,203.0 L50.6,204.5 L51.0,205.8 L51.2,206.7 L52.2,206.5 L51.9,205.5 L51.6,204.2 L51.2,202.7 L50.8,201.0 L50.4,199.2 L50.0,197.3 L49.7,195.5 L49.5,193.8 L49.4,192.3 L49.5,190.6 L49.7,188.9 L50.0,187.2 L50.4,185.5 L50.8,183.9 L51.2,182.4 L51.5,181.2 L51.8,180.2Z" fill="#c2c3c5"/>
<path d="M60.0,182.4 L60.3,183.2 L60.8,184.3 L61.3,185.6 L61.9,187.1 L62.6,188.6 L63.3,190.3 L64.0,192.0 L64.7,193.7 L65.4,195.3 L66.0,196.9 L66.5,198.3 L67.0,199.5 L67.4,200.6 L68.2,203.1 L68.4,204.7 L68.5,205.8 L68.5,206.6 L69.5,206.6 L69.5,205.8 L69.5,204.6 L69.2,202.8 L68.6,200.2 L68.3,199.1 L67.8,197.8 L67.3,196.4 L66.8,194.8 L66.2,193.1 L65.6,191.4 L64.9,189.6 L64.3,188.0 L63.7,186.4 L63.2,184.9 L62.7,183.6 L62.3,182.5 L62.0,181.6Z" fill="#c2c3c5"/>
<path d="M97.0,187.2 L97.3,188.2 L97.6,189.6 L98.0,191.2 L98.4,193.0 L98.9,194.9 L99.4,196.9 L99.9,198.8 L100.4,200.6 L100.8,202.3 L101.1,203.6 L101.3,204.6 L102.3,204.4 L102.1,203.4 L101.8,202.0 L101.5,200.4 L101.2,198.6 L100.8,196.6 L100.4,194.6 L100.1,192.6 L99.7,190.8 L99.4,189.2 L99.2,187.8 L99.0,186.8Z" fill="#c2c3c5"/>
<circle cx="72.6" cy="151.6" r="5.8" fill="#c2c3c5"/>
<circle cx="72.6" cy="151.6" r="2.4" fill="#4d4d4f"/>
<path d="M202.5,193.0 L203.4,192.6 L204.7,192.1 L206.2,191.5 L207.9,190.9 L209.6,190.2 L211.3,189.4 L213.0,188.7 L214.5,188.0 L216.1,187.2 L217.7,186.4 L219.2,185.6 L220.7,184.7 L222.2,184.0 L223.5,183.3 L225.2,182.5 L226.9,181.8 L228.6,181.1 L230.3,180.1 L231.6,178.8 L232.5,177.3 L233.2,175.6 L233.6,173.9 L234.0,172.2 L234.2,170.5 L234.4,168.9 L234.5,167.1 L234.4,165.4 L234.2,163.9 L234.1,162.5 L234.2,161.2 L234.7,159.9 L235.3,158.5 L236.1,157.1 L236.9,155.9 L237.7,154.9 L239.5,153.7 L241.4,152.9 L242.8,152.3 L242.4,151.3 L241.0,151.8 L238.9,152.6 L236.9,153.9 L235.8,155.0 L234.8,156.3 L233.9,157.7 L233.2,159.2 L232.6,160.8 L232.3,162.4 L232.3,164.0 L232.5,165.6 L232.5,167.1 L232.4,168.7 L232.1,170.1 L231.8,171.8 L231.5,173.4 L231.0,174.9 L230.4,176.2 L229.8,177.2 L228.8,178.1 L227.5,178.8 L226.0,179.3 L224.2,179.9 L222.3,180.7 L220.9,181.4 L219.4,182.1 L217.9,182.9 L216.3,183.6 L214.7,184.3 L213.2,185.0 L211.6,185.7 L210.1,186.3 L208.4,186.9 L206.6,187.6 L204.9,188.1 L203.4,188.7 L202.1,189.1 L201.1,189.4Z" fill="#c2c3c5"/>
<path d="M230.8,179.2 L231.8,179.0 L233.2,178.9 L235.0,178.7 L236.8,178.5 L238.6,178.1 L240.3,177.6 L241.8,176.9 L243.2,176.2 L244.6,175.3 L245.9,174.3 L247.2,173.2 L248.3,172.0 L249.3,170.7 L250.2,169.2 L251.1,167.6 L251.8,166.1 L252.5,164.6 L253.1,163.4 L253.5,162.5 L252.7,162.1 L252.2,162.9 L251.6,164.1 L250.8,165.6 L250.0,167.1 L249.1,168.6 L248.2,169.9 L247.3,171.0 L246.1,172.1 L245.0,173.0 L243.7,173.9 L242.4,174.6 L241.0,175.3 L239.7,175.8 L238.2,176.2 L236.5,176.5 L234.8,176.6 L233.1,176.7 L231.6,176.8 L230.6,176.8Z" fill="#c2c3c5"/>
<path d="M200.7,192.9 L201.5,193.4 L202.6,194.0 L203.8,194.8 L205.3,195.7 L206.8,196.6 L208.3,197.5 L209.9,198.5 L211.5,199.4 L212.9,200.3 L214.3,201.1 L215.4,201.8 L217.0,202.9 L218.4,203.9 L219.6,204.8 L220.9,205.6 L222.2,206.4 L223.7,207.0 L225.3,207.5 L226.9,207.8 L228.6,207.9 L230.2,208.1 L231.7,208.2 L233.2,208.3 L234.8,208.5 L236.4,208.6 L237.9,208.8 L239.5,209.0 L240.9,209.2 L242.3,209.4 L244.0,209.8 L245.5,210.2 L247.0,210.7 L248.5,211.2 L250.0,211.8 L251.6,212.5 L253.2,213.3 L254.8,214.1 L256.5,214.9 L258.0,215.5 L260.0,216.1 L262.0,216.4 L263.6,216.6 L264.8,216.8 L265.0,215.4 L263.8,215.3 L262.2,215.0 L260.4,214.6 L258.6,214.1 L257.2,213.4 L255.6,212.6 L254.0,211.7 L252.4,210.8 L250.8,210.0 L249.2,209.3 L247.7,208.7 L246.1,208.2 L244.5,207.7 L242.9,207.2 L241.4,206.9 L239.8,206.6 L238.2,206.4 L236.7,206.1 L235.1,205.9 L233.6,205.7 L232.0,205.5 L230.4,205.3 L228.9,205.1 L227.4,204.9 L226.0,204.6 L224.7,204.2 L223.6,203.6 L222.6,203.0 L221.5,202.2 L220.3,201.3 L218.9,200.2 L217.2,199.0 L216.1,198.2 L214.8,197.4 L213.4,196.4 L211.9,195.4 L210.3,194.4 L208.8,193.4 L207.3,192.4 L205.9,191.5 L204.7,190.7 L203.7,190.0 L202.9,189.5Z" fill="#c2c3c5"/>
<path d="M218.4,202.8 L218.3,203.8 L218.2,205.2 L218.0,206.9 L217.8,208.8 L217.6,210.8 L217.5,212.8 L217.5,214.8 L217.5,216.4 L217.6,218.1 L217.7,219.9 L217.8,221.7 L218.0,223.5 L218.2,225.3 L218.4,226.9 L218.7,228.4 L219.1,229.8 L220.3,231.7 L221.8,232.8 L223.1,233.5 L224.5,234.3 L225.4,235.2 L226.5,236.1 L227.6,237.0 L228.8,238.1 L229.9,239.2 L231.0,240.5 L231.8,241.7 L232.8,243.0 L233.7,244.4 L234.6,245.9 L235.5,247.4 L236.3,248.8 L237.0,250.1 L237.6,251.2 L238.3,253.3 L238.6,255.0 L238.6,256.5 L238.7,257.6 L239.9,257.6 L239.8,256.5 L239.8,254.9 L239.5,253.0 L238.8,250.8 L238.3,249.5 L237.6,248.1 L236.8,246.6 L236.0,245.1 L235.1,243.6 L234.2,242.1 L233.3,240.7 L232.4,239.5 L231.3,238.0 L230.1,236.7 L229.0,235.6 L227.8,234.6 L226.8,233.6 L225.7,232.7 L224.2,231.6 L222.9,231.0 L222.0,230.3 L221.3,228.8 L221.0,227.9 L220.8,226.5 L220.6,225.0 L220.5,223.3 L220.4,221.5 L220.3,219.8 L220.3,218.0 L220.3,216.3 L220.3,214.8 L220.4,212.9 L220.5,211.0 L220.7,209.1 L221.0,207.3 L221.2,205.6 L221.4,204.2 L221.6,203.2Z" fill="#c2c3c5"/>
<path d="M249.7,211.4 L250.2,212.2 L251.1,213.4 L252.0,214.7 L253.1,216.3 L254.2,217.9 L255.3,219.4 L256.2,220.8 L257.0,221.9 L257.6,222.8 L258.4,222.2 L257.9,221.4 L257.1,220.2 L256.2,218.7 L255.3,217.2 L254.3,215.5 L253.3,213.9 L252.4,212.5 L251.7,211.3 L251.1,210.4Z" fill="#c2c3c5"/>
<path d="M200.9,189.7 L200.0,190.3 L198.7,191.0 L197.2,192.0 L195.4,193.1 L193.7,194.4 L192.1,195.9 L191.0,197.7 L190.3,199.2 L189.8,200.6 L189.4,202.2 L189.1,203.9 L188.9,205.6 L188.7,207.3 L188.7,209.1 L188.6,210.7 L188.7,212.4 L188.8,213.9 L189.0,215.6 L189.4,217.2 L190.0,218.8 L190.6,220.2 L191.2,221.7 L191.9,223.1 L192.4,224.4 L192.9,225.8 L193.3,227.1 L193.6,228.7 L193.8,230.2 L194.0,231.7 L194.1,233.2 L194.2,234.8 L194.3,236.5 L194.4,238.2 L194.6,240.1 L194.7,241.5 L194.8,243.1 L194.9,244.8 L195.0,246.6 L195.1,248.4 L195.2,250.1 L195.4,251.9 L195.5,253.5 L195.6,255.1 L195.8,256.5 L195.9,257.7 L196.5,260.3 L197.2,262.2 L197.9,263.5 L198.3,264.4 L199.3,264.0 L198.9,263.0 L198.3,261.8 L197.7,260.0 L197.3,257.5 L197.1,256.3 L197.0,255.0 L196.9,253.4 L196.9,251.8 L196.8,250.0 L196.7,248.3 L196.7,246.5 L196.6,244.7 L196.6,243.0 L196.5,241.4 L196.4,239.9 L196.3,238.1 L196.3,236.4 L196.2,234.7 L196.2,233.1 L196.1,231.5 L196.0,229.9 L195.8,228.3 L195.5,226.7 L195.1,225.1 L194.6,223.6 L194.1,222.2 L193.5,220.7 L192.9,219.3 L192.4,217.9 L191.9,216.5 L191.6,215.1 L191.4,213.7 L191.4,212.3 L191.4,210.8 L191.4,209.2 L191.6,207.6 L191.8,206.0 L192.0,204.4 L192.4,202.9 L192.7,201.5 L193.2,200.3 L193.6,199.3 L194.6,198.0 L195.8,196.9 L197.3,195.8 L198.9,194.8 L200.4,194.0 L201.8,193.3 L202.7,192.7Z" fill="#c2c3c5"/>
<path d="M201.0,189.8 L200.2,190.3 L199.2,190.9 L198.1,191.5 L196.8,192.3 L195.3,193.1 L193.8,194.0 L192.3,194.9 L190.7,195.8 L189.2,196.8 L187.7,197.8 L186.2,198.7 L184.9,199.6 L183.6,200.6 L182.3,201.5 L181.0,202.5 L179.7,203.5 L178.4,204.5 L177.2,205.5 L176.0,206.5 L174.8,207.6 L173.7,208.7 L172.7,209.8 L171.7,210.9 L170.7,212.3 L169.7,213.7 L168.9,215.1 L168.1,216.6 L167.4,218.0 L166.7,219.6 L166.2,221.1 L165.6,222.8 L165.1,224.5 L164.8,226.0 L164.5,227.6 L164.2,229.4 L164.0,231.1 L163.8,232.9 L163.6,234.7 L163.5,236.5 L163.4,238.1 L163.3,239.7 L163.2,241.0 L163.1,242.3 L163.0,244.8 L163.1,246.7 L163.2,247.9 L163.2,248.8 L164.4,248.8 L164.3,247.9 L164.3,246.6 L164.3,244.9 L164.5,242.3 L164.6,241.2 L164.7,239.8 L164.8,238.2 L165.0,236.6 L165.2,234.9 L165.4,233.1 L165.6,231.3 L165.8,229.6 L166.1,227.9 L166.5,226.4 L166.9,224.9 L167.4,223.3 L167.9,221.8 L168.5,220.3 L169.2,218.9 L169.9,217.5 L170.6,216.2 L171.5,214.9 L172.4,213.6 L173.5,212.3 L174.4,211.3 L175.4,210.3 L176.4,209.3 L177.5,208.3 L178.7,207.4 L179.9,206.4 L181.2,205.5 L182.5,204.5 L183.8,203.6 L185.1,202.7 L186.5,201.8 L187.7,201.0 L189.1,200.1 L190.6,199.2 L192.2,198.3 L193.7,197.4 L195.3,196.6 L196.8,195.7 L198.3,194.9 L199.6,194.2 L200.8,193.6 L201.8,193.0 L202.6,192.6Z" fill="#c2c3c5"/>
<path d="M201.5,189.6 L200.5,189.9 L199.3,190.2 L198.0,190.5 L196.4,190.9 L194.8,191.4 L193.1,191.8 L191.2,192.1 L189.4,192.4 L187.5,192.7 L185.7,192.8 L184.3,192.8 L182.9,192.8 L181.3,192.7 L179.7,192.6 L178.1,192.5 L176.4,192.3 L174.7,192.1 L173.0,191.9 L171.3,191.7 L169.7,191.5 L168.1,191.4 L166.6,191.2 L165.2,191.1 L163.9,191.0 L161.7,191.0 L159.7,191.0 L157.8,191.0 L156.1,191.1 L154.6,191.2 L153.1,191.2 L151.9,191.3 L150.8,191.3 L148.6,191.0 L147.3,190.6 L146.5,190.3 L146.1,191.3 L146.9,191.7 L148.3,192.2 L150.6,192.5 L151.9,192.6 L153.2,192.6 L154.6,192.6 L156.2,192.6 L157.9,192.6 L159.7,192.6 L161.7,192.7 L163.7,192.8 L165.0,192.9 L166.4,193.1 L167.9,193.3 L169.5,193.5 L171.1,193.8 L172.7,194.0 L174.4,194.3 L176.1,194.5 L177.8,194.7 L179.5,195.0 L181.1,195.1 L182.7,195.3 L184.3,195.4 L185.7,195.4 L187.7,195.3 L189.7,195.2 L191.7,194.9 L193.6,194.6 L195.4,194.2 L197.1,193.9 L198.7,193.5 L200.1,193.2 L201.2,192.9 L202.1,192.8Z" fill="#c2c3c5"/>
<path d="M183.8,201.6 L183.4,202.7 L183.2,204.2 L182.9,205.8 L182.5,207.6 L182.0,209.2 L181.2,210.7 L180.1,211.9 L178.6,212.8 L177.8,213.0 L176.7,213.2 L175.5,213.4 L174.1,213.5 L172.7,213.5 L171.1,213.5 L169.4,213.5 L167.7,213.4 L166.0,213.3 L164.2,213.3 L162.5,213.2 L160.7,213.1 L159.0,213.0 L157.3,212.9 L155.7,212.9 L154.2,212.9 L152.8,212.9 L151.0,213.1 L149.3,213.2 L147.6,213.3 L146.0,213.5 L144.4,213.6 L142.8,213.8 L141.3,214.0 L139.8,214.2 L138.4,214.4 L137.0,214.6 L135.6,214.9 L134.3,215.1 L133.0,215.4 L131.1,215.8 L129.3,216.4 L127.6,216.9 L125.9,217.5 L124.4,218.1 L123.0,218.7 L121.7,219.2 L120.7,219.6 L119.8,220.0 L120.2,220.8 L121.0,220.5 L122.1,220.1 L123.3,219.7 L124.7,219.1 L126.3,218.6 L127.9,218.0 L129.7,217.5 L131.4,217.0 L133.2,216.6 L134.5,216.4 L135.8,216.2 L137.2,216.0 L138.6,215.8 L140.0,215.6 L141.5,215.4 L143.0,215.3 L144.5,215.1 L146.1,215.0 L147.7,214.9 L149.4,214.8 L151.1,214.7 L152.8,214.7 L154.2,214.6 L155.7,214.7 L157.3,214.7 L158.9,214.8 L160.6,214.9 L162.4,215.1 L164.1,215.2 L165.9,215.3 L167.6,215.5 L169.4,215.6 L171.0,215.6 L172.7,215.7 L174.2,215.7 L175.7,215.6 L177.1,215.4 L178.3,215.2 L179.6,214.8 L181.6,213.7 L183.1,212.1 L184.2,210.2 L184.9,208.2 L185.3,206.3 L185.7,204.6 L185.9,203.3 L186.2,202.4Z" fill="#c2c3c5"/>
<path d="M202.5,192.1 L203.3,191.4 L204.3,190.5 L205.6,189.4 L206.9,188.2 L208.3,187.0 L209.8,185.8 L211.2,184.8 L212.5,183.9 L213.9,183.1 L215.4,182.5 L217.0,182.0 L218.6,181.5 L220.2,181.0 L221.8,180.3 L223.3,179.4 L224.6,178.4 L225.9,177.2 L227.2,175.9 L228.4,174.5 L229.5,173.2 L230.6,172.0 L231.4,171.0 L232.0,170.3 L231.4,169.7 L230.7,170.4 L229.8,171.3 L228.7,172.5 L227.6,173.7 L226.3,175.0 L225.0,176.2 L223.7,177.3 L222.5,178.2 L221.1,179.0 L219.7,179.5 L218.1,180.0 L216.5,180.4 L214.8,180.9 L213.2,181.5 L211.5,182.3 L210.1,183.2 L208.6,184.3 L207.0,185.4 L205.5,186.6 L204.1,187.8 L202.9,188.8 L201.8,189.7 L201.1,190.3Z" fill="#c2c3c5"/>
<circle cx="201.8" cy="191.2" r="5.8" fill="#c2c3c5"/>
<circle cx="201.8" cy="191.2" r="2.4" fill="#4d4d4f"/>
<path d="M99.7,268.3 L98.6,267.9 L97.1,267.5 L95.5,267.2 L93.8,266.7 L92.1,266.1 L90.7,265.3 L89.6,264.4 L88.7,263.1 L88.5,262.4 L88.3,261.4 L88.1,260.2 L88.1,258.9 L88.0,257.5 L88.1,255.9 L88.1,254.4 L88.2,252.7 L88.3,251.0 L88.4,249.3 L88.5,247.7 L88.6,246.0 L88.6,244.3 L88.6,242.8 L88.5,241.2 L88.4,239.5 L88.1,237.8 L87.9,236.1 L87.6,234.5 L87.3,232.8 L87.0,231.1 L86.7,229.5 L86.4,227.9 L86.1,226.4 L85.9,224.9 L85.6,223.4 L85.4,222.1 L85.2,220.8 L84.9,218.8 L84.7,216.9 L84.5,215.1 L84.4,213.4 L84.2,211.9 L84.1,210.6 L84.0,209.5 L84.0,208.6 L82.8,208.6 L82.9,209.5 L82.9,210.7 L83.0,212.0 L83.1,213.5 L83.2,215.2 L83.3,217.0 L83.4,219.0 L83.6,221.0 L83.8,222.3 L84.0,223.7 L84.2,225.2 L84.4,226.7 L84.7,228.2 L84.9,229.8 L85.2,231.4 L85.4,233.1 L85.6,234.8 L85.8,236.4 L86.0,238.1 L86.2,239.7 L86.3,241.4 L86.3,242.8 L86.3,244.3 L86.2,245.9 L86.1,247.5 L85.9,249.2 L85.8,250.8 L85.6,252.5 L85.5,254.2 L85.3,255.8 L85.2,257.4 L85.2,258.9 L85.3,260.4 L85.4,261.8 L85.6,263.1 L86.1,264.5 L87.2,266.4 L88.9,267.9 L90.8,269.0 L92.7,269.8 L94.6,270.4 L96.3,270.8 L97.6,271.2 L98.5,271.5Z" fill="#c2c3c5"/>
<path d="M88.2,241.6 L88.6,240.7 L89.1,239.4 L89.7,237.9 L90.4,236.2 L91.1,234.4 L91.8,232.6 L92.5,230.9 L93.1,229.4 L93.7,228.1 L94.0,227.2 L93.2,226.8 L92.7,227.7 L92.2,229.0 L91.5,230.5 L90.7,232.1 L89.9,233.9 L89.1,235.6 L88.3,237.3 L87.6,238.8 L87.0,240.0 L86.6,241.0Z" fill="#c2c3c5"/>
<path d="M99.5,268.1 L98.6,267.9 L97.5,267.6 L96.1,267.4 L94.6,267.1 L92.9,266.8 L91.2,266.4 L89.5,266.1 L87.7,265.7 L86.0,265.3 L84.4,265.0 L83.0,264.6 L81.8,264.3 L80.0,263.8 L78.6,263.2 L77.3,262.6 L76.0,262.0 L74.7,261.4 L73.2,260.9 L71.4,260.4 L70.0,260.1 L68.5,259.8 L66.9,259.6 L65.3,259.4 L63.7,259.3 L62.0,259.1 L60.3,258.9 L58.6,258.8 L56.9,258.6 L55.5,258.4 L54.1,258.3 L52.6,258.1 L51.0,257.9 L49.5,257.7 L48.0,257.5 L46.4,257.4 L44.9,257.2 L43.4,257.1 L41.9,257.0 L40.4,256.9 L38.7,256.8 L36.8,256.8 L34.9,256.8 L33.1,256.9 L31.3,256.9 L29.7,257.0 L28.3,257.1 L27.0,257.1 L26.1,257.1 L26.1,258.3 L27.1,258.3 L28.3,258.3 L29.7,258.3 L31.4,258.2 L33.1,258.3 L34.9,258.3 L36.8,258.3 L38.6,258.4 L40.4,258.5 L41.7,258.6 L43.2,258.8 L44.7,259.0 L46.2,259.2 L47.7,259.4 L49.2,259.6 L50.8,259.9 L52.3,260.1 L53.8,260.4 L55.2,260.6 L56.7,260.8 L58.4,261.0 L60.1,261.3 L61.7,261.5 L63.4,261.7 L65.0,261.9 L66.5,262.2 L68.0,262.4 L69.4,262.7 L70.8,263.0 L72.3,263.5 L73.5,264.0 L74.7,264.6 L76.0,265.3 L77.3,265.9 L79.0,266.6 L80.8,267.3 L82.2,267.7 L83.6,268.1 L85.3,268.5 L87.0,268.9 L88.7,269.4 L90.5,269.8 L92.2,270.2 L93.8,270.6 L95.3,270.9 L96.7,271.3 L97.8,271.5 L98.7,271.7Z" fill="#c2c3c5"/>
<path d="M72.1,261.1 L71.6,260.3 L70.9,259.4 L70.2,258.3 L69.4,257.1 L68.5,255.8 L67.5,254.4 L66.5,252.9 L65.5,251.4 L64.5,249.8 L63.5,248.2 L62.6,246.6 L61.7,245.0 L61.0,243.7 L60.3,242.4 L59.6,240.9 L58.8,239.4 L58.0,237.8 L57.3,236.1 L56.5,234.5 L55.8,232.9 L55.0,231.3 L54.3,229.7 L53.7,228.3 L53.0,226.9 L52.5,225.6 L51.9,224.5 L51.5,223.5 L51.1,222.7 L50.3,223.1 L50.6,223.9 L51.0,224.9 L51.5,226.0 L52.0,227.3 L52.6,228.7 L53.2,230.2 L53.9,231.8 L54.6,233.4 L55.3,235.0 L56.0,236.7 L56.7,238.4 L57.4,240.0 L58.1,241.6 L58.8,243.1 L59.5,244.5 L60.1,245.8 L61.0,247.5 L61.9,249.1 L62.9,250.8 L63.8,252.4 L64.8,254.0 L65.8,255.5 L66.7,257.0 L67.6,258.3 L68.3,259.5 L69.1,260.6 L69.6,261.6 L70.1,262.3Z" fill="#c2c3c5"/>
<path d="M44.7,257.8 L43.7,258.3 L42.1,259.0 L40.3,259.7 L38.5,260.5 L36.9,261.2 L35.9,261.6 L36.1,262.4 L37.2,262.0 L38.8,261.4 L40.7,260.8 L42.6,260.1 L44.2,259.6 L45.3,259.2Z" fill="#c2c3c5"/>
<path d="M98.9,268.3 L98.0,268.5 L96.7,268.6 L95.2,268.8 L93.5,269.0 L91.7,269.3 L89.9,269.5 L88.0,269.8 L86.2,270.1 L84.6,270.4 L83.1,270.8 L81.3,271.3 L79.7,271.9 L78.2,272.6 L76.9,273.2 L75.6,273.9 L74.2,274.5 L72.7,275.1 L71.3,275.7 L69.8,276.2 L68.3,276.8 L66.7,277.4 L65.1,277.9 L63.6,278.4 L62.1,278.9 L60.7,279.3 L58.8,279.9 L56.8,280.3 L54.9,280.8 L53.2,281.1 L51.7,281.4 L50.6,281.6 L50.8,282.8 L51.9,282.6 L53.4,282.3 L55.2,282.0 L57.1,281.7 L59.1,281.3 L61.1,280.9 L62.6,280.5 L64.1,280.0 L65.7,279.6 L67.3,279.1 L68.9,278.6 L70.5,278.1 L72.0,277.6 L73.5,277.1 L75.0,276.5 L76.5,275.9 L77.8,275.3 L79.2,274.7 L80.6,274.1 L82.0,273.7 L83.7,273.2 L85.1,273.0 L86.7,272.7 L88.4,272.5 L90.2,272.3 L92.1,272.1 L93.9,272.0 L95.5,271.8 L97.0,271.7 L98.3,271.6 L99.3,271.5Z" fill="#c2c3c5"/>
<path d="M72.4,275.7 L71.8,276.7 L71.0,278.2 L70.0,279.9 L69.0,281.8 L68.0,283.5 L67.2,285.0 L66.6,286.1 L67.4,286.5 L68.0,285.6 L69.0,284.1 L70.1,282.4 L71.2,280.7 L72.3,279.0 L73.2,277.5 L73.8,276.5Z" fill="#c2c3c5"/>
<path d="M100.3,271.2 L100.9,270.6 L101.8,269.7 L102.9,268.8 L104.1,267.7 L105.3,266.5 L106.6,265.2 L107.9,263.9 L109.0,262.7 L110.1,261.4 L111.1,260.0 L112.0,258.5 L113.0,257.1 L113.9,255.7 L114.8,254.5 L115.8,253.4 L116.7,252.5 L117.9,251.7 L119.3,251.0 L120.7,250.5 L122.2,250.0 L123.8,249.5 L125.3,249.0 L126.8,248.3 L128.3,247.3 L129.7,246.2 L131.0,245.2 L132.3,244.1 L133.6,243.0 L134.9,241.9 L136.3,240.8 L137.8,239.6 L139.4,238.4 L140.8,237.3 L142.1,236.3 L142.9,235.7 L142.3,234.7 L141.4,235.4 L140.1,236.3 L138.6,237.3 L137.0,238.5 L135.4,239.6 L133.9,240.7 L132.6,241.7 L131.2,242.8 L129.9,243.8 L128.6,244.8 L127.3,245.7 L125.8,246.5 L124.5,247.1 L123.1,247.5 L121.6,247.9 L120.0,248.4 L118.4,248.9 L116.8,249.6 L115.3,250.5 L114.0,251.6 L112.9,252.8 L111.8,254.2 L110.7,255.6 L109.7,257.0 L108.8,258.3 L107.8,259.6 L106.8,260.7 L105.7,261.8 L104.5,263.0 L103.2,264.1 L101.9,265.2 L100.7,266.3 L99.6,267.2 L98.6,268.0 L97.9,268.6Z" fill="#c2c3c5"/>
<path d="M117.1,250.9 L116.7,250.0 L116.0,249.0 L115.3,247.8 L114.4,246.4 L113.6,245.0 L112.8,243.4 L112.0,241.9 L111.4,240.4 L111.0,239.0 L110.7,237.6 L110.4,236.0 L110.3,234.4 L110.2,232.7 L110.1,231.1 L110.2,229.5 L110.3,227.9 L110.5,226.5 L110.8,225.3 L111.4,223.7 L112.2,222.5 L113.3,221.4 L114.5,220.2 L115.7,218.8 L116.7,217.2 L117.3,215.7 L117.9,214.0 L118.5,212.2 L119.1,210.3 L119.5,208.6 L120.0,207.0 L120.4,205.6 L120.6,204.7 L119.6,204.3 L119.2,205.3 L118.8,206.6 L118.4,208.2 L117.8,209.9 L117.2,211.7 L116.6,213.5 L116.0,215.1 L115.3,216.4 L114.4,217.9 L113.3,219.1 L112.1,220.2 L110.9,221.4 L109.8,222.9 L109.0,224.7 L108.7,226.2 L108.4,227.7 L108.3,229.3 L108.2,231.0 L108.1,232.8 L108.2,234.5 L108.3,236.3 L108.5,237.9 L108.8,239.6 L109.3,241.2 L109.9,242.8 L110.7,244.5 L111.5,246.1 L112.3,247.6 L113.1,249.1 L113.8,250.3 L114.4,251.3 L114.9,252.1Z" fill="#c2c3c5"/>
<path d="M99.1,271.3 L100.3,271.3 L101.8,271.2 L103.6,271.1 L105.6,271.1 L107.8,271.2 L109.1,271.3 L110.6,271.4 L112.2,271.5 L113.8,271.7 L115.5,271.9 L117.2,272.1 L118.9,272.4 L120.5,272.7 L122.0,273.0 L123.6,273.3 L125.2,273.8 L126.8,274.3 L128.4,274.9 L129.9,275.4 L131.4,275.9 L132.8,276.4 L134.2,276.8 L136.3,277.3 L138.2,277.8 L140.0,278.1 L141.4,278.4 L142.5,278.7 L142.7,277.5 L141.7,277.3 L140.2,276.9 L138.5,276.5 L136.6,276.0 L134.6,275.4 L133.3,275.0 L132.0,274.4 L130.5,273.9 L129.0,273.3 L127.4,272.6 L125.8,272.1 L124.1,271.5 L122.4,271.0 L120.9,270.7 L119.2,270.3 L117.6,270.0 L115.8,269.7 L114.1,269.4 L112.5,269.2 L110.9,269.0 L109.4,268.8 L108.0,268.6 L105.7,268.4 L103.5,268.4 L101.7,268.4 L100.2,268.4 L99.1,268.5Z" fill="#c2c3c5"/>
<path d="M97.6,270.7 L98.1,271.6 L98.8,272.8 L99.6,274.3 L100.6,275.9 L101.5,277.5 L102.5,279.0 L103.6,280.3 L104.7,281.6 L105.8,282.9 L106.8,284.1 L107.8,285.4 L108.7,286.9 L109.3,288.2 L109.9,289.5 L110.5,291.0 L111.1,292.5 L111.6,294.1 L112.1,295.7 L112.5,297.2 L113.0,298.7 L113.3,300.2 L113.5,301.8 L113.7,303.4 L113.8,305.0 L114.0,306.6 L114.3,308.2 L114.7,309.7 L115.3,311.2 L116.3,312.7 L117.6,314.2 L119.0,315.5 L120.5,316.8 L121.9,317.9 L123.0,318.7 L123.8,319.4 L124.6,318.6 L123.8,317.8 L122.7,316.9 L121.4,315.8 L120.0,314.5 L118.7,313.2 L117.5,311.8 L116.7,310.4 L116.3,309.2 L116.0,307.8 L115.8,306.4 L115.7,304.8 L115.6,303.2 L115.5,301.6 L115.3,299.9 L115.0,298.3 L114.7,296.7 L114.3,295.0 L113.8,293.4 L113.3,291.8 L112.8,290.2 L112.3,288.6 L111.7,287.1 L111.1,285.7 L110.1,284.0 L109.1,282.4 L108.0,281.0 L106.9,279.7 L106.0,278.5 L105.1,277.2 L104.2,275.8 L103.4,274.3 L102.5,272.7 L101.7,271.2 L101.1,270.0 L100.6,269.1Z" fill="#c2c3c5"/>
<path d="M111.7,289.7 L112.6,288.9 L113.8,287.6 L115.1,286.3 L116.6,285.4 L118.1,285.1 L119.1,285.2 L120.3,285.5 L121.6,286.0 L123.0,286.6 L124.4,287.3 L125.9,288.1 L127.3,289.0 L128.7,290.0 L130.0,290.9 L131.1,291.9 L132.3,293.1 L133.5,294.4 L134.7,295.8 L135.8,297.2 L136.9,298.6 L137.9,300.0 L138.8,301.1 L139.6,302.1 L140.2,302.9 L141.0,302.3 L140.4,301.6 L139.6,300.5 L138.8,299.3 L137.8,298.0 L136.7,296.5 L135.6,295.1 L134.4,293.6 L133.2,292.2 L132.0,290.9 L130.8,289.9 L129.5,288.8 L128.1,287.8 L126.7,286.8 L125.2,285.9 L123.7,285.1 L122.2,284.5 L120.8,283.9 L119.4,283.5 L118.1,283.3 L115.9,283.7 L114.0,284.8 L112.4,286.2 L111.2,287.5 L110.3,288.3Z" fill="#c2c3c5"/>
<path d="M113.3,297.7 L112.6,298.5 L111.5,299.5 L110.1,300.7 L108.7,302.0 L107.3,303.4 L106.1,304.9 L105.2,306.4 L104.4,308.2 L104.0,310.2 L103.7,312.2 L103.6,314.1 L103.4,315.7 L103.3,316.8 L104.3,317.0 L104.4,315.8 L104.6,314.2 L104.9,312.4 L105.2,310.5 L105.7,308.6 L106.4,307.0 L107.3,305.8 L108.5,304.5 L109.9,303.2 L111.3,302.0 L112.7,300.9 L113.9,300.0 L114.7,299.3Z" fill="#c2c3c5"/>
<circle cx="99.1" cy="269.9" r="5.8" fill="#c2c3c5"/>
<circle cx="99.1" cy="269.9" r="2.4" fill="#4d4d4f"/>
<path d="M166.3,120.4 L165.7,119.8 L165.0,119.0 L164.1,118.1 L163.1,117.1 L162.0,116.0 L160.8,114.9 L159.6,113.7 L158.3,112.4 L157.1,111.2 L155.8,110.0 L154.6,108.8 L153.4,107.7 L152.3,106.6 L151.2,105.5 L150.0,104.5 L148.8,103.4 L147.6,102.3 L146.4,101.3 L145.2,100.2 L144.0,99.2 L142.9,98.2 L141.8,97.3 L140.8,96.3 L139.8,95.4 L138.9,94.5 L137.7,93.1 L136.6,91.8 L135.6,90.5 L134.7,89.3 L133.7,88.0 L132.8,86.7 L131.7,85.5 L130.5,84.3 L129.2,83.2 L127.8,82.2 L126.4,81.4 L125.1,80.5 L123.7,79.7 L122.5,79.0 L121.3,78.1 L120.2,77.2 L119.0,76.1 L117.9,74.9 L116.8,73.6 L115.8,72.2 L114.8,70.9 L113.9,69.6 L113.1,68.4 L112.3,67.1 L111.6,65.8 L111.0,64.6 L110.5,63.3 L109.8,61.9 L108.9,60.4 L108.1,59.2 L107.2,57.8 L106.3,56.5 L105.4,55.1 L104.4,53.7 L103.4,52.4 L102.5,51.2 L101.5,50.1 L100.1,48.6 L98.6,47.4 L97.2,46.3 L96.0,45.5 L95.2,44.9 L94.2,46.1 L95.1,46.7 L96.2,47.6 L97.5,48.6 L98.9,49.9 L100.3,51.3 L101.1,52.3 L102.0,53.5 L102.9,54.8 L103.8,56.2 L104.7,57.5 L105.6,58.9 L106.4,60.2 L107.1,61.4 L107.9,62.8 L108.5,64.2 L109.0,65.5 L109.6,66.8 L110.3,68.2 L111.1,69.6 L112.0,70.9 L112.9,72.3 L113.8,73.7 L114.9,75.1 L116.0,76.5 L117.1,77.9 L118.4,79.2 L119.6,80.2 L120.9,81.2 L122.3,82.1 L123.6,82.9 L124.9,83.8 L126.2,84.6 L127.4,85.5 L128.5,86.5 L129.5,87.5 L130.4,88.6 L131.3,89.8 L132.1,91.1 L133.1,92.4 L134.1,93.8 L135.2,95.3 L136.5,96.7 L137.4,97.7 L138.4,98.7 L139.5,99.8 L140.6,100.8 L141.7,101.8 L142.8,102.9 L144.0,104.0 L145.1,105.0 L146.3,106.1 L147.4,107.2 L148.6,108.3 L149.7,109.4 L150.7,110.4 L151.9,111.6 L153.0,112.8 L154.2,114.0 L155.5,115.3 L156.7,116.5 L157.9,117.8 L159.0,119.0 L160.0,120.1 L161.0,121.1 L161.9,122.0 L162.6,122.8 L163.3,123.4Z" fill="#1f74bf"/>
<path d="M109.1,61.1 L109.3,59.9 L109.4,58.3 L109.6,56.4 L109.8,54.5 L109.8,52.7 L109.8,50.7 L109.7,48.6 L109.6,46.8 L109.6,45.5 L108.4,45.5 L108.4,46.8 L108.4,48.6 L108.3,50.6 L108.2,52.7 L107.9,54.3 L107.7,56.2 L107.3,58.0 L107.0,59.6 L106.9,60.7Z" fill="#1f74bf"/>
<path d="M142.0,98.1 L141.0,98.1 L139.8,98.2 L138.4,98.2 L136.8,98.3 L135.0,98.3 L133.1,98.3 L130.9,98.2 L129.7,98.1 L128.4,98.0 L127.0,97.9 L125.5,97.7 L123.9,97.6 L122.3,97.4 L120.7,97.2 L119.0,97.0 L117.3,96.9 L115.6,96.7 L113.8,96.6 L112.1,96.6 L110.4,96.6 L108.9,96.6 L107.4,96.7 L105.9,96.9 L104.3,97.0 L102.7,97.2 L101.2,97.4 L99.6,97.6 L98.1,97.9 L96.5,98.1 L95.0,98.3 L93.5,98.5 L92.0,98.7 L90.6,98.8 L89.2,98.9 L87.9,99.0 L86.1,99.1 L84.2,99.1 L82.4,99.0 L80.5,99.0 L78.7,98.9 L77.0,98.8 L75.4,98.7 L73.9,98.6 L72.6,98.5 L71.5,98.4 L70.5,98.3 L70.5,99.5 L71.4,99.5 L72.5,99.7 L73.8,99.8 L75.3,100.0 L76.9,100.1 L78.6,100.3 L80.4,100.5 L82.3,100.6 L84.2,100.7 L86.1,100.8 L87.9,100.8 L89.3,100.8 L90.7,100.7 L92.2,100.6 L93.7,100.5 L95.2,100.3 L96.8,100.2 L98.3,100.0 L99.9,99.8 L101.4,99.7 L103.0,99.5 L104.5,99.4 L106.0,99.3 L107.5,99.2 L109.0,99.2 L110.4,99.2 L112.0,99.3 L113.7,99.4 L115.3,99.5 L117.0,99.7 L118.7,99.9 L120.3,100.1 L121.9,100.4 L123.5,100.6 L125.1,100.9 L126.6,101.1 L128.0,101.3 L129.4,101.4 L130.7,101.6 L132.9,101.7 L135.0,101.8 L136.8,101.9 L138.5,101.9 L139.9,101.9 L141.1,101.9 L142.0,101.9Z" fill="#1f74bf"/>
<path d="M86.7,99.2 L86.1,98.1 L85.3,96.6 L84.3,94.9 L83.4,93.1 L82.6,91.6 L82.0,90.5 L81.4,90.9 L81.8,91.9 L82.5,93.5 L83.4,95.3 L84.2,97.2 L84.9,98.7 L85.3,99.8Z" fill="#1f74bf"/>
<path d="M166.6,121.0 L166.2,120.1 L165.5,119.0 L164.8,117.7 L164.0,116.2 L163.2,114.6 L162.3,112.9 L161.4,111.2 L160.5,109.6 L159.8,108.0 L159.1,106.6 L158.6,105.4 L157.9,103.5 L157.4,102.0 L157.1,100.5 L156.8,99.0 L156.5,97.4 L156.1,95.6 L155.9,94.3 L155.6,92.9 L155.3,91.4 L155.0,89.9 L154.7,88.4 L154.4,86.8 L154.0,85.3 L153.5,83.7 L153.0,82.2 L152.4,80.7 L151.8,79.3 L151.0,77.9 L150.2,76.5 L149.5,75.1 L148.7,73.8 L148.0,72.4 L147.4,71.1 L146.9,69.7 L146.5,68.3 L146.1,66.6 L145.8,64.9 L145.5,63.2 L145.2,61.5 L145.0,59.9 L144.9,58.5 L144.7,57.2 L144.6,56.3 L143.2,56.5 L143.3,57.4 L143.5,58.6 L143.6,60.0 L143.7,61.7 L143.9,63.4 L144.1,65.2 L144.4,66.9 L144.7,68.7 L145.1,70.3 L145.6,71.8 L146.2,73.3 L146.9,74.7 L147.6,76.1 L148.3,77.5 L149.0,78.9 L149.7,80.3 L150.3,81.6 L150.8,83.0 L151.2,84.4 L151.5,85.9 L151.8,87.4 L152.1,88.9 L152.3,90.4 L152.5,91.9 L152.8,93.4 L153.0,94.8 L153.3,96.2 L153.6,98.0 L153.8,99.5 L154.0,101.1 L154.3,102.7 L154.7,104.5 L155.4,106.6 L156.0,108.0 L156.6,109.5 L157.3,111.1 L158.1,112.8 L159.0,114.6 L159.8,116.3 L160.6,117.9 L161.3,119.5 L162.0,120.8 L162.6,121.9 L163.0,122.8Z" fill="#1f74bf"/>
<path d="M154.9,92.4 L155.3,91.4 L155.8,90.2 L156.4,88.7 L157.1,87.0 L157.7,85.2 L158.3,83.4 L158.8,81.7 L159.2,80.1 L159.4,78.4 L159.5,76.6 L159.4,74.7 L159.3,73.0 L159.2,71.5 L159.0,70.2 L159.0,69.3 L158.0,69.3 L158.0,70.3 L158.1,71.6 L158.2,73.1 L158.2,74.8 L158.2,76.5 L158.1,78.2 L157.8,79.9 L157.4,81.3 L156.8,82.9 L156.2,84.6 L155.4,86.3 L154.7,88.0 L154.0,89.4 L153.5,90.7 L153.1,91.6Z" fill="#1f74bf"/>
<path d="M164.9,120.2 L163.9,120.1 L162.5,120.1 L160.9,120.0 L159.1,119.9 L157.2,119.8 L155.2,119.7 L153.3,119.6 L151.6,119.5 L150.1,119.5 L148.2,119.3 L146.5,119.1 L144.8,118.9 L143.2,118.8 L141.5,118.8 L139.8,119.0 L138.1,119.4 L136.6,120.0 L135.1,120.7 L133.6,121.5 L132.0,122.4 L130.2,123.3 L129.0,123.9 L127.8,124.5 L126.5,125.2 L125.2,126.0 L123.8,126.7 L122.4,127.5 L120.9,128.3 L119.4,129.1 L117.8,129.9 L116.1,130.7 L114.8,131.2 L113.5,131.8 L112.1,132.4 L110.6,133.0 L109.2,133.6 L107.6,134.3 L106.1,134.9 L104.6,135.5 L103.0,136.1 L101.5,136.7 L100.0,137.4 L98.5,138.0 L97.1,138.5 L95.7,139.1 L94.1,139.8 L92.5,140.5 L90.8,141.2 L89.1,141.9 L87.5,142.6 L85.8,143.3 L84.3,144.0 L82.9,144.6 L81.5,145.2 L80.4,145.7 L79.3,146.1 L78.5,146.5 L78.9,147.3 L79.7,147.0 L80.7,146.6 L81.9,146.1 L83.3,145.6 L84.7,145.0 L86.3,144.4 L87.9,143.8 L89.6,143.1 L91.3,142.4 L93.0,141.8 L94.7,141.1 L96.3,140.5 L97.7,139.9 L99.1,139.4 L100.6,138.8 L102.1,138.3 L103.6,137.7 L105.2,137.1 L106.8,136.5 L108.3,135.9 L109.8,135.4 L111.4,134.8 L112.8,134.2 L114.3,133.6 L115.6,133.1 L116.9,132.5 L118.7,131.8 L120.3,131.0 L121.9,130.3 L123.4,129.5 L124.9,128.8 L126.3,128.0 L127.6,127.4 L128.9,126.7 L130.2,126.1 L131.4,125.5 L133.2,124.6 L134.8,123.8 L136.3,123.1 L137.6,122.5 L138.9,122.1 L140.2,121.8 L141.6,121.6 L143.0,121.7 L144.5,121.8 L146.1,122.1 L147.9,122.3 L149.9,122.5 L151.4,122.6 L153.2,122.8 L155.0,122.9 L157.0,123.1 L158.9,123.2 L160.7,123.3 L162.3,123.5 L163.7,123.6 L164.7,123.6Z" fill="#1f74bf"/>
<path d="M116.7,131.0 L116.1,131.9 L115.3,133.0 L114.4,134.4 L113.4,136.0 L112.4,137.6 L111.5,139.1 L110.8,140.5 L110.1,142.5 L109.7,144.4 L109.3,146.3 L109.1,147.8 L108.9,148.9 L109.7,149.1 L109.9,148.0 L110.3,146.4 L110.7,144.7 L111.3,142.8 L112.0,141.1 L112.7,139.8 L113.7,138.4 L114.7,136.9 L115.8,135.5 L116.8,134.1 L117.7,133.0 L118.3,132.2Z" fill="#1f74bf"/>
<path d="M161.9,121.1 L161.6,122.3 L161.2,123.9 L160.7,126.0 L160.2,128.1 L159.9,129.7 L159.6,131.4 L159.3,133.2 L159.0,134.9 L158.7,136.6 L158.3,138.3 L157.9,139.7 L157.4,141.1 L156.9,142.6 L156.4,144.1 L155.9,145.5 L155.4,147.0 L155.0,148.5 L154.5,150.0 L154.0,151.5 L153.5,153.0 L153.1,154.6 L152.8,156.4 L152.9,158.2 L153.3,160.0 L153.9,161.7 L154.7,163.3 L155.5,164.7 L156.2,166.0 L156.8,167.4 L157.3,168.7 L157.8,170.1 L158.3,171.5 L158.7,172.8 L159.0,174.2 L159.1,175.6 L159.1,177.0 L159.0,178.7 L158.7,180.4 L158.4,182.2 L158.1,183.9 L157.9,185.4 L157.5,187.3 L157.1,189.0 L156.7,190.9 L156.6,193.0 L156.8,194.8 L157.2,196.7 L157.7,198.7 L158.2,200.5 L158.6,202.2 L159.1,203.6 L160.1,205.5 L160.9,206.2 L162.1,204.6 L161.7,204.4 L160.9,202.8 L160.6,201.7 L160.3,200.0 L159.9,198.2 L159.5,196.3 L159.3,194.5 L159.2,193.0 L159.3,191.2 L159.7,189.7 L160.2,188.0 L160.7,186.0 L161.0,184.4 L161.4,182.8 L161.8,181.0 L162.2,179.1 L162.4,177.3 L162.5,175.4 L162.4,173.7 L162.1,172.1 L161.8,170.5 L161.3,169.0 L160.9,167.5 L160.4,166.0 L159.8,164.4 L159.1,162.9 L158.3,161.4 L157.7,160.1 L157.3,158.9 L157.1,157.8 L157.2,156.7 L157.4,155.6 L157.8,154.4 L158.3,153.0 L158.9,151.5 L159.4,149.9 L159.9,148.6 L160.4,147.2 L161.0,145.8 L161.6,144.3 L162.2,142.8 L162.8,141.3 L163.3,139.7 L163.8,137.9 L164.3,136.0 L164.7,134.2 L165.1,132.5 L165.4,130.9 L165.8,129.5 L166.4,127.4 L166.9,125.5 L167.4,123.9 L167.7,122.7Z" fill="#1f74bf"/>
<path d="M157.1,192.4 L156.3,193.6 L155.2,195.3 L153.8,196.8 L152.3,197.7 L150.5,198.6 L148.8,199.4 L147.6,199.9 L147.8,200.7 L149.1,200.2 L150.9,199.6 L152.9,198.9 L154.6,198.0 L156.4,196.4 L157.8,194.8 L158.7,193.6Z" fill="#1f74bf"/>
<path d="M155.9,148.0 L155.0,148.1 L153.7,148.1 L152.1,148.2 L150.4,148.2 L148.6,148.4 L146.8,148.5 L145.2,148.8 L143.5,149.1 L141.9,149.5 L140.4,150.0 L138.8,150.5 L137.3,151.2 L135.8,152.1 L134.3,153.2 L133.0,154.4 L131.7,155.7 L130.5,157.0 L129.3,158.5 L128.2,160.0 L127.2,161.4 L126.3,162.9 L125.4,164.4 L124.6,166.0 L123.8,167.6 L123.1,169.1 L122.4,170.6 L121.8,172.3 L121.4,173.9 L121.0,175.5 L120.7,176.9 L120.3,178.2 L119.8,179.4 L118.9,180.7 L117.9,181.9 L116.8,183.0 L115.6,184.0 L114.3,185.0 L113.0,185.7 L111.6,186.4 L110.2,186.9 L108.7,187.4 L107.3,187.9 L105.5,188.5 L103.7,188.9 L102.0,189.3 L100.9,189.5 L101.1,190.7 L102.3,190.4 L103.9,190.1 L105.8,189.8 L107.7,189.3 L109.2,188.9 L110.7,188.4 L112.2,187.9 L113.8,187.2 L115.3,186.4 L116.7,185.5 L118.0,184.4 L119.3,183.3 L120.5,181.9 L121.6,180.4 L122.3,179.0 L122.9,177.6 L123.3,176.1 L123.7,174.6 L124.1,173.1 L124.8,171.6 L125.4,170.3 L126.2,168.8 L127.0,167.3 L127.9,165.8 L128.8,164.4 L129.7,163.0 L130.6,161.8 L131.7,160.4 L132.9,159.1 L134.0,157.9 L135.2,156.8 L136.4,155.9 L137.6,155.1 L138.9,154.4 L140.1,153.9 L141.4,153.5 L142.8,153.2 L144.3,152.9 L145.8,152.6 L147.2,152.5 L148.8,152.4 L150.5,152.3 L152.2,152.3 L153.7,152.4 L155.1,152.4 L156.1,152.4Z" fill="#1f74bf"/>
<path d="M163.0,123.1 L163.5,123.8 L164.1,124.8 L164.9,126.1 L165.8,127.5 L166.9,129.0 L168.0,130.5 L169.2,131.9 L170.2,133.1 L171.3,134.2 L172.5,135.4 L173.8,136.7 L175.0,137.9 L176.3,139.0 L177.5,140.2 L178.7,141.2 L179.8,142.1 L181.2,143.3 L182.5,144.4 L183.8,145.5 L185.2,146.4 L186.7,147.2 L188.6,147.9 L190.0,148.2 L191.6,148.5 L193.3,148.7 L195.0,148.8 L196.8,148.9 L198.5,148.9 L200.2,148.9 L201.7,148.9 L203.1,148.9 L205.0,148.8 L206.8,148.5 L208.4,148.1 L209.8,147.8 L211.1,147.5 L212.3,147.4 L214.0,147.4 L215.5,147.6 L217.0,147.9 L218.6,148.5 L219.9,149.1 L221.3,150.0 L222.9,151.1 L224.3,152.1 L225.6,153.0 L226.5,153.6 L227.1,152.6 L226.3,152.0 L225.1,151.1 L223.6,150.0 L222.1,148.9 L220.6,147.9 L219.2,147.1 L217.5,146.4 L215.8,145.9 L214.2,145.7 L212.3,145.6 L210.9,145.7 L209.4,145.9 L208.0,146.2 L206.4,146.4 L204.8,146.6 L203.1,146.7 L201.7,146.6 L200.2,146.6 L198.6,146.5 L196.9,146.4 L195.2,146.2 L193.6,146.0 L192.0,145.8 L190.6,145.5 L189.4,145.1 L187.9,144.5 L186.7,143.8 L185.6,143.0 L184.6,142.1 L183.4,141.0 L182.0,139.7 L180.9,138.7 L179.8,137.7 L178.7,136.5 L177.5,135.3 L176.3,134.1 L175.2,132.9 L174.1,131.7 L173.1,130.5 L172.2,129.5 L171.2,128.1 L170.2,126.7 L169.3,125.2 L168.5,123.9 L167.8,122.6 L167.1,121.6 L166.6,120.7Z" fill="#1f74bf"/>
<path d="M187.7,148.6 L188.2,149.7 L189.0,151.4 L190.1,153.7 L190.7,154.9 L191.4,156.4 L192.1,158.0 L192.9,159.7 L193.8,161.4 L194.8,162.9 L195.8,164.3 L197.0,165.5 L198.2,166.6 L199.5,167.5 L200.9,168.3 L202.5,169.0 L204.3,169.6 L205.7,169.9 L207.4,170.1 L209.3,170.3 L211.2,170.4 L213.1,170.5 L214.9,170.5 L216.5,170.6 L217.9,170.6 L218.9,170.7 L218.9,169.7 L217.9,169.6 L216.6,169.5 L215.0,169.4 L213.2,169.3 L211.3,169.1 L209.4,168.9 L207.6,168.7 L206.0,168.4 L204.7,168.0 L203.1,167.4 L201.7,166.7 L200.5,166.0 L199.4,165.1 L198.4,164.1 L197.4,162.9 L196.6,161.7 L195.8,160.3 L195.0,158.7 L194.3,157.0 L193.7,155.4 L193.1,153.8 L192.5,152.5 L191.5,150.2 L190.8,148.6 L190.3,147.4Z" fill="#1f74bf"/>
<path d="M164.3,123.7 L165.1,123.9 L166.2,124.3 L167.5,124.6 L169.0,125.1 L170.6,125.5 L172.3,126.0 L174.0,126.5 L175.7,126.9 L177.4,127.4 L179.0,127.8 L180.5,128.1 L182.3,128.5 L184.1,128.8 L185.8,129.1 L187.6,129.3 L189.2,129.5 L190.8,129.8 L192.3,130.0 L193.7,130.3 L194.8,130.6 L196.4,131.2 L197.6,132.0 L198.7,132.8 L199.8,133.6 L201.2,134.4 L202.7,135.1 L204.2,135.5 L205.7,135.7 L207.3,135.9 L208.8,136.0 L210.4,136.1 L212.0,136.2 L213.6,136.3 L215.3,136.3 L216.9,136.3 L218.5,136.3 L220.2,136.3 L221.8,136.4 L223.6,136.5 L225.4,136.7 L226.8,137.0 L228.3,137.3 L229.9,137.7 L231.6,138.2 L233.3,138.6 L235.0,139.1 L236.5,139.5 L237.8,139.9 L239.0,140.2 L239.9,140.5 L240.1,139.5 L239.3,139.3 L238.1,138.9 L236.8,138.5 L235.3,138.0 L233.7,137.5 L232.0,137.0 L230.3,136.4 L228.6,136.0 L227.1,135.6 L225.6,135.3 L223.8,135.0 L222.0,134.8 L220.2,134.7 L218.5,134.6 L216.9,134.5 L215.3,134.5 L213.8,134.3 L212.2,134.2 L210.6,134.1 L209.0,133.9 L207.5,133.8 L206.1,133.5 L204.7,133.3 L203.5,132.9 L202.3,132.4 L201.2,131.7 L200.2,130.8 L199.0,129.9 L197.5,129.0 L195.8,128.2 L194.3,127.7 L192.9,127.4 L191.3,127.0 L189.7,126.7 L188.0,126.4 L186.3,126.1 L184.6,125.8 L182.9,125.5 L181.3,125.1 L179.9,124.7 L178.3,124.2 L176.7,123.7 L175.0,123.2 L173.3,122.7 L171.6,122.1 L170.1,121.6 L168.6,121.2 L167.3,120.7 L166.2,120.4 L165.3,120.1Z" fill="#1f74bf"/>
<path d="M225.9,136.6 L226.8,136.0 L228.2,135.2 L229.7,134.2 L231.3,133.2 L232.7,132.3 L233.6,131.7 L233.2,131.1 L232.2,131.6 L230.8,132.3 L229.2,133.2 L227.5,134.1 L226.1,134.9 L225.1,135.4Z" fill="#1f74bf"/>
<path d="M165.0,124.2 L166.0,124.1 L167.4,124.0 L169.0,123.8 L170.8,123.6 L172.7,123.5 L174.6,123.3 L176.4,123.1 L178.1,123.0 L179.6,123.0 L181.0,122.9 L182.5,122.9 L184.0,123.0 L185.5,123.0 L187.0,122.9 L188.6,122.8 L190.2,122.7 L191.8,122.4 L193.5,122.2 L195.3,121.8 L197.0,121.5 L198.8,121.1 L200.4,120.7 L202.1,120.2 L203.6,119.7 L205.4,119.0 L207.0,118.1 L208.5,117.3 L209.8,116.4 L211.2,115.6 L212.8,114.9 L214.1,114.3 L215.6,113.6 L217.2,113.0 L218.7,112.4 L220.3,111.8 L221.7,111.3 L223.1,110.9 L224.3,110.7 L226.0,110.5 L227.3,110.6 L228.6,110.8 L230.1,111.3 L231.7,111.8 L233.2,112.3 L234.8,112.9 L236.6,113.6 L238.4,114.4 L240.0,115.1 L241.4,115.7 L242.4,116.1 L242.8,115.1 L241.9,114.6 L240.5,114.0 L238.9,113.2 L237.2,112.3 L235.4,111.5 L233.7,110.8 L232.3,110.2 L230.6,109.6 L229.1,109.1 L227.6,108.8 L226.0,108.6 L224.1,108.7 L222.7,108.9 L221.2,109.3 L219.6,109.8 L218.0,110.3 L216.3,110.8 L214.7,111.4 L213.2,112.0 L211.8,112.5 L210.1,113.3 L208.5,114.1 L207.1,114.9 L205.7,115.6 L204.3,116.3 L202.6,116.9 L201.2,117.3 L199.7,117.6 L198.1,118.0 L196.4,118.3 L194.7,118.6 L193.0,118.8 L191.4,119.0 L189.8,119.1 L188.3,119.2 L186.9,119.2 L185.5,119.2 L184.1,119.2 L182.6,119.1 L181.1,119.0 L179.5,119.0 L177.9,119.0 L176.2,119.0 L174.3,119.1 L172.4,119.2 L170.5,119.3 L168.7,119.4 L167.0,119.5 L165.7,119.5 L164.6,119.6Z" fill="#1f74bf"/>
<path d="M212.1,112.5 L212.3,111.6 L212.5,110.3 L212.6,108.9 L212.9,107.2 L213.1,105.6 L213.5,103.9 L213.9,102.3 L214.4,100.9 L215.2,99.5 L216.1,98.0 L217.1,96.4 L218.3,94.9 L219.4,93.5 L220.4,92.2 L221.2,91.1 L221.9,90.3 L221.1,89.7 L220.5,90.5 L219.6,91.5 L218.5,92.7 L217.3,94.1 L216.1,95.6 L214.9,97.1 L213.8,98.7 L213.0,100.1 L212.3,101.7 L211.7,103.4 L211.2,105.1 L210.9,106.9 L210.5,108.5 L210.3,110.0 L210.1,111.2 L209.9,112.1Z" fill="#1f74bf"/>
<circle cx="164.8" cy="121.9" r="7" fill="#1f74bf"/>
<circle cx="164.8" cy="121.9" r="2.4" fill="#4d4d4f"/>
<path d="M155.6,230.2 L155.6,229.3 L155.6,228.0 L155.6,226.6 L155.7,224.9 L155.6,223.1 L155.6,221.3 L155.6,219.3 L155.6,217.4 L155.5,215.5 L155.5,213.8 L155.4,212.2 L155.3,210.6 L155.2,208.9 L155.0,207.3 L154.9,205.6 L154.8,203.9 L154.6,202.3 L154.5,200.7 L154.3,199.1 L154.1,197.6 L153.9,196.2 L153.6,194.2 L153.2,192.4 L152.8,190.6 L152.4,188.9 L152.0,187.4 L151.7,185.9 L151.5,184.5 L151.5,183.2 L151.8,181.5 L152.5,179.9 L153.3,178.3 L154.2,176.8 L155.0,175.6 L155.5,174.7 L154.5,174.1 L153.9,175.0 L153.1,176.1 L152.1,177.6 L151.2,179.2 L150.4,181.1 L149.9,183.0 L149.8,184.5 L149.9,186.1 L150.2,187.7 L150.5,189.4 L150.8,191.1 L151.2,192.8 L151.5,194.6 L151.7,196.4 L151.8,197.8 L151.9,199.3 L152.0,200.9 L152.0,202.5 L152.1,204.1 L152.2,205.8 L152.2,207.4 L152.3,209.1 L152.3,210.7 L152.3,212.3 L152.3,213.8 L152.3,215.6 L152.3,217.4 L152.2,219.3 L152.2,221.2 L152.1,223.1 L152.0,224.8 L151.9,226.5 L151.9,227.9 L151.8,229.2 L151.8,230.2Z" fill="#f15a29"/>
<path d="M152.5,192.8 L153.5,192.1 L155.0,191.2 L156.7,190.1 L158.4,189.0 L159.8,188.0 L161.2,186.7 L162.4,185.3 L163.4,184.2 L164.1,183.4 L163.5,182.8 L162.8,183.6 L161.7,184.7 L160.4,185.9 L159.0,187.0 L157.6,187.9 L155.9,188.9 L154.2,189.8 L152.6,190.6 L151.5,191.2Z" fill="#f15a29"/>
<path d="M151.3,182.6 L150.4,181.7 L149.3,180.5 L148.2,179.1 L147.6,177.9 L147.6,176.5 L148.0,174.8 L148.5,173.2 L148.9,172.1 L148.1,171.9 L147.7,173.0 L147.1,174.5 L146.5,176.3 L146.4,178.1 L147.1,179.8 L148.2,181.3 L149.4,182.7 L150.1,183.6Z" fill="#f15a29"/>
<path d="M155.0,231.3 L155.6,230.5 L156.3,229.5 L157.2,228.4 L158.3,227.1 L159.4,225.7 L160.5,224.3 L161.6,222.9 L162.8,221.5 L163.8,220.2 L164.8,219.1 L165.9,217.9 L167.2,216.8 L168.5,215.7 L169.7,214.7 L171.0,213.6 L172.1,212.4 L173.0,211.2 L173.7,209.7 L173.9,208.0 L173.7,206.2 L173.2,204.6 L172.5,203.0 L171.9,201.4 L171.5,199.9 L171.3,198.5 L171.3,197.0 L171.5,195.4 L171.9,193.9 L172.2,192.2 L172.6,190.7 L173.0,189.1 L173.2,187.6 L173.5,185.6 L173.7,183.5 L173.9,181.6 L174.0,180.0 L174.1,178.8 L173.1,178.8 L173.0,179.9 L172.8,181.5 L172.6,183.4 L172.3,185.4 L172.0,187.4 L171.6,188.8 L171.2,190.3 L170.8,191.9 L170.3,193.5 L169.9,195.1 L169.7,196.8 L169.5,198.5 L169.7,200.3 L170.1,202.0 L170.7,203.6 L171.2,205.2 L171.6,206.7 L171.8,207.9 L171.5,209.1 L171.1,210.0 L170.3,210.9 L169.4,211.8 L168.2,212.8 L166.9,213.8 L165.5,214.8 L164.1,216.0 L162.8,217.3 L161.8,218.4 L160.6,219.7 L159.4,221.0 L158.2,222.4 L157.0,223.8 L155.9,225.1 L154.8,226.4 L153.9,227.5 L153.1,228.4 L152.4,229.1Z" fill="#f15a29"/>
<path d="M171.0,199.4 L171.8,198.8 L172.9,198.0 L174.2,197.0 L175.6,196.0 L177.1,194.8 L178.4,193.6 L179.7,192.5 L180.7,191.2 L181.8,189.8 L182.7,188.4 L183.7,187.0 L184.5,185.7 L185.3,184.5 L186.1,183.4 L187.4,181.9 L188.6,180.7 L189.6,179.8 L190.4,179.1 L189.8,178.5 L189.1,179.2 L188.0,180.1 L186.7,181.3 L185.3,182.8 L184.4,183.8 L183.5,185.0 L182.6,186.3 L181.6,187.7 L180.6,189.0 L179.6,190.2 L178.5,191.3 L177.3,192.4 L176.0,193.5 L174.5,194.5 L173.1,195.5 L171.7,196.3 L170.6,197.1 L169.8,197.6Z" fill="#f15a29"/>
<path d="M154.9,231.3 L155.5,230.7 L156.3,229.8 L157.2,228.8 L158.2,227.6 L159.2,226.4 L160.3,225.1 L161.5,223.8 L162.8,222.5 L164.0,221.2 L165.3,220.0 L166.5,218.9 L167.7,217.9 L168.9,217.1 L170.1,216.3 L171.5,215.6 L173.0,215.0 L174.5,214.5 L176.0,214.0 L177.6,213.6 L179.1,213.2 L180.6,212.8 L182.1,212.5 L183.5,212.1 L184.8,211.7 L186.0,211.3 L187.9,210.7 L189.5,210.2 L191.0,209.8 L192.3,209.3 L193.5,208.7 L194.8,207.7 L196.0,206.6 L197.1,205.3 L198.2,203.7 L199.2,202.2 L200.1,200.8 L200.8,199.6 L201.4,198.8 L200.6,198.2 L200.0,199.1 L199.2,200.2 L198.3,201.6 L197.2,203.0 L196.1,204.5 L195.0,205.7 L194.0,206.7 L192.8,207.4 L191.7,207.9 L190.5,208.3 L189.1,208.7 L187.4,209.1 L185.4,209.7 L184.3,210.0 L183.0,210.3 L181.7,210.6 L180.2,210.9 L178.6,211.2 L177.1,211.5 L175.4,211.9 L173.8,212.4 L172.2,212.9 L170.6,213.5 L169.0,214.1 L167.5,214.9 L166.2,215.8 L164.8,216.8 L163.5,218.0 L162.1,219.2 L160.7,220.5 L159.4,221.8 L158.2,223.1 L157.0,224.4 L155.8,225.6 L154.8,226.7 L153.9,227.6 L153.1,228.4 L152.5,229.1Z" fill="#f15a29"/>
<path d="M185.2,211.4 L186.3,212.0 L187.8,212.7 L189.7,213.6 L192.0,214.5 L193.3,215.0 L195.0,215.6 L196.7,216.2 L198.5,216.8 L200.3,217.3 L201.9,217.8 L203.2,218.3 L204.2,218.6 L204.4,217.8 L203.5,217.5 L202.2,216.9 L200.6,216.3 L198.9,215.7 L197.2,215.0 L195.4,214.3 L193.9,213.6 L192.6,213.1 L190.5,212.0 L188.7,211.0 L187.2,210.2 L186.2,209.6Z" fill="#f15a29"/>
<path d="M154.7,228.7 L153.9,228.2 L152.8,227.5 L151.5,226.8 L150.1,225.9 L148.6,225.0 L147.1,224.1 L145.6,223.1 L144.1,222.1 L142.8,221.2 L141.5,220.4 L140.2,219.5 L138.9,218.6 L137.6,217.7 L136.4,216.8 L135.2,215.8 L134.0,214.9 L132.9,213.9 L132.0,213.0 L131.0,211.8 L130.0,210.4 L129.2,209.0 L128.3,207.6 L127.5,206.2 L126.8,204.8 L126.0,203.4 L125.3,202.3 L124.2,200.6 L123.3,199.1 L122.4,197.7 L121.5,196.5 L120.2,195.4 L118.2,195.7 L116.3,195.5 L115.8,194.9 L114.8,193.8 L113.7,192.5 L112.6,191.0 L111.4,189.5 L110.3,188.1 L109.3,186.7 L108.5,185.6 L107.1,183.9 L105.9,182.5 L105.0,181.5 L104.4,180.7 L103.6,181.3 L104.2,182.1 L105.1,183.2 L106.2,184.6 L107.5,186.4 L108.3,187.5 L109.3,188.8 L110.3,190.3 L111.4,191.9 L112.5,193.4 L113.6,194.8 L114.6,196.0 L115.7,197.1 L118.2,197.4 L119.8,197.2 L120.1,197.7 L120.8,198.8 L121.6,200.1 L122.5,201.6 L123.5,203.3 L124.1,204.5 L124.8,205.8 L125.5,207.2 L126.3,208.7 L127.1,210.2 L128.0,211.8 L128.9,213.3 L130.0,214.6 L131.1,215.8 L132.2,216.9 L133.4,218.0 L134.6,219.0 L135.9,220.0 L137.2,220.9 L138.5,221.9 L139.7,222.8 L141.0,223.8 L142.3,224.7 L143.8,225.8 L145.3,226.8 L146.8,227.8 L148.3,228.8 L149.7,229.7 L150.9,230.5 L151.9,231.2 L152.7,231.7Z" fill="#f15a29"/>
<path d="M141.7,221.0 L140.8,221.1 L139.6,221.3 L138.3,221.5 L136.8,221.7 L135.1,221.9 L133.4,222.2 L131.5,222.4 L129.7,222.7 L127.8,222.9 L125.9,223.2 L124.1,223.4 L122.4,223.6 L120.8,223.7 L119.4,223.8 L118.1,223.9 L116.1,223.9 L114.3,223.8 L112.9,223.7 L111.6,223.5 L110.3,223.2 L109.0,222.9 L107.6,222.5 L106.1,222.0 L104.8,221.6 L103.4,221.0 L102.0,220.3 L100.5,219.5 L99.0,218.7 L97.5,218.0 L96.0,217.3 L94.5,216.7 L93.0,216.3 L91.5,216.1 L89.7,216.2 L87.9,216.6 L86.0,217.2 L84.3,217.9 L82.7,218.7 L81.2,219.5 L80.0,220.1 L79.1,220.4 L79.5,221.4 L80.4,221.0 L81.7,220.4 L83.1,219.7 L84.7,219.0 L86.4,218.3 L88.2,217.8 L89.9,217.5 L91.5,217.5 L92.7,217.7 L94.0,218.1 L95.4,218.7 L96.8,219.4 L98.3,220.2 L99.7,221.0 L101.2,221.8 L102.7,222.6 L104.1,223.2 L105.5,223.8 L107.1,224.3 L108.5,224.8 L109.8,225.2 L111.2,225.5 L112.6,225.8 L114.2,226.0 L116.0,226.1 L118.1,226.1 L119.5,226.1 L121.0,226.0 L122.6,225.9 L124.4,225.8 L126.2,225.7 L128.1,225.5 L130.0,225.3 L131.9,225.1 L133.7,224.9 L135.5,224.7 L137.1,224.5 L138.7,224.3 L140.0,224.2 L141.2,224.1 L142.1,224.0Z" fill="#f15a29"/>
<path d="M152.6,229.5 L152.0,230.4 L151.3,231.6 L150.6,233.0 L149.7,234.4 L148.6,235.9 L147.4,237.2 L146.0,238.4 L145.0,239.0 L143.8,239.7 L142.4,240.3 L140.9,241.0 L139.3,241.6 L137.7,242.3 L136.1,242.8 L134.5,243.3 L133.0,243.8 L131.6,244.2 L130.2,244.5 L128.6,244.8 L127.0,245.0 L125.5,245.0 L124.0,245.0 L122.5,244.9 L121.1,244.8 L119.5,244.7 L118.0,244.7 L116.4,244.7 L114.6,244.8 L112.9,244.8 L111.1,244.8 L109.5,244.9 L108.0,244.9 L106.7,244.9 L105.8,244.9 L105.8,245.9 L106.7,245.9 L108.0,245.9 L109.5,245.9 L111.1,246.0 L112.9,246.0 L114.6,246.0 L116.4,246.1 L118.0,246.1 L119.5,246.1 L120.9,246.3 L122.4,246.4 L123.9,246.6 L125.4,246.7 L127.1,246.7 L128.8,246.5 L130.6,246.3 L132.0,246.0 L133.5,245.6 L135.1,245.2 L136.7,244.7 L138.4,244.2 L140.1,243.6 L141.7,243.0 L143.3,242.3 L144.7,241.7 L146.1,241.0 L147.4,240.2 L149.1,239.0 L150.5,237.4 L151.8,235.8 L152.8,234.3 L153.6,232.9 L154.3,231.7 L154.8,230.9Z" fill="#f15a29"/>
<path d="M117.5,246.6 L116.7,247.2 L115.7,248.0 L114.5,249.0 L113.2,250.0 L111.8,251.1 L110.3,252.2 L108.8,253.2 L107.2,254.2 L105.5,254.9 L104.2,255.3 L102.7,255.8 L101.1,256.2 L99.3,256.5 L97.5,256.8 L95.8,257.1 L94.0,257.4 L92.3,257.6 L90.8,257.8 L89.4,258.0 L88.3,258.2 L87.3,258.3 L87.5,259.1 L88.4,259.0 L89.5,258.8 L90.9,258.7 L92.5,258.6 L94.1,258.4 L95.9,258.2 L97.7,258.0 L99.5,257.7 L101.3,257.5 L103.0,257.1 L104.6,256.7 L106.1,256.3 L107.8,255.6 L109.6,254.7 L111.3,253.7 L112.9,252.6 L114.4,251.5 L115.7,250.5 L116.9,249.6 L117.9,248.8 L118.7,248.2Z" fill="#f15a29"/>
<path d="M152.1,229.9 L151.9,230.9 L151.8,232.1 L151.6,233.5 L151.4,235.1 L151.1,236.8 L150.9,238.6 L150.6,240.4 L150.3,242.2 L150.0,244.0 L149.7,245.6 L149.4,247.1 L149.1,248.9 L148.8,250.6 L148.5,252.3 L148.2,253.9 L147.9,255.5 L147.5,257.0 L147.0,258.4 L146.5,259.7 L145.7,261.0 L144.9,262.1 L144.0,263.2 L142.9,264.2 L141.7,265.1 L140.4,266.1 L139.1,267.1 L137.7,268.1 L136.4,269.1 L135.0,270.2 L133.8,271.3 L132.6,272.4 L131.5,273.5 L130.4,274.7 L129.3,275.9 L128.2,277.1 L127.2,278.3 L126.1,279.4 L125.0,280.6 L123.9,281.7 L122.8,282.7 L121.8,283.7 L120.4,284.8 L118.9,285.9 L117.3,287.0 L115.7,288.1 L114.2,289.1 L112.8,290.0 L111.5,290.8 L110.5,291.4 L109.6,292.0 L110.2,292.8 L111.0,292.3 L112.1,291.6 L113.4,290.9 L114.8,290.0 L116.4,289.1 L118.0,288.0 L119.6,287.0 L121.2,285.9 L122.6,284.7 L123.8,283.8 L124.9,282.7 L126.1,281.7 L127.2,280.5 L128.3,279.4 L129.5,278.2 L130.6,277.1 L131.7,275.9 L132.8,274.8 L133.9,273.7 L135.0,272.7 L136.3,271.7 L137.6,270.7 L138.9,269.7 L140.3,268.8 L141.7,267.8 L143.0,266.9 L144.3,265.9 L145.6,264.8 L146.7,263.6 L147.7,262.4 L148.6,260.9 L149.3,259.3 L149.9,257.7 L150.4,256.1 L150.8,254.4 L151.1,252.8 L151.5,251.1 L151.8,249.4 L152.2,247.7 L152.5,246.2 L152.9,244.5 L153.2,242.7 L153.5,240.9 L153.9,239.1 L154.2,237.3 L154.5,235.5 L154.7,234.0 L155.0,232.6 L155.2,231.4 L155.3,230.5Z" fill="#f15a29"/>
<path d="M145.5,262.2 L145.9,263.2 L146.5,264.3 L147.2,265.7 L147.9,267.3 L148.6,268.9 L149.2,270.6 L149.7,272.3 L149.9,273.6 L150.2,275.0 L150.4,276.5 L150.5,278.1 L150.6,279.7 L150.7,281.4 L150.8,283.0 L150.8,284.7 L150.9,286.3 L150.9,287.8 L150.8,289.3 L150.7,290.8 L150.6,292.4 L150.5,294.0 L150.3,295.5 L150.2,297.1 L150.1,298.6 L150.0,300.0 L150.0,301.4 L150.1,303.3 L150.3,305.2 L150.5,307.0 L150.7,308.7 L151.0,310.2 L151.2,311.4 L151.3,312.4 L152.3,312.2 L152.2,311.3 L152.0,310.0 L151.8,308.5 L151.6,306.9 L151.5,305.1 L151.4,303.2 L151.4,301.4 L151.4,300.1 L151.5,298.7 L151.7,297.2 L151.8,295.7 L152.0,294.1 L152.2,292.6 L152.4,291.0 L152.6,289.4 L152.7,287.8 L152.7,286.3 L152.7,284.6 L152.8,283.0 L152.7,281.3 L152.7,279.6 L152.6,278.0 L152.5,276.3 L152.4,274.8 L152.2,273.2 L151.9,271.7 L151.5,269.9 L150.9,268.0 L150.2,266.3 L149.5,264.6 L148.8,263.2 L148.3,262.0 L147.9,261.2Z" fill="#f15a29"/>
<path d="M152.0,245.9 L152.6,246.6 L153.4,247.4 L154.4,248.4 L155.5,249.6 L156.6,250.8 L157.8,252.1 L159.0,253.4 L160.1,254.7 L161.2,255.9 L162.1,257.1 L162.9,258.2 L163.8,259.7 L164.5,261.2 L165.1,262.6 L165.6,264.0 L166.1,265.6 L166.7,267.2 L167.4,268.8 L168.1,270.3 L168.8,271.8 L169.6,273.4 L170.4,275.0 L171.2,276.6 L172.0,278.2 L172.8,279.6 L173.5,280.9 L174.2,282.0 L175.6,283.9 L177.0,285.1 L178.1,285.8 L178.8,286.4 L179.4,285.6 L178.7,285.0 L177.6,284.3 L176.5,283.1 L175.2,281.4 L174.6,280.3 L173.9,279.0 L173.2,277.6 L172.5,276.0 L171.7,274.4 L171.0,272.7 L170.3,271.1 L169.6,269.6 L169.0,268.2 L168.3,266.5 L167.8,265.0 L167.4,263.5 L166.9,262.0 L166.4,260.4 L165.7,258.7 L164.7,257.0 L163.9,255.8 L163.0,254.6 L161.9,253.2 L160.8,251.8 L159.6,250.5 L158.5,249.1 L157.3,247.9 L156.3,246.7 L155.4,245.7 L154.6,244.8 L154.0,244.1Z" fill="#f15a29"/>
<path d="M165.9,262.7 L166.9,262.9 L168.5,263.2 L170.4,263.5 L172.3,263.8 L174.2,264.1 L175.7,264.4 L176.8,264.6 L177.0,263.8 L175.9,263.6 L174.4,263.2 L172.5,262.8 L170.6,262.3 L168.8,261.9 L167.2,261.5 L166.1,261.3Z" fill="#f15a29"/>
<circle cx="153.7" cy="230.2" r="5.6" fill="#f15a29"/>
<circle cx="153.7" cy="230.2" r="2.3" fill="#4d4d4f"/>
<path d="M194.0,290.3 L194.4,289.5 L195.0,288.4 L195.6,287.2 L196.3,285.8 L197.1,284.4 L197.9,282.9 L198.8,281.4 L199.7,279.9 L200.5,278.5 L201.4,277.2 L202.2,276.1 L203.2,275.0 L204.3,273.9 L205.5,272.8 L206.6,271.8 L207.8,270.9 L209.0,270.0 L210.3,269.1 L211.5,268.2 L212.7,267.4 L214.1,266.4 L215.4,265.5 L216.7,264.6 L218.0,263.8 L219.4,262.9 L220.7,262.2 L222.0,261.4 L223.3,260.7 L224.9,259.9 L226.5,259.2 L228.1,258.5 L229.7,257.8 L231.3,257.2 L232.8,256.6 L234.1,256.1 L236.0,255.5 L237.7,254.9 L239.3,254.4 L240.7,254.1 L241.7,253.8 L241.3,252.6 L240.4,252.9 L239.0,253.2 L237.4,253.6 L235.5,254.1 L233.7,254.7 L232.2,255.2 L230.7,255.7 L229.1,256.2 L227.5,256.8 L225.8,257.5 L224.1,258.2 L222.5,258.9 L221.1,259.6 L219.7,260.3 L218.3,261.0 L216.9,261.8 L215.5,262.6 L214.1,263.4 L212.7,264.3 L211.3,265.2 L210.0,266.1 L208.8,266.9 L207.5,267.7 L206.2,268.6 L204.9,269.5 L203.5,270.5 L202.3,271.6 L201.0,272.8 L199.8,274.1 L198.8,275.3 L197.8,276.6 L196.8,278.1 L195.8,279.6 L194.9,281.1 L194.0,282.6 L193.1,284.1 L192.3,285.4 L191.7,286.6 L191.1,287.6 L190.6,288.3Z" fill="#1a9e40"/>
<path d="M231.8,256.4 L232.3,255.2 L232.9,253.5 L233.6,251.6 L234.3,249.6 L234.9,247.9 L235.4,246.8 L234.6,246.4 L234.1,247.6 L233.3,249.2 L232.4,251.0 L231.5,252.9 L230.7,254.5 L230.2,255.6Z" fill="#1a9e40"/>
<path d="M204.5,271.9 L204.4,270.9 L204.2,269.6 L204.0,268.1 L203.8,266.5 L203.6,264.7 L203.4,262.9 L203.3,261.1 L203.3,259.3 L203.3,257.7 L203.4,256.2 L203.6,254.7 L203.8,253.1 L204.0,251.5 L204.3,250.0 L204.7,248.4 L205.0,246.9 L205.4,245.4 L205.8,244.0 L206.3,242.7 L206.9,241.1 L207.7,239.7 L208.7,238.3 L209.7,236.9 L210.6,235.6 L211.5,234.2 L212.2,232.9 L212.7,231.4 L212.8,229.5 L212.4,227.5 L211.9,225.5 L211.2,223.8 L210.6,222.4 L210.3,221.3 L209.3,221.7 L209.7,222.7 L210.2,224.2 L210.8,225.9 L211.2,227.7 L211.5,229.5 L211.3,231.2 L210.9,232.3 L210.3,233.5 L209.4,234.7 L208.4,236.0 L207.4,237.3 L206.3,238.7 L205.3,240.3 L204.5,241.9 L204.0,243.4 L203.5,244.8 L203.1,246.3 L202.6,247.9 L202.2,249.5 L201.9,251.1 L201.6,252.8 L201.3,254.4 L201.1,256.0 L200.9,257.5 L200.8,259.3 L200.7,261.2 L200.8,263.1 L200.9,265.0 L201.0,266.8 L201.2,268.5 L201.3,269.9 L201.4,271.2 L201.5,272.1Z" fill="#1a9e40"/>
<path d="M193.4,288.2 L192.6,287.5 L191.6,286.6 L190.5,285.6 L189.2,284.5 L187.8,283.3 L186.5,282.0 L185.2,280.6 L184.1,279.3 L183.1,278.0 L182.4,276.8 L182.0,275.6 L181.7,274.2 L181.5,272.9 L181.4,271.4 L181.3,269.9 L181.4,268.3 L181.4,266.7 L181.4,265.1 L181.4,263.5 L181.2,261.9 L181.0,260.4 L180.8,258.9 L180.6,257.4 L180.3,255.9 L180.1,254.4 L179.8,252.9 L179.5,251.4 L179.3,249.8 L179.0,248.2 L178.8,246.5 L178.6,245.1 L178.4,243.5 L178.2,241.9 L177.9,240.1 L177.7,238.4 L177.5,236.6 L177.3,234.9 L177.1,233.2 L176.9,231.6 L176.7,230.1 L176.5,228.8 L176.4,227.7 L176.3,226.8 L175.3,227.0 L175.4,227.8 L175.5,228.9 L175.6,230.2 L175.8,231.7 L175.9,233.3 L176.1,235.0 L176.2,236.7 L176.4,238.5 L176.6,240.3 L176.7,242.0 L176.9,243.7 L177.1,245.3 L177.2,246.7 L177.4,248.4 L177.6,250.1 L177.8,251.7 L178.1,253.2 L178.3,254.7 L178.5,256.2 L178.7,257.7 L178.9,259.1 L179.0,260.6 L179.2,262.1 L179.3,263.6 L179.3,265.1 L179.2,266.7 L179.1,268.3 L179.1,269.8 L179.0,271.5 L179.1,273.1 L179.3,274.7 L179.6,276.3 L180.2,277.8 L181.0,279.4 L182.0,280.9 L183.2,282.4 L184.5,283.9 L185.9,285.3 L187.3,286.6 L188.5,287.8 L189.7,288.8 L190.6,289.7 L191.2,290.4Z" fill="#1a9e40"/>
<path d="M180.8,258.3 L181.2,257.3 L181.7,255.9 L182.4,254.3 L183.1,252.4 L183.8,250.5 L184.5,248.6 L185.1,247.0 L185.7,245.6 L186.1,244.6 L185.3,244.2 L184.9,245.2 L184.3,246.6 L183.5,248.2 L182.7,250.0 L181.8,251.9 L181.0,253.7 L180.2,255.3 L179.6,256.7 L179.2,257.7Z" fill="#1a9e40"/>
<path d="M192.8,288.1 L192.0,287.7 L190.9,287.3 L189.7,286.8 L188.4,286.2 L186.9,285.6 L185.3,285.0 L183.6,284.3 L181.9,283.6 L180.2,282.9 L178.5,282.2 L176.8,281.4 L175.2,280.7 L173.7,280.0 L172.2,279.2 L170.9,278.6 L169.4,277.7 L167.9,276.9 L166.5,276.1 L165.1,275.2 L163.7,274.4 L162.4,273.6 L161.2,272.7 L160.0,271.8 L158.8,270.9 L157.7,270.0 L156.6,269.0 L155.6,267.9 L154.6,266.7 L153.6,265.5 L152.7,264.1 L151.8,262.7 L151.0,261.2 L150.2,259.8 L149.5,258.3 L148.8,256.9 L148.1,255.5 L147.5,254.2 L146.9,252.9 L146.0,251.1 L145.1,249.2 L144.4,247.4 L143.8,245.8 L143.2,244.3 L142.7,243.1 L142.4,242.1 L141.4,242.5 L141.8,243.4 L142.2,244.7 L142.8,246.2 L143.4,247.8 L144.1,249.7 L144.9,251.6 L145.7,253.5 L146.3,254.7 L146.9,256.1 L147.6,257.5 L148.2,258.9 L148.9,260.4 L149.7,261.9 L150.5,263.4 L151.4,264.9 L152.3,266.4 L153.3,267.8 L154.4,269.1 L155.4,270.2 L156.5,271.2 L157.7,272.3 L158.8,273.2 L160.1,274.2 L161.3,275.1 L162.7,276.0 L164.0,276.9 L165.4,277.8 L166.9,278.7 L168.4,279.5 L169.9,280.4 L171.2,281.2 L172.7,281.9 L174.2,282.7 L175.9,283.5 L177.6,284.3 L179.3,285.1 L181.0,285.8 L182.7,286.6 L184.3,287.3 L185.9,288.0 L187.4,288.6 L188.7,289.2 L189.9,289.7 L190.9,290.2 L191.8,290.5Z" fill="#1a9e40"/>
<path d="M175.4,281.7 L174.5,281.4 L173.3,281.0 L171.9,280.5 L170.2,279.9 L168.3,279.3 L166.2,278.8 L164.0,278.4 L162.8,278.2 L161.4,277.9 L160.0,277.7 L158.5,277.5 L156.9,277.2 L155.3,277.0 L153.7,276.8 L152.0,276.7 L150.4,276.5 L148.7,276.5 L147.1,276.4 L145.6,276.4 L144.0,276.5 L142.4,276.7 L140.7,277.0 L139.0,277.3 L137.3,277.8 L135.6,278.3 L133.9,278.8 L132.4,279.3 L130.9,279.8 L129.5,280.2 L128.3,280.6 L127.3,281.0 L126.5,281.2 L126.7,282.2 L127.6,281.9 L128.6,281.6 L129.9,281.3 L131.2,280.9 L132.7,280.4 L134.3,280.0 L135.9,279.5 L137.6,279.1 L139.3,278.7 L141.0,278.4 L142.6,278.2 L144.2,278.1 L145.6,278.1 L147.1,278.1 L148.6,278.2 L150.2,278.4 L151.8,278.5 L153.4,278.8 L155.0,279.0 L156.6,279.3 L158.1,279.5 L159.6,279.8 L161.0,280.1 L162.4,280.4 L163.6,280.6 L165.7,281.1 L167.6,281.7 L169.4,282.3 L171.0,282.9 L172.4,283.4 L173.6,283.9 L174.6,284.3Z" fill="#1a9e40"/>
<path d="M192.1,288.1 L191.1,288.3 L189.9,288.5 L188.5,288.8 L186.9,289.1 L185.2,289.4 L183.3,289.8 L181.5,290.2 L179.6,290.5 L177.8,290.9 L176.1,291.3 L174.5,291.7 L172.8,292.1 L171.2,292.6 L169.6,293.1 L168.1,293.5 L166.5,294.0 L165.0,294.5 L163.5,295.0 L162.1,295.5 L160.6,295.9 L159.2,296.3 L157.6,296.8 L155.9,297.3 L154.2,297.7 L152.6,298.2 L151.0,298.6 L149.5,299.0 L148.2,299.3 L147.0,299.6 L146.2,299.8 L146.4,300.8 L147.3,300.6 L148.4,300.3 L149.7,300.0 L151.2,299.7 L152.8,299.3 L154.5,298.9 L156.2,298.5 L157.9,298.1 L159.6,297.7 L161.0,297.3 L162.5,296.9 L164.0,296.5 L165.5,296.0 L167.0,295.6 L168.5,295.1 L170.1,294.7 L171.7,294.3 L173.3,293.9 L174.9,293.5 L176.5,293.2 L178.2,292.9 L180.0,292.5 L181.9,292.2 L183.7,291.9 L185.6,291.6 L187.3,291.3 L188.9,291.1 L190.3,290.8 L191.6,290.6 L192.5,290.5Z" fill="#1a9e40"/>
<path d="M161.3,295.8 L160.9,296.9 L160.4,298.7 L159.9,300.6 L159.4,302.3 L159.0,303.5 L159.8,303.7 L160.2,302.6 L160.9,300.9 L161.6,299.1 L162.3,297.4 L162.7,296.2Z" fill="#1a9e40"/>
<path d="M191.2,290.3 L191.9,291.1 L192.9,292.0 L194.1,293.1 L195.4,294.4 L196.7,295.7 L197.9,297.1 L199.0,298.5 L200.0,299.8 L200.7,301.1 L201.3,302.4 L202.0,303.8 L202.6,305.3 L203.1,306.8 L203.6,308.2 L204.0,309.7 L204.3,311.1 L204.5,312.4 L204.6,314.0 L204.5,315.6 L204.3,317.3 L204.0,318.8 L203.6,320.3 L203.1,321.7 L202.6,323.0 L201.8,324.3 L200.6,325.6 L199.4,326.8 L198.1,327.9 L197.0,328.7 L196.3,329.4 L196.9,330.2 L197.7,329.5 L198.8,328.7 L200.1,327.7 L201.5,326.5 L202.8,325.1 L203.8,323.6 L204.5,322.3 L205.1,320.8 L205.6,319.2 L206.0,317.5 L206.2,315.8 L206.4,314.0 L206.3,312.2 L206.2,310.8 L205.9,309.3 L205.6,307.7 L205.1,306.1 L204.6,304.5 L204.1,303.0 L203.4,301.5 L202.8,300.0 L202.0,298.6 L201.1,297.0 L199.9,295.4 L198.7,293.9 L197.4,292.5 L196.1,291.1 L195.0,290.0 L194.1,289.0 L193.4,288.3Z" fill="#1a9e40"/>
<path d="M191.5,290.4 L192.2,290.9 L193.0,291.6 L194.1,292.4 L195.2,293.2 L196.5,294.2 L197.8,295.2 L199.2,296.3 L200.6,297.3 L202.0,298.4 L203.4,299.5 L204.7,300.4 L205.9,301.4 L207.0,302.2 L208.4,303.3 L209.7,304.2 L211.0,305.1 L212.2,306.0 L213.4,306.8 L214.5,307.7 L215.6,308.6 L216.8,309.5 L217.9,310.7 L219.0,311.7 L220.1,312.9 L221.3,314.2 L222.4,315.5 L223.6,316.9 L224.8,318.3 L225.9,319.6 L226.9,320.9 L227.8,322.0 L228.5,322.9 L229.1,323.6 L229.9,323.0 L229.3,322.3 L228.6,321.3 L227.7,320.2 L226.8,318.9 L225.7,317.6 L224.6,316.1 L223.5,314.7 L222.3,313.3 L221.2,311.9 L220.1,310.7 L219.1,309.5 L217.9,308.4 L216.7,307.3 L215.6,306.3 L214.4,305.4 L213.3,304.5 L212.1,303.6 L210.9,302.7 L209.6,301.7 L208.2,300.6 L207.2,299.7 L206.0,298.8 L204.7,297.7 L203.4,296.6 L202.1,295.5 L200.7,294.4 L199.3,293.3 L198.0,292.3 L196.8,291.2 L195.7,290.3 L194.7,289.5 L193.8,288.8 L193.1,288.2Z" fill="#1a9e40"/>
<path d="M214.4,306.8 L215.3,306.3 L216.5,305.5 L218.0,304.6 L219.5,303.7 L221.1,302.9 L222.6,302.2 L223.9,301.9 L224.9,302.0 L225.8,302.6 L226.7,303.6 L227.7,305.1 L228.6,306.8 L229.5,308.5 L230.2,310.2 L230.8,311.5 L231.4,312.5 L232.0,312.1 L231.6,311.2 L231.0,309.8 L230.3,308.1 L229.6,306.3 L228.7,304.6 L227.7,302.9 L226.6,301.6 L225.3,300.8 L223.8,300.6 L222.2,300.9 L220.5,301.5 L218.8,302.3 L217.1,303.2 L215.7,304.1 L214.5,304.8 L213.6,305.2Z" fill="#1a9e40"/>
<path d="M192.3,290.6 L193.2,290.6 L194.3,290.6 L195.6,290.6 L197.0,290.5 L198.6,290.4 L200.2,290.4 L201.9,290.3 L203.7,290.3 L205.5,290.3 L207.2,290.3 L208.9,290.3 L210.5,290.3 L211.9,290.3 L213.6,290.4 L215.3,290.4 L217.0,290.5 L218.7,290.5 L220.3,290.6 L221.9,290.7 L223.4,290.9 L225.0,291.1 L226.4,291.4 L227.9,291.7 L229.2,292.2 L230.7,292.9 L232.2,293.7 L233.8,294.8 L235.3,295.9 L236.8,297.0 L238.1,298.2 L239.4,299.3 L240.5,300.3 L241.5,301.2 L242.3,301.8 L242.9,301.0 L242.2,300.4 L241.2,299.5 L240.1,298.5 L238.9,297.4 L237.5,296.1 L236.1,294.9 L234.6,293.7 L233.0,292.6 L231.4,291.6 L229.8,290.8 L228.3,290.3 L226.8,289.8 L225.3,289.5 L223.7,289.2 L222.1,289.0 L220.4,288.8 L218.8,288.7 L217.1,288.6 L215.4,288.5 L213.7,288.4 L212.1,288.3 L210.5,288.2 L208.9,288.1 L207.2,288.0 L205.5,288.0 L203.7,288.0 L201.9,288.0 L200.2,288.0 L198.5,287.9 L197.0,288.0 L195.5,288.0 L194.2,288.0 L193.2,288.0 L192.3,288.0Z" fill="#1a9e40"/>
<circle cx="192.3" cy="289.3" r="5.4" fill="#1a9e40"/>
<circle cx="192.3" cy="289.3" r="2.3" fill="#4d4d4f"/>
<line x1="201.2" y1="125.5" x2="275.9" y2="146.2" stroke="#1f74bf" stroke-width="2.6"/>
<polyline points="265.3,149.2 275.9,146.2 268.4,138.2" fill="none" stroke="#1f74bf" stroke-width="2.6" stroke-linejoin="miter"/>
<line x1="162.7" y1="232.4" x2="281.5" y2="230" stroke="#f7901e" stroke-width="2.2"/>
<polyline points="272.7,236.6 281.5,230 272.4,223.8" fill="none" stroke="#f7901e" stroke-width="2.2" stroke-linejoin="miter"/>
<line x1="204.3" y1="293.7" x2="281.5" y2="292" stroke="#2b9e47" stroke-width="2.2"/>
<polyline points="272.7,298.6 281.5,292 272.4,285.8" fill="none" stroke="#2b9e47" stroke-width="2.2" stroke-linejoin="miter"/>
<text x="296.5" y="88" font-size="14" text-anchor="start" font-weight="normal" fill="#000" transform="rotate(-90 296.5 88)">Ensemble</text>
<text x="297.5" y="173.5" font-size="14" text-anchor="start" font-weight="normal" fill="#2b7dc0" transform="rotate(-90 297.5 173.5)">Neuron 5</text>
<text x="297.5" y="250" font-size="14" text-anchor="start" font-weight="normal" fill="#f6882b" transform="rotate(-90 297.5 250)">Neuron 23</text>
<text x="297.5" y="321" font-size="14" text-anchor="start" font-weight="normal" fill="#2fa44a" transform="rotate(-90 297.5 321)">Neuron 36</text>
<polyline points="624.7,26 624.7,52.3 636.7,52.3" fill="none" stroke="#111" stroke-width="1"/>
<text x="612" y="62" font-size="6.8" text-anchor="start" font-weight="normal" fill="#000" transform="rotate(-90 612 62)">Ensemble act.</text>
<text x="619.5" y="62" font-size="6.8" text-anchor="start" font-weight="normal" fill="#000" transform="rotate(-90 619.5 62)">(A.U.)</text>
<text x="623.6" y="62" font-size="6.8" text-anchor="start" font-weight="normal" fill="#000">10 sec</text>
<polyline points="630.4,276.4 630.4,288.7 642.7,288.7" fill="none" stroke="#111" stroke-width="1"/>
<text x="629.3" y="291.6" font-size="6.8" text-anchor="start" font-weight="normal" fill="#000" transform="rotate(-90 629.3 291.6)">dF/F (2SD)</text>
<text x="630.4" y="299.3" font-size="6.8" text-anchor="start" font-weight="normal" fill="#000">10 sec</text>
<polyline points="648.4,125.5 660,125.5 660,313.4 648.4,313.4" fill="none" stroke="#222" stroke-width="1.5"/>
<path d="M660,224 C690,210 692,120 655,96" fill="none" stroke="#222" stroke-width="1.6"/>
<path d="M651,94 L663,96.5 L657,99 L655,104 Z" fill="#222"/>
<text x="9.2" y="360.6" font-size="20.5" text-anchor="start" font-weight="bold" fill="#000">B</text>
<line x1="82.2" y1="359.5" x2="82.2" y2="603.9" stroke="#111" stroke-width="1.8"/>
<line x1="81.3" y1="603.1" x2="312" y2="603.1" stroke="#111" stroke-width="1.8"/>
<line x1="72.2" y1="388.3" x2="82.2" y2="388.3" stroke="#111" stroke-width="1.5"/>
<text x="69.3" y="392.40000000000003" font-size="14" text-anchor="end" font-weight="normal" fill="#000">0.4</text>
<line x1="72.2" y1="442.2" x2="82.2" y2="442.2" stroke="#111" stroke-width="1.5"/>
<text x="69.3" y="446.3" font-size="14" text-anchor="end" font-weight="normal" fill="#000">0.3</text>
<line x1="72.2" y1="495.9" x2="82.2" y2="495.9" stroke="#111" stroke-width="1.5"/>
<text x="69.3" y="500.0" font-size="14" text-anchor="end" font-weight="normal" fill="#000">0.2</text>
<line x1="72.2" y1="549.6" x2="82.2" y2="549.6" stroke="#111" stroke-width="1.5"/>
<text x="69.3" y="553.7" font-size="14" text-anchor="end" font-weight="normal" fill="#000">0.1</text>
<line x1="72.2" y1="603.1" x2="82.2" y2="603.1" stroke="#111" stroke-width="1.5"/>
<text x="69.3" y="607.2" font-size="14" text-anchor="end" font-weight="normal" fill="#000">0.0</text>
<line x1="119.6" y1="603" x2="119.6" y2="612.5" stroke="#111" stroke-width="1.5"/>
<text x="119.6" y="626" font-size="14" text-anchor="middle" font-weight="normal" fill="#000">0</text>
<line x1="196" y1="603" x2="196" y2="612.5" stroke="#111" stroke-width="1.5"/>
<text x="196" y="626" font-size="14" text-anchor="middle" font-weight="normal" fill="#000">1</text>
<line x1="271.5" y1="603" x2="271.5" y2="612.5" stroke="#111" stroke-width="1.5"/>
<text x="271.5" y="626" font-size="14" text-anchor="middle" font-weight="normal" fill="#000">2</text>
<text x="195.8" y="644.3" font-size="16.5" text-anchor="middle" font-weight="bold" fill="#000">Day</text>
<text x="34.9" y="494.6" font-size="17" text-anchor="middle" font-weight="bold" fill="#000" transform="rotate(-90 34.9 494.6)">Ensembles/total cells</text>
<polyline points="120.1,439.5 196.2,448.3 271.7,448.3" fill="none" stroke="#1b91b2" stroke-width="2.2" stroke-linejoin="round"/>
<line x1="120.1" y1="434" x2="120.1" y2="445.3" stroke="#1b91b2" stroke-width="1.5"/>
<line x1="115.0" y1="434" x2="125.19999999999999" y2="434" stroke="#1b91b2" stroke-width="1.5"/>
<line x1="115.0" y1="445.3" x2="125.19999999999999" y2="445.3" stroke="#1b91b2" stroke-width="1.5"/>
<line x1="271.7" y1="443" x2="271.7" y2="453.5" stroke="#1b91b2" stroke-width="1.5"/>
<line x1="266.59999999999997" y1="443" x2="276.8" y2="443" stroke="#1b91b2" stroke-width="1.5"/>
<line x1="266.59999999999997" y1="453.5" x2="276.8" y2="453.5" stroke="#1b91b2" stroke-width="1.5"/>
<circle cx="120.1" cy="440.3" r="5" fill="#1b91b2"/>
<circle cx="196.2" cy="448.3" r="5" fill="#1b91b2"/>
<circle cx="271.7" cy="448.3" r="5" fill="#1b91b2"/>
<polyline points="120.1,427.2 196.2,432.0 271.7,438.8" fill="none" stroke="#d42a36" stroke-width="2.2" stroke-linejoin="round"/>
<line x1="120.1" y1="418" x2="120.1" y2="437" stroke="#d42a36" stroke-width="1.5"/>
<line x1="115.0" y1="418" x2="125.19999999999999" y2="418" stroke="#d42a36" stroke-width="1.5"/>
<line x1="115.0" y1="437" x2="125.19999999999999" y2="437" stroke="#d42a36" stroke-width="1.5"/>
<line x1="196.2" y1="423" x2="196.2" y2="440.5" stroke="#d42a36" stroke-width="1.5"/>
<line x1="191.1" y1="423" x2="201.29999999999998" y2="423" stroke="#d42a36" stroke-width="1.5"/>
<line x1="191.1" y1="440.5" x2="201.29999999999998" y2="440.5" stroke="#d42a36" stroke-width="1.5"/>
<line x1="271.7" y1="429.5" x2="271.7" y2="448" stroke="#d42a36" stroke-width="1.5"/>
<line x1="266.59999999999997" y1="429.5" x2="276.8" y2="429.5" stroke="#d42a36" stroke-width="1.5"/>
<line x1="266.59999999999997" y1="448" x2="276.8" y2="448" stroke="#d42a36" stroke-width="1.5"/>
<circle cx="120.1" cy="427.2" r="5" fill="#d42a36"/>
<circle cx="196.2" cy="432" r="5" fill="#d42a36"/>
<circle cx="271.7" cy="438.8" r="5" fill="#d42a36"/>
<line x1="110" y1="552.5" x2="133.5" y2="552.5" stroke="#1b91b2" stroke-width="2"/>
<circle cx="121.8" cy="552.5" r="4.3" fill="#1b91b2"/>
<text x="142.5" y="557.5" font-size="14" text-anchor="start" font-weight="normal" fill="#000">Vehicle</text>
<line x1="110" y1="574.5" x2="133.5" y2="574.5" stroke="#d42a36" stroke-width="2"/>
<circle cx="121.8" cy="574.5" r="4.5" fill="#d42a36"/>
<text x="143" y="579.5" font-size="14" text-anchor="start" font-weight="normal" fill="#000">IEM 1460</text>
<text x="339" y="360.2" font-size="20.5" text-anchor="start" font-weight="bold" fill="#000">C</text>
<line x1="426.2" y1="365" x2="426.2" y2="600.5" stroke="#111" stroke-width="1.8"/>
<line x1="425.3" y1="599.7" x2="661" y2="599.7" stroke="#111" stroke-width="1.8"/>
<line x1="416.3" y1="412.6" x2="426.2" y2="412.6" stroke="#111" stroke-width="1.5"/>
<text x="412.6" y="416.5" font-size="14" text-anchor="end" font-weight="normal" fill="#000">0.08</text>
<line x1="416.3" y1="506.1" x2="426.2" y2="506.1" stroke="#111" stroke-width="1.5"/>
<text x="412.6" y="510.0" font-size="14" text-anchor="end" font-weight="normal" fill="#000">0.04</text>
<line x1="416.3" y1="599.7" x2="426.2" y2="599.7" stroke="#111" stroke-width="1.5"/>
<text x="412.6" y="603.6" font-size="14" text-anchor="end" font-weight="normal" fill="#000">0.00</text>
<line x1="465.8" y1="599.7" x2="465.8" y2="608.5" stroke="#111" stroke-width="1.5"/>
<text x="465.8" y="624.2" font-size="14" text-anchor="middle" font-weight="normal" fill="#000">0</text>
<line x1="543.5" y1="599.7" x2="543.5" y2="608.5" stroke="#111" stroke-width="1.5"/>
<text x="543.5" y="624.2" font-size="14" text-anchor="middle" font-weight="normal" fill="#000">1</text>
<line x1="621.2" y1="599.7" x2="621.2" y2="608.5" stroke="#111" stroke-width="1.5"/>
<text x="621.2" y="624.2" font-size="14" text-anchor="middle" font-weight="normal" fill="#000">2</text>
<text x="544.6" y="643.2" font-size="16.7" text-anchor="middle" font-weight="bold" fill="#000">Day</text>
<text x="347.4" y="475.7" font-size="17" text-anchor="middle" font-weight="bold" fill="#000" transform="rotate(-90 347.4 475.7)">Partner ensembles/</text>
<text x="368" y="475.7" font-size="17" text-anchor="middle" font-weight="bold" fill="#000" transform="rotate(-90 368 475.7)">total cells</text>
<line x1="465.2" y1="498.2" x2="465.2" y2="534" stroke="#1b91b2" stroke-width="1.5"/>
<line x1="461.59999999999997" y1="498.2" x2="468.8" y2="498.2" stroke="#1b91b2" stroke-width="1.5"/>
<line x1="461.59999999999997" y1="534" x2="468.8" y2="534" stroke="#1b91b2" stroke-width="1.5"/>
<line x1="543.5" y1="482.7" x2="543.5" y2="543.8" stroke="#1b91b2" stroke-width="1.5"/>
<line x1="539.9" y1="482.7" x2="547.1" y2="482.7" stroke="#1b91b2" stroke-width="1.5"/>
<line x1="539.9" y1="543.8" x2="547.1" y2="543.8" stroke="#1b91b2" stroke-width="1.5"/>
<line x1="621.2" y1="425.7" x2="621.2" y2="488.9" stroke="#1b91b2" stroke-width="1.5"/>
<line x1="617.6" y1="425.7" x2="624.8000000000001" y2="425.7" stroke="#1b91b2" stroke-width="1.5"/>
<line x1="617.6" y1="488.9" x2="624.8000000000001" y2="488.9" stroke="#1b91b2" stroke-width="1.5"/>
<polyline points="465.2,516.3 543.5,512.7 621.2,457.3" fill="none" stroke="#1b91b2" stroke-width="2.2" stroke-linejoin="round"/>
<circle cx="465.2" cy="516.3" r="4.4" fill="#1b91b2"/>
<circle cx="543.5" cy="512.7" r="4.4" fill="#1b91b2"/>
<circle cx="621.2" cy="457.3" r="4.4" fill="#1b91b2"/>
<line x1="465.2" y1="501.8" x2="465.2" y2="566.6" stroke="#d42a36" stroke-width="1.5"/>
<line x1="461.59999999999997" y1="501.8" x2="468.8" y2="501.8" stroke="#d42a36" stroke-width="1.5"/>
<line x1="461.59999999999997" y1="566.6" x2="468.8" y2="566.6" stroke="#d42a36" stroke-width="1.5"/>
<line x1="543.5" y1="533.4" x2="543.5" y2="581.1" stroke="#d42a36" stroke-width="1.5"/>
<line x1="539.9" y1="533.4" x2="547.1" y2="533.4" stroke="#d42a36" stroke-width="1.5"/>
<line x1="539.9" y1="581.1" x2="547.1" y2="581.1" stroke="#d42a36" stroke-width="1.5"/>
<line x1="621.2" y1="533.4" x2="621.2" y2="575.9" stroke="#d42a36" stroke-width="1.5"/>
<line x1="617.6" y1="533.4" x2="624.8000000000001" y2="533.4" stroke="#d42a36" stroke-width="1.5"/>
<line x1="617.6" y1="575.9" x2="624.8000000000001" y2="575.9" stroke="#d42a36" stroke-width="1.5"/>
<polyline points="465.2,534.5 543.5,557.8 621.2,555.2" fill="none" stroke="#d42a36" stroke-width="2.2" stroke-linejoin="round"/>
<circle cx="465.2" cy="534.5" r="4.3" fill="#d42a36"/>
<circle cx="543.5" cy="557.8" r="4.3" fill="#d42a36"/>
<circle cx="621.2" cy="555.2" r="4.3" fill="#d42a36"/>
<line x1="634.2" y1="457.8" x2="634.2" y2="555.2" stroke="#111" stroke-width="1.5"/>
<text x="648.5" y="522" font-size="24" text-anchor="middle" font-weight="bold" fill="#000">*</text>
<line x1="453.3" y1="380.6" x2="477.7" y2="380.6" stroke="#1b91b2" stroke-width="2"/>
<circle cx="465.5" cy="380.6" r="4.3" fill="#1b91b2"/>
<text x="482.8" y="385.6" font-size="14" text-anchor="start" font-weight="normal" fill="#000">Vehicle</text>
<line x1="453.3" y1="401.3" x2="477.7" y2="401.3" stroke="#d42a36" stroke-width="2"/>
<circle cx="465.5" cy="401.3" r="4.5" fill="#d42a36"/>
<text x="483.3" y="406.3" font-size="14" text-anchor="start" font-weight="normal" fill="#000">IEM 1460</text>
<text x="8" y="687.2" font-size="20.5" text-anchor="start" font-weight="bold" fill="#000">D</text>
<line x1="123.9" y1="702.3" x2="123.9" y2="938.8" stroke="#111" stroke-width="1.8"/>
<line x1="123" y1="938" x2="282" y2="938" stroke="#111" stroke-width="1.8"/>
<line x1="114" y1="703.1" x2="123.9" y2="703.1" stroke="#111" stroke-width="1.5"/>
<text x="110" y="706.9" font-size="14" text-anchor="end" font-weight="normal" fill="#000">0.15</text>
<line x1="114" y1="781.5" x2="123.9" y2="781.5" stroke="#111" stroke-width="1.5"/>
<text x="110" y="785.3" font-size="14" text-anchor="end" font-weight="normal" fill="#000">0.10</text>
<line x1="114" y1="859.9" x2="123.9" y2="859.9" stroke="#111" stroke-width="1.5"/>
<text x="110" y="863.6999999999999" font-size="14" text-anchor="end" font-weight="normal" fill="#000">0.05</text>
<line x1="114" y1="938" x2="123.9" y2="938" stroke="#111" stroke-width="1.5"/>
<text x="110" y="941.8" font-size="14" text-anchor="end" font-weight="normal" fill="#000">0.00</text>
<rect x="146.7" y="842.8" width="44" height="95.2" fill="#0f87a8" stroke="#222" stroke-width="1.5"/>
<rect x="213.8" y="908.3" width="43.5" height="29.7" fill="#d2202a" stroke="#222" stroke-width="1.5"/>
<line x1="168.7" y1="821.3" x2="168.7" y2="842.8" stroke="#111" stroke-width="1.5"/>
<line x1="152" y1="821.3" x2="179" y2="821.3" stroke="#111" stroke-width="1.5"/>
<line x1="235.5" y1="893" x2="235.5" y2="908.3" stroke="#111" stroke-width="1.5"/>
<line x1="224.6" y1="893" x2="246.5" y2="893" stroke="#111" stroke-width="1.5"/>
<circle cx="168.7" cy="718.6" r="2.6" fill="#000"/>
<circle cx="168.7" cy="812.9" r="2.6" fill="#000"/>
<circle cx="163.8" cy="836.6" r="2.6" fill="#000"/>
<circle cx="173.3" cy="836.6" r="2.6" fill="#000"/>
<circle cx="168.5" cy="853.3" r="2.6" fill="#000"/>
<circle cx="168.5" cy="869.9" r="2.6" fill="#000"/>
<circle cx="168.5" cy="898.6" r="2.6" fill="#000"/>
<circle cx="168.5" cy="912.7" r="2.6" fill="#000"/>
<circle cx="235.4" cy="852.4" r="2.6" fill="#000"/>
<circle cx="230.5" cy="875.2" r="2.6" fill="#000"/>
<circle cx="240.2" cy="874.3" r="2.6" fill="#000"/>
<circle cx="221.1" cy="937.2" r="2.6" fill="#000"/>
<circle cx="230.5" cy="937.2" r="2.6" fill="#000"/>
<circle cx="239.8" cy="937.2" r="2.6" fill="#000"/>
<circle cx="249.5" cy="937.2" r="2.6" fill="#000"/>
<line x1="182.6" y1="788" x2="220.8" y2="788" stroke="#111" stroke-width="1.5"/>
<text x="201" y="783" font-size="24" text-anchor="middle" font-weight="bold" fill="#000">*</text>
<text x="198.5" y="965.9" font-size="16.7" text-anchor="middle" font-weight="bold" fill="#000">Day 2</text>
<rect x="139.4" y="673.9" width="10.8" height="10.6" fill="#0f87a8" stroke="#333" stroke-width="0.9"/>
<text x="154.5" y="684.5" font-size="14" text-anchor="start" font-weight="normal" fill="#000">Vehicle</text>
<rect x="139.4" y="689.8" width="10.8" height="10.6" fill="#d2202a" stroke="#333" stroke-width="0.9"/>
<text x="154.5" y="700.8" font-size="14" text-anchor="start" font-weight="normal" fill="#000">IEM-1460</text>
<text x="49.4" y="820.1" font-size="17" text-anchor="middle" font-weight="bold" fill="#000" transform="rotate(-90 49.4 820.1)">Partner ensembles/</text>
<text x="70.1" y="820.5" font-size="17" text-anchor="middle" font-weight="bold" fill="#000" transform="rotate(-90 70.1 820.5)">total cells</text>
<text x="333.8" y="687.4" font-size="20" text-anchor="start" font-weight="bold" fill="#000">E</text>
<line x1="411.9" y1="670" x2="411.9" y2="928.8" stroke="#111" stroke-width="1.8"/>
<line x1="411" y1="928.4" x2="669.5" y2="928.4" stroke="#111" stroke-width="1.8"/>
<line x1="401.6" y1="670.7" x2="411.9" y2="670.7" stroke="#111" stroke-width="1.5"/>
<text x="399" y="676.2" font-size="14" text-anchor="end" font-weight="normal" fill="#000">90</text>
<line x1="401.6" y1="742.3" x2="411.9" y2="742.3" stroke="#111" stroke-width="1.5"/>
<text x="399" y="746.6999999999999" font-size="14" text-anchor="end" font-weight="normal" fill="#000">70</text>
<line x1="401.6" y1="811" x2="411.9" y2="811" stroke="#111" stroke-width="1.5"/>
<text x="399" y="816.7" font-size="14" text-anchor="end" font-weight="normal" fill="#000">50</text>
<line x1="401.6" y1="885" x2="411.9" y2="885" stroke="#111" stroke-width="1.5"/>
<text x="399" y="888.9" font-size="14" text-anchor="end" font-weight="normal" fill="#000">30</text>
<line x1="450.2" y1="928.4" x2="450.2" y2="938.4" stroke="#111" stroke-width="1.5"/>
<text x="450.2" y="951" font-size="14" text-anchor="middle" font-weight="normal" fill="#000">0</text>
<line x1="516.4" y1="928.4" x2="516.4" y2="938.4" stroke="#111" stroke-width="1.5"/>
<text x="516.4" y="951" font-size="14" text-anchor="middle" font-weight="normal" fill="#000">0.04</text>
<line x1="582.6" y1="928.4" x2="582.6" y2="938.4" stroke="#111" stroke-width="1.5"/>
<text x="582.6" y="951" font-size="14" text-anchor="middle" font-weight="normal" fill="#000">0.08</text>
<line x1="648.8" y1="928.4" x2="648.8" y2="938.4" stroke="#111" stroke-width="1.5"/>
<text x="648.8" y="951" font-size="14" text-anchor="middle" font-weight="normal" fill="#000">0.12</text>
<text x="541.2" y="970.3" font-size="17.1" text-anchor="middle" font-weight="bold" fill="#000">Partner - Stranger Ensembles</text>
<text x="367.7" y="817.8" font-size="17" text-anchor="middle" font-weight="bold" fill="#000" transform="rotate(-90 367.7 817.8)">% Partner Chamber Time</text>
<circle cx="416.5" cy="916.5" r="3.9" fill="#1b91b2"/>
<circle cx="470.9" cy="815.4" r="3.9" fill="#1b91b2"/>
<circle cx="485.4" cy="794.7" r="3.9" fill="#1b91b2"/>
<circle cx="489.1" cy="739.3" r="3.9" fill="#1b91b2"/>
<circle cx="497.4" cy="749.1" r="3.9" fill="#1b91b2"/>
<circle cx="510.8" cy="798.3" r="3.9" fill="#1b91b2"/>
<circle cx="516.5" cy="694.2" r="3.9" fill="#1b91b2"/>
<circle cx="650.2" cy="731" r="3.9" fill="#1b91b2"/>
<line x1="417" y1="839.8" x2="648.7" y2="683.3" stroke="#222" stroke-width="1.7" stroke-dasharray="5.2,4.2"/>
<text x="664" y="918.5" font-size="14" text-anchor="end" font-weight="normal" fill="#000">r=0.81, p=0.015</text>
<text x="10.5" y="1012.5" font-size="20" text-anchor="start" font-weight="bold" fill="#000">F</text>
<rect x="25.8" y="1022.8" width="301.5" height="259.5" fill="none" stroke="#111" stroke-width="1.5"/>
<defs><clipPath id="fbox"><rect x="25.8" y="1022.8" width="301.5" height="259.5"/></clipPath></defs><g clip-path="url(#fbox)">
<ellipse cx="83.6" cy="1073" rx="4" ry="5.5" transform="rotate(0 83.6 1073)" fill="none" stroke="#111" stroke-width="1.25"/>
<ellipse cx="60.9" cy="1089.3" rx="4.5" ry="4.5" transform="rotate(0 60.9 1089.3)" fill="none" stroke="#111" stroke-width="1.25"/>
<ellipse cx="29.3" cy="1092.8" rx="4" ry="4" transform="rotate(0 29.3 1092.8)" fill="none" stroke="#111" stroke-width="1.25"/>
<ellipse cx="51.5" cy="1101.4" rx="5" ry="3.5" transform="rotate(0 51.5 1101.4)" fill="none" stroke="#111" stroke-width="1.25"/>
<ellipse cx="28.2" cy="1104" rx="3" ry="3.5" transform="rotate(0 28.2 1104)" fill="none" stroke="#111" stroke-width="1.25"/>
<ellipse cx="100.6" cy="1097.2" rx="5" ry="4.5" transform="rotate(0 100.6 1097.2)" fill="none" stroke="#111" stroke-width="1.25"/>
<ellipse cx="149.7" cy="1100.3" rx="5" ry="4.5" transform="rotate(0 149.7 1100.3)" fill="none" stroke="#111" stroke-width="1.25"/>
<ellipse cx="57.4" cy="1121.3" rx="4" ry="3.5" transform="rotate(0 57.4 1121.3)" fill="none" stroke="#111" stroke-width="1.25"/>
<ellipse cx="55" cy="1126" rx="4" ry="3.5" transform="rotate(0 55 1126)" fill="none" stroke="#111" stroke-width="1.25"/>
<ellipse cx="42.7" cy="1128.8" rx="4.5" ry="4.5" transform="rotate(0 42.7 1128.8)" fill="none" stroke="#111" stroke-width="1.25"/>
<ellipse cx="67.4" cy="1131.8" rx="5" ry="4" transform="rotate(20 67.4 1131.8)" fill="none" stroke="#111" stroke-width="1.25"/>
<ellipse cx="27" cy="1141.2" rx="2.5" ry="3.5" transform="rotate(0 27 1141.2)" fill="none" stroke="#111" stroke-width="1.25"/>
<ellipse cx="63.2" cy="1147.5" rx="4.5" ry="3.5" transform="rotate(0 63.2 1147.5)" fill="none" stroke="#111" stroke-width="1.25"/>
<ellipse cx="152" cy="1145.4" rx="4.5" ry="6" transform="rotate(0 152 1145.4)" fill="none" stroke="#111" stroke-width="1.25"/>
<ellipse cx="131.7" cy="1154.5" rx="5" ry="6.5" transform="rotate(15 131.7 1154.5)" fill="none" stroke="#111" stroke-width="1.25"/>
<ellipse cx="46.9" cy="1154.5" rx="5.5" ry="4" transform="rotate(0 46.9 1154.5)" fill="none" stroke="#111" stroke-width="1.25"/>
<ellipse cx="43.4" cy="1160.6" rx="3.5" ry="3" transform="rotate(0 43.4 1160.6)" fill="none" stroke="#111" stroke-width="1.25"/>
<ellipse cx="41" cy="1166.2" rx="4.5" ry="3.5" transform="rotate(0 41 1166.2)" fill="none" stroke="#111" stroke-width="1.25"/>
<ellipse cx="50.4" cy="1165.2" rx="4" ry="3.5" transform="rotate(0 50.4 1165.2)" fill="none" stroke="#111" stroke-width="1.25"/>
<ellipse cx="67.9" cy="1162.2" rx="4.5" ry="3" transform="rotate(0 67.9 1162.2)" fill="none" stroke="#111" stroke-width="1.25"/>
<ellipse cx="79.6" cy="1176.2" rx="5" ry="4" transform="rotate(-20 79.6 1176.2)" fill="none" stroke="#111" stroke-width="1.25"/>
<ellipse cx="92.4" cy="1178.1" rx="5" ry="5.5" transform="rotate(0 92.4 1178.1)" fill="none" stroke="#111" stroke-width="1.25"/>
<ellipse cx="114.6" cy="1183.2" rx="5.5" ry="5.5" transform="rotate(0 114.6 1183.2)" fill="none" stroke="#111" stroke-width="1.25"/>
<ellipse cx="117" cy="1195.4" rx="5" ry="4.5" transform="rotate(0 117 1195.4)" fill="none" stroke="#111" stroke-width="1.25"/>
<ellipse cx="113.5" cy="1204.3" rx="4.5" ry="5" transform="rotate(0 113.5 1204.3)" fill="none" stroke="#111" stroke-width="1.25"/>
<ellipse cx="40.6" cy="1220.6" rx="8" ry="5" transform="rotate(30 40.6 1220.6)" fill="none" stroke="#111" stroke-width="1.25"/>
<ellipse cx="145.7" cy="1267.3" rx="6" ry="4.5" transform="rotate(-20 145.7 1267.3)" fill="none" stroke="#111" stroke-width="1.25"/>
<ellipse cx="220.1" cy="1091.6" rx="5" ry="4.5" transform="rotate(0 220.1 1091.6)" fill="none" stroke="#111" stroke-width="1.25"/>
<ellipse cx="245.9" cy="1048.7" rx="8" ry="4" transform="rotate(-45 245.9 1048.7)" fill="none" stroke="#111" stroke-width="1.25"/>
<ellipse cx="278.4" cy="1049.9" rx="5.5" ry="5" transform="rotate(0 278.4 1049.9)" fill="none" stroke="#111" stroke-width="1.25"/>
<ellipse cx="304.2" cy="1057.2" rx="5" ry="4" transform="rotate(0 304.2 1057.2)" fill="none" stroke="#111" stroke-width="1.25"/>
<ellipse cx="253.1" cy="1071.6" rx="6" ry="4" transform="rotate(-30 253.1 1071.6)" fill="none" stroke="#111" stroke-width="1.25"/>
<ellipse cx="262.8" cy="1065.1" rx="5" ry="4.5" transform="rotate(-30 262.8 1065.1)" fill="none" stroke="#111" stroke-width="1.25"/>
<ellipse cx="321.3" cy="1077.7" rx="5" ry="4.5" transform="rotate(0 321.3 1077.7)" fill="none" stroke="#111" stroke-width="1.25"/>
<ellipse cx="303.3" cy="1092.1" rx="4.5" ry="4" transform="rotate(0 303.3 1092.1)" fill="none" stroke="#111" stroke-width="1.25"/>
<ellipse cx="314.6" cy="1090.9" rx="5" ry="4" transform="rotate(-10 314.6 1090.9)" fill="none" stroke="#111" stroke-width="1.25"/>
<ellipse cx="325" cy="1108.5" rx="3" ry="4.5" transform="rotate(0 325 1108.5)" fill="none" stroke="#111" stroke-width="1.25"/>
<ellipse cx="265.7" cy="1134.8" rx="6" ry="4.5" transform="rotate(0 265.7 1134.8)" fill="none" stroke="#111" stroke-width="1.25"/>
<ellipse cx="308.6" cy="1148.4" rx="5.5" ry="4" transform="rotate(-20 308.6 1148.4)" fill="none" stroke="#111" stroke-width="1.25"/>
<ellipse cx="303.7" cy="1154.5" rx="5.5" ry="4" transform="rotate(0 303.7 1154.5)" fill="none" stroke="#111" stroke-width="1.25"/>
<ellipse cx="258" cy="1160.5" rx="7.5" ry="5" transform="rotate(0 258 1160.5)" fill="none" stroke="#111" stroke-width="1.25"/>
<ellipse cx="199.6" cy="1195.4" rx="7" ry="4.5" transform="rotate(0 199.6 1195.4)" fill="none" stroke="#111" stroke-width="1.25"/>
<ellipse cx="201.3" cy="1207.5" rx="5.5" ry="7" transform="rotate(0 201.3 1207.5)" fill="none" stroke="#111" stroke-width="1.25"/>
<ellipse cx="226.6" cy="1236.9" rx="7" ry="5.5" transform="rotate(0 226.6 1236.9)" fill="none" stroke="#111" stroke-width="1.25"/>
<ellipse cx="262" cy="1249.6" rx="6.5" ry="5" transform="rotate(10 262 1249.6)" fill="none" stroke="#111" stroke-width="1.25"/>
<ellipse cx="324" cy="1218.3" rx="3.5" ry="4.5" transform="rotate(0 324 1218.3)" fill="none" stroke="#111" stroke-width="1.25"/>
<ellipse cx="191.2" cy="1267.7" rx="8.5" ry="5" transform="rotate(15 191.2 1267.7)" fill="none" stroke="#111" stroke-width="1.25"/>
<ellipse cx="200.1" cy="1273.3" rx="5.5" ry="4" transform="rotate(0 200.1 1273.3)" fill="none" stroke="#111" stroke-width="1.25"/>
<ellipse cx="257.2" cy="1264.8" rx="5.5" ry="5.5" transform="rotate(-30 257.2 1264.8)" fill="none" stroke="#111" stroke-width="1.25"/>
<ellipse cx="244.7" cy="1270.8" rx="6.5" ry="4" transform="rotate(-20 244.7 1270.8)" fill="none" stroke="#111" stroke-width="1.25"/>
<ellipse cx="52.5" cy="1078" rx="4.5" ry="4.5" transform="rotate(0 52.5 1078)" fill="#5aaf6e" stroke="#111" stroke-width="1.25"/>
<ellipse cx="50" cy="1092.6" rx="4" ry="3.2" transform="rotate(-20 50 1092.6)" fill="#5aaf6e" stroke="#111" stroke-width="1.25"/>
<ellipse cx="41.9" cy="1112.5" rx="4.6" ry="4.3" transform="rotate(0 41.9 1112.5)" fill="#5aaf6e" stroke="#111" stroke-width="1.25"/>
<ellipse cx="193.4" cy="1107.3" rx="5" ry="5.5" transform="rotate(0 193.4 1107.3)" fill="#5aaf6e" stroke="#111" stroke-width="1.25"/>
<ellipse cx="221.1" cy="1127.8" rx="5" ry="6" transform="rotate(0 221.1 1127.8)" fill="#f4a25e" stroke="#111" stroke-width="1.25"/>
<ellipse cx="238.7" cy="1126.3" rx="5" ry="5" transform="rotate(0 238.7 1126.3)" fill="#f4a25e" stroke="#111" stroke-width="1.25"/>
<ellipse cx="148" cy="1189" rx="4.5" ry="4.5" transform="rotate(0 148 1189)" fill="#cfc3df" stroke="#111" stroke-width="1.25"/>
<ellipse cx="148.5" cy="1201.2" rx="5" ry="6.5" transform="rotate(0 148.5 1201.2)" fill="#cfc3df" stroke="#111" stroke-width="1.25"/>
<ellipse cx="153.2" cy="1226" rx="6" ry="4.5" transform="rotate(0 153.2 1226)" fill="#d9595b" stroke="#111" stroke-width="1.25"/>
<ellipse cx="160.9" cy="1218.3" rx="4.5" ry="4.5" transform="rotate(0 160.9 1218.3)" fill="#d9595b" stroke="#111" stroke-width="1.25"/>
<ellipse cx="166.7" cy="1225.7" rx="5" ry="4" transform="rotate(0 166.7 1225.7)" fill="#d9595b" stroke="#111" stroke-width="1.25"/>
<ellipse cx="176" cy="1229.5" rx="4.5" ry="4.5" transform="rotate(0 176 1229.5)" fill="#d9595b" stroke="#111" stroke-width="1.25"/>
</g>
<line x1="188" y1="1106.5" x2="57.4" y2="1079.2" stroke="#e8242c" stroke-width="1.2"/>
<path d="M51.5,1078 L58.8,1076.4 L57.4,1079.2 L57.6,1082.4Z" fill="#e8242c"/>
<line x1="188" y1="1106.5" x2="55.5" y2="1093.2" stroke="#e8242c" stroke-width="1.2"/>
<path d="M49.5,1092.6 L56.6,1090.2 L55.5,1093.2 L56.0,1096.3Z" fill="#e8242c"/>
<line x1="188" y1="1106.5" x2="47.5" y2="1112.3" stroke="#e8242c" stroke-width="1.2"/>
<path d="M41.5,1112.5 L48.2,1109.2 L47.5,1112.3 L48.5,1115.3Z" fill="#e8242c"/>
<line x1="44.6" y1="1084.3" x2="44.9" y2="1083.7" stroke="#e8242c" stroke-width="1.8"/>
<path d="M46.9,1079.8 L47.6,1085.3 L44.9,1083.7 L42.1,1082.4Z" fill="#e8242c"/>
<line x1="44.6" y1="1084.3" x2="44.4" y2="1084.8" stroke="#e8242c" stroke-width="1.8"/>
<path d="M42.5,1088.8 L41.6,1083.4 L44.4,1084.8 L47.2,1086.0Z" fill="#e8242c"/>
<line x1="40.2" y1="1100.4" x2="41.1" y2="1098.3" stroke="#e8242c" stroke-width="1.8"/>
<path d="M42.9,1094.3 L43.9,1099.7 L41.1,1098.3 L38.2,1097.2Z" fill="#e8242c"/>
<line x1="40.2" y1="1100.4" x2="39.2" y2="1102.4" stroke="#e8242c" stroke-width="1.8"/>
<path d="M37.3,1106.4 L36.5,1101.0 L39.2,1102.4 L42.1,1103.7Z" fill="#e8242c"/>
<path d="M40,1074.6 C20,1081 14,1101 31.5,1111.5" fill="none" stroke="#e8242c" stroke-width="1.3"/>
<path d="M43.2,1073.4 L35.2,1072.2 L37.8,1078.2Z" fill="#e8242c"/>
<path d="M34.5,1113.2 L27.2,1111.6 L31.4,1106.8Z" fill="#e8242c"/>
<text x="348.2" y="1012.3" font-size="20.5" text-anchor="start" font-weight="bold" fill="#000">G</text>
<line x1="422.4" y1="1010" x2="422.4" y2="1259.8" stroke="#111" stroke-width="1.4"/>
<line x1="421.2" y1="1259.5" x2="667.5" y2="1259.5" stroke="#111" stroke-width="1.8"/>
<text x="416.6" y="1022.0" font-size="14" text-anchor="end" font-weight="normal" fill="#000">1.0</text>
<text x="416.6" y="1147.8999999999999" font-size="14" text-anchor="end" font-weight="normal" fill="#000">0.5</text>
<text x="416.6" y="1264.8" font-size="14" text-anchor="end" font-weight="normal" fill="#000">0</text>
<line x1="422.1" y1="1259.5" x2="422.1" y2="1262" stroke="#111" stroke-width="1.5"/>
<text x="421.5" y="1278.5" font-size="14.5" text-anchor="middle" font-weight="normal" fill="#000">0</text>
<line x1="471" y1="1259.5" x2="471" y2="1262" stroke="#111" stroke-width="1.5"/>
<text x="470.4" y="1278.5" font-size="14.5" text-anchor="middle" font-weight="normal" fill="#000">20</text>
<line x1="518.8" y1="1259.5" x2="518.8" y2="1262" stroke="#111" stroke-width="1.5"/>
<text x="518.1999999999999" y="1278.5" font-size="14.5" text-anchor="middle" font-weight="normal" fill="#000">40</text>
<line x1="567.7" y1="1259.5" x2="567.7" y2="1262" stroke="#111" stroke-width="1.5"/>
<text x="567.1" y="1278.5" font-size="14.5" text-anchor="middle" font-weight="normal" fill="#000">60</text>
<line x1="615.5" y1="1259.5" x2="615.5" y2="1262" stroke="#111" stroke-width="1.5"/>
<text x="614.9" y="1278.5" font-size="14.5" text-anchor="middle" font-weight="normal" fill="#000">80</text>
<line x1="661.3" y1="1259.5" x2="661.3" y2="1262" stroke="#111" stroke-width="1.5"/>
<text x="660.6999999999999" y="1278.5" font-size="14.5" text-anchor="middle" font-weight="normal" fill="#000">100</text>
<text x="546" y="1296.8" font-size="17" text-anchor="middle" font-weight="bold" fill="#000">% spatial clustering</text>
<text x="546.2" y="1316.6" font-size="17" text-anchor="middle" font-weight="bold" fill="#000">relative to shuffle</text>
<text x="383.5" y="1141.5" font-size="17" text-anchor="middle" font-weight="bold" fill="#000" transform="rotate(-90 383.5 1141.5)">Cumulative distribution</text>
<line x1="546.3" y1="1015" x2="546.3" y2="1248" stroke="#111" stroke-width="2.3" stroke-dasharray="2.3,4.6"/>
<defs><clipPath id="gclip"><rect x="422.4" y="990" width="260" height="270"/></clipPath></defs><g clip-path="url(#gclip)">
<polyline points="422.1,1246.9 425.6,1213.1 432.2,1180.4 449.3,1146.1 482.5,1113.4 484.0,1079.1 505.2,1046.4 634.6,1012.7" fill="none" stroke="#1b91b2" stroke-width="2.2" stroke-linejoin="round"/>
<circle cx="422.1" cy="1246.9" r="3.6" fill="#1b91b2"/>
<circle cx="425.6" cy="1213.1" r="3.6" fill="#1b91b2"/>
<circle cx="432.2" cy="1180.4" r="3.6" fill="#1b91b2"/>
<circle cx="449.3" cy="1146.1" r="3.6" fill="#1b91b2"/>
<circle cx="482.5" cy="1113.4" r="3.6" fill="#1b91b2"/>
<circle cx="484" cy="1079.1" r="3.6" fill="#1b91b2"/>
<circle cx="505.2" cy="1046.4" r="3.6" fill="#1b91b2"/>
<circle cx="634.6" cy="1012.7" r="3.6" fill="#1b91b2"/>
<polyline points="440.7,1191.5 443.2,1101.8 466.9,1012.7" fill="none" stroke="#d42a36" stroke-width="2.2" stroke-linejoin="round"/>
<circle cx="440.7" cy="1191.5" r="3.6" fill="#d42a36"/>
<circle cx="443.2" cy="1101.8" r="3.6" fill="#d42a36"/>
<circle cx="466.9" cy="1012.7" r="3.6" fill="#d42a36"/>
</g>
<line x1="527" y1="1190" x2="498" y2="1190" stroke="#111" stroke-width="1.6"/>
<path d="M491.7,1190 L503.5,1184.2 L500.5,1190 L503.5,1195.8 Z" fill="#111"/>
<line x1="564.7" y1="1191" x2="590" y2="1191" stroke="#111" stroke-width="1.6"/>
<path d="M597.3,1191 L585.5,1185.2 L588.5,1191 L585.5,1196.8 Z" fill="#111"/>
<text x="502.5" y="1214" font-size="14" text-anchor="middle" font-weight="normal" fill="#333">More</text>
<text x="491.5" y="1233" font-size="14" text-anchor="middle" font-weight="normal" fill="#333">clustered</text>
<text x="578.7" y="1214" font-size="14" text-anchor="middle" font-weight="normal" fill="#333">Less</text>
<text x="592.3" y="1233" font-size="14" text-anchor="middle" font-weight="normal" fill="#333">clustered</text>
<line x1="557.6" y1="1049.4" x2="581.8" y2="1049.4" stroke="#1b91b2" stroke-width="2"/>
<circle cx="569.5" cy="1049.4" r="3.8" fill="#1b91b2"/>
<text x="586.8" y="1054.5" font-size="14" text-anchor="start" font-weight="normal" fill="#000">Vehicle</text>
<line x1="557.6" y1="1065.5" x2="581.8" y2="1065.5" stroke="#d42a36" stroke-width="2"/>
<circle cx="569.5" cy="1065.5" r="3.8" fill="#d42a36"/>
<text x="586.8" y="1070.5" font-size="14" text-anchor="start" font-weight="normal" fill="#000">IEM 1460</text>
</svg>
</body></html>
